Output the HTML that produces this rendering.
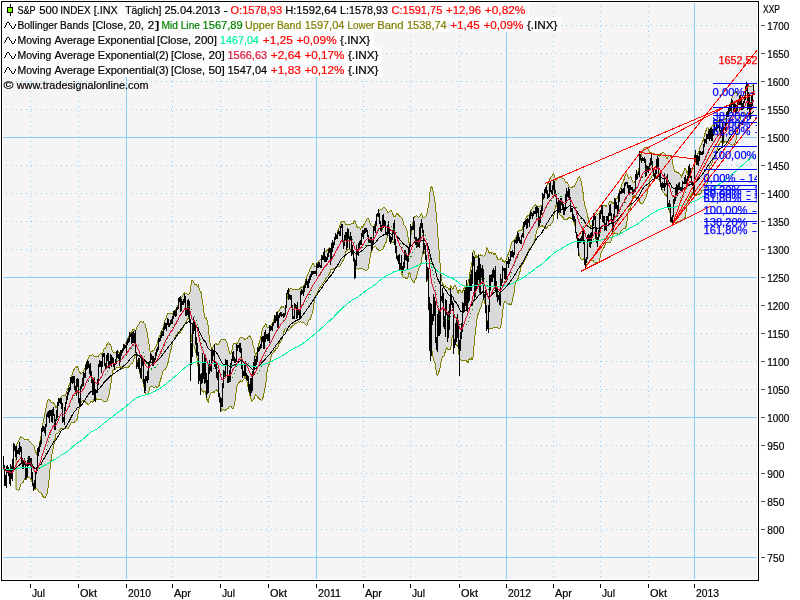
<!DOCTYPE html><html><head><meta charset="utf-8"><style>html,body{margin:0;padding:0;background:#fff;width:800px;height:600px;overflow:hidden}</style></head><body><svg width="800" height="600" viewBox="0 0 800 600" style="position:absolute;left:0;top:0;will-change:transform;font-family:'Liberation Sans',sans-serif;font-size:11px">
<rect x="0" y="0" width="800" height="600" fill="#fff"/>
<rect x="2" y="2" width="756" height="578" fill="#f5f5f5"/>
<defs><clipPath id="cp"><rect x="2" y="2" width="756" height="578"/></clipPath></defs>
<g shape-rendering="crispEdges" stroke="#87cefa" stroke-width="1" fill="none"><line x1="2" x2="758" y1="557.5" y2="557.5"/><line x1="1" x2="758" y1="529.5" y2="529.5" stroke-dasharray="1 4"/><line x1="1" x2="758" y1="501.5" y2="501.5" stroke-dasharray="1 4"/><line x1="1" x2="758" y1="473.5" y2="473.5" stroke-dasharray="1 4"/><line x1="1" x2="758" y1="445.5" y2="445.5" stroke-dasharray="1 4"/><line x1="2" x2="758" y1="417.5" y2="417.5"/><line x1="1" x2="758" y1="389.5" y2="389.5" stroke-dasharray="1 4"/><line x1="1" x2="758" y1="361.5" y2="361.5" stroke-dasharray="1 4"/><line x1="1" x2="758" y1="333.5" y2="333.5" stroke-dasharray="1 4"/><line x1="1" x2="758" y1="305.5" y2="305.5" stroke-dasharray="1 4"/><line x1="2" x2="758" y1="277.5" y2="277.5"/><line x1="1" x2="758" y1="249.5" y2="249.5" stroke-dasharray="1 4"/><line x1="1" x2="758" y1="221.5" y2="221.5" stroke-dasharray="1 4"/><line x1="1" x2="758" y1="193.5" y2="193.5" stroke-dasharray="1 4"/><line x1="1" x2="758" y1="165.5" y2="165.5" stroke-dasharray="1 4"/><line x1="2" x2="758" y1="137.5" y2="137.5"/><line x1="1" x2="758" y1="109.5" y2="109.5" stroke-dasharray="1 4"/><line x1="1" x2="758" y1="81.5" y2="81.5" stroke-dasharray="1 4"/><line x1="1" x2="758" y1="53.5" y2="53.5" stroke-dasharray="1 4"/><line x1="1" x2="758" y1="25.5" y2="25.5" stroke-dasharray="1 4"/><line y1="1" y2="580" x1="30.5" x2="30.5" stroke-dasharray="1 4"/><line y1="1" y2="580" x1="78.5" x2="78.5" stroke-dasharray="1 4"/><line y1="2" y2="580" x1="126.5" x2="126.5"/><line y1="1" y2="580" x1="172.5" x2="172.5" stroke-dasharray="1 4"/><line y1="1" y2="580" x1="220.5" x2="220.5" stroke-dasharray="1 4"/><line y1="1" y2="580" x1="268.5" x2="268.5" stroke-dasharray="1 4"/><line y1="2" y2="580" x1="316.5" x2="316.5"/><line y1="1" y2="580" x1="363.5" x2="363.5" stroke-dasharray="1 4"/><line y1="1" y2="580" x1="410.5" x2="410.5" stroke-dasharray="1 4"/><line y1="1" y2="580" x1="459.5" x2="459.5" stroke-dasharray="1 4"/><line y1="2" y2="580" x1="506.5" x2="506.5"/><line y1="1" y2="580" x1="553.5" x2="553.5" stroke-dasharray="1 4"/><line y1="1" y2="580" x1="600.5" x2="600.5" stroke-dasharray="1 4"/><line y1="1" y2="580" x1="648.5" x2="648.5" stroke-dasharray="1 4"/><line y1="2" y2="580" x1="694.5" x2="694.5"/></g>
<rect x="2" y="2" width="527" height="15" fill="#fff" fill-opacity="0.82"/>
<rect x="2" y="17" width="559" height="15" fill="#fff" fill-opacity="0.82"/>
<rect x="2" y="32" width="372" height="15" fill="#fff" fill-opacity="0.82"/>
<rect x="2" y="47" width="380" height="15" fill="#fff" fill-opacity="0.82"/>
<rect x="2" y="62" width="380" height="15" fill="#fff" fill-opacity="0.82"/>
<g clip-path="url(#cp)">
<path d="M16.0 446.4 L16.8 444.3 L17.5 443.4 L18.3 441.4 L19.0 439.8 L19.8 438.5 L20.5 437.0 L21.3 437.9 L22.0 437.9 L22.8 438.0 L23.5 438.1 L24.3 439.2 L25.1 439.7 L25.8 439.0 L26.6 439.5 L27.3 439.7 L28.1 439.7 L28.8 440.6 L29.6 441.9 L30.3 442.2 L31.1 443.0 L31.8 444.0 L32.6 444.1 L33.3 445.1 L34.1 446.5 L34.8 448.9 L35.6 452.7 L36.4 453.9 L37.1 452.0 L37.9 449.3 L38.6 447.2 L39.4 444.1 L40.1 440.4 L40.9 437.3 L41.6 431.7 L42.4 426.8 L43.1 422.0 L43.9 418.3 L44.6 415.2 L45.4 411.2 L46.1 407.9 L46.9 403.6 L47.7 400.7 L48.4 399.3 L49.2 399.4 L49.9 400.2 L50.7 400.6 L51.4 403.0 L52.2 402.9 L52.9 402.1 L53.7 403.0 L54.4 404.3 L55.2 405.6 L55.9 407.5 L56.7 407.1 L57.5 404.4 L58.2 402.3 L59.0 400.4 L59.7 399.3 L60.5 397.6 L61.2 396.4 L62.0 395.8 L62.7 395.7 L63.5 395.6 L64.2 395.7 L65.0 395.4 L65.7 394.5 L66.5 393.1 L67.2 390.5 L68.0 388.5 L68.8 385.9 L69.5 384.8 L70.3 381.4 L71.0 378.8 L71.8 375.9 L72.5 373.7 L73.3 370.9 L74.0 369.4 L74.8 368.8 L75.5 368.5 L76.3 367.1 L77.0 366.2 L77.8 367.2 L78.6 369.7 L79.3 371.5 L80.1 372.8 L80.8 373.4 L81.6 373.5 L82.3 372.8 L83.1 371.8 L83.8 370.4 L84.6 369.4 L85.3 366.8 L86.1 363.8 L86.8 362.2 L87.6 359.5 L88.3 358.0 L89.1 357.2 L89.9 355.4 L90.6 355.1 L91.4 355.0 L92.1 355.0 L92.9 354.6 L93.6 355.8 L94.4 356.8 L95.1 357.0 L95.9 356.7 L96.6 356.3 L97.4 356.3 L98.1 356.4 L98.9 355.3 L99.6 354.1 L100.4 353.5 L101.2 354.3 L101.9 353.8 L102.7 352.6 L103.4 350.7 L104.2 348.5 L104.9 348.3 L105.7 347.8 L106.4 345.8 L107.2 344.2 L107.9 343.1 L108.7 342.7 L109.4 344.1 L110.2 344.7 L111.0 346.0 L111.7 349.3 L112.5 350.5 L113.2 352.5 L114.0 352.4 L114.7 352.5 L115.5 352.4 L116.2 352.6 L117.0 351.8 L117.7 351.9 L118.5 352.0 L119.2 352.4 L120.0 352.4 L120.7 351.9 L121.5 350.8 L122.3 349.5 L123.0 347.7 L123.8 346.1 L124.5 344.9 L125.3 343.7 L126.0 343.4 L126.8 341.7 L127.5 339.6 L128.3 337.9 L129.0 336.4 L129.8 334.8 L130.5 333.0 L131.3 332.4 L132.0 330.9 L132.8 329.5 L133.6 329.3 L134.3 329.4 L135.1 330.5 L135.8 330.6 L136.6 328.0 L137.3 326.6 L138.1 325.2 L138.8 324.5 L139.6 323.2 L140.3 321.5 L141.1 321.1 L141.8 321.7 L142.6 322.6 L143.4 322.1 L144.1 322.9 L144.9 324.0 L145.6 326.8 L146.4 328.8 L147.1 332.6 L147.9 337.4 L148.6 340.8 L149.4 347.1 L150.1 351.5 L150.9 352.4 L151.6 351.2 L152.4 351.3 L153.1 350.4 L153.9 350.0 L154.7 349.0 L155.4 347.1 L156.2 345.2 L156.9 343.9 L157.7 341.9 L158.4 338.8 L159.2 336.3 L159.9 335.0 L160.7 332.8 L161.4 331.0 L162.2 329.2 L162.9 328.3 L163.7 325.6 L164.4 322.4 L165.2 319.7 L166.0 317.9 L166.7 315.9 L167.5 314.3 L168.2 313.3 L169.0 313.2 L169.7 313.7 L170.5 313.2 L171.2 313.0 L172.0 313.8 L172.7 314.2 L173.5 312.4 L174.2 310.9 L175.0 310.6 L175.8 309.9 L176.5 308.2 L177.3 306.7 L178.0 305.6 L178.8 302.4 L179.5 299.5 L180.3 299.0 L181.0 298.6 L181.8 297.2 L182.5 295.9 L183.3 294.8 L184.0 293.3 L184.8 292.7 L185.5 293.1 L186.3 293.6 L187.1 294.1 L187.8 294.6 L188.6 294.5 L189.3 293.5 L190.1 292.2 L190.8 286.2 L191.6 280.7 L192.3 280.8 L193.1 281.1 L193.8 282.6 L194.6 284.3 L195.3 284.1 L196.1 284.6 L196.8 285.6 L197.6 286.7 L198.4 285.5 L199.1 288.3 L199.9 290.7 L200.6 291.5 L201.4 293.6 L202.1 299.6 L202.9 303.8 L203.6 310.3 L204.4 314.7 L205.1 318.7 L205.9 319.1 L206.6 318.2 L207.4 322.2 L208.2 326.2 L208.9 334.1 L209.7 340.7 L210.4 344.9 L211.2 347.8 L211.9 348.6 L212.7 348.5 L213.4 346.0 L214.2 344.4 L214.9 344.1 L215.7 343.9 L216.4 344.0 L217.2 344.8 L217.9 344.9 L218.7 343.4 L219.5 342.1 L220.2 341.6 L221.0 340.0 L221.7 339.1 L222.5 339.1 L223.2 339.1 L224.0 339.4 L224.7 340.0 L225.5 339.7 L226.2 341.3 L227.0 342.8 L227.7 346.0 L228.5 349.6 L229.3 352.4 L230.0 354.0 L230.8 353.9 L231.5 351.7 L232.3 348.4 L233.0 345.4 L233.8 343.6 L234.5 343.2 L235.3 343.7 L236.0 343.4 L236.8 344.8 L237.5 342.9 L238.3 341.2 L239.0 339.9 L239.8 338.3 L240.6 337.3 L241.3 337.2 L242.1 337.1 L242.8 338.0 L243.6 338.5 L244.3 338.7 L245.1 339.9 L245.8 339.1 L246.6 338.4 L247.3 338.1 L248.1 337.1 L248.8 336.6 L249.6 335.7 L250.3 336.1 L251.1 338.0 L251.9 339.9 L252.6 343.3 L253.4 346.5 L254.1 348.4 L254.9 352.5 L255.6 355.4 L256.4 354.0 L257.1 351.8 L257.9 348.1 L258.6 345.0 L259.4 342.2 L260.1 339.7 L260.9 336.8 L261.7 332.4 L262.4 329.0 L263.2 327.3 L263.9 326.7 L264.7 325.2 L265.4 324.0 L266.2 324.5 L266.9 327.0 L267.7 327.4 L268.4 327.1 L269.2 327.0 L269.9 326.0 L270.7 325.2 L271.4 324.9 L272.2 323.7 L273.0 322.1 L273.7 320.5 L274.5 318.0 L275.2 316.6 L276.0 315.3 L276.7 312.6 L277.5 312.1 L278.2 311.1 L279.0 311.0 L279.7 309.5 L280.5 308.3 L281.2 307.2 L282.0 306.8 L282.7 306.8 L283.5 307.0 L284.3 308.9 L285.0 307.8 L285.8 306.5 L286.5 301.8 L287.3 297.1 L288.0 293.8 L288.8 292.2 L289.5 290.1 L290.3 288.9 L291.0 288.8 L291.8 288.6 L292.5 289.2 L293.3 289.3 L294.1 289.3 L294.8 289.2 L295.6 289.1 L296.3 289.0 L297.1 289.1 L297.8 289.2 L298.6 289.3 L299.3 289.1 L300.1 288.8 L300.8 287.4 L301.6 287.0 L302.3 287.3 L303.1 287.2 L303.8 285.8 L304.6 284.3 L305.4 281.7 L306.1 278.8 L306.9 276.2 L307.6 275.1 L308.4 273.6 L309.1 271.8 L309.9 269.8 L310.6 267.4 L311.4 266.1 L312.1 264.5 L312.9 263.8 L313.6 264.0 L314.4 266.4 L315.1 266.9 L315.9 266.5 L316.7 264.6 L317.4 263.5 L318.2 262.1 L318.9 261.1 L319.7 260.5 L320.4 259.9 L321.2 259.0 L321.9 257.1 L322.7 256.4 L323.4 254.2 L324.2 252.4 L324.9 252.2 L325.7 251.9 L326.5 251.3 L327.2 250.4 L328.0 249.7 L328.7 248.5 L329.5 247.4 L330.2 248.1 L331.0 248.9 L331.7 246.7 L332.5 245.4 L333.2 243.7 L334.0 242.0 L334.7 239.7 L335.5 237.2 L336.2 235.6 L337.0 233.7 L337.8 231.3 L338.5 228.8 L339.3 227.0 L340.0 225.0 L340.8 223.0 L341.5 221.1 L342.3 221.2 L343.0 221.6 L343.8 221.7 L344.5 221.6 L345.3 223.3 L346.0 224.8 L346.8 224.8 L347.5 224.6 L348.3 224.7 L349.1 224.7 L349.8 224.7 L350.6 224.8 L351.3 223.8 L352.1 223.7 L352.8 223.7 L353.6 223.2 L354.3 220.3 L355.1 221.0 L355.8 223.1 L356.6 226.3 L357.3 227.0 L358.1 227.2 L358.9 227.1 L359.6 227.5 L360.4 228.9 L361.1 228.0 L361.9 226.5 L362.6 227.1 L363.4 226.0 L364.1 224.2 L364.9 223.3 L365.6 221.9 L366.4 220.1 L367.1 219.0 L367.9 218.1 L368.6 218.3 L369.4 221.2 L370.2 223.1 L370.9 225.0 L371.7 225.4 L372.4 226.4 L373.2 226.8 L373.9 225.9 L374.7 225.2 L375.4 223.4 L376.2 220.5 L376.9 217.4 L377.7 214.3 L378.4 212.1 L379.2 210.5 L380.0 209.9 L380.7 209.9 L381.5 209.7 L382.2 209.1 L383.0 207.7 L383.7 207.9 L384.5 207.8 L385.2 208.4 L386.0 208.8 L386.7 210.6 L387.5 212.2 L388.2 212.4 L389.0 212.3 L389.7 211.1 L390.5 210.3 L391.3 210.7 L392.0 212.0 L392.8 214.1 L393.5 215.7 L394.3 216.8 L395.0 217.1 L395.8 215.9 L396.5 214.1 L397.3 213.6 L398.0 214.6 L398.8 215.3 L399.5 216.0 L400.3 216.4 L401.0 217.3 L401.8 217.4 L402.6 219.3 L403.3 222.4 L404.1 224.9 L404.8 226.0 L405.6 227.3 L406.3 229.1 L407.1 231.6 L407.8 235.5 L408.6 242.7 L409.3 243.7 L410.1 242.5 L410.8 236.7 L411.6 231.7 L412.4 227.3 L413.1 221.5 L413.9 217.9 L414.6 216.9 L415.4 216.5 L416.1 215.7 L416.9 216.1 L417.6 216.5 L418.4 217.2 L419.1 216.9 L419.9 216.3 L420.6 214.8 L421.4 213.8 L422.1 215.6 L422.9 217.5 L423.7 218.0 L424.4 217.6 L425.2 216.5 L425.9 216.2 L426.7 213.1 L427.4 212.3 L428.2 207.0 L428.9 204.3 L429.7 192.5 L430.4 190.7 L431.2 186.4 L431.9 187.2 L432.7 189.4 L433.4 192.2 L434.2 196.8 L435.0 202.2 L435.7 208.9 L436.5 216.8 L437.2 225.6 L438.0 236.7 L438.7 245.6 L439.5 255.4 L440.2 265.4 L441.0 274.7 L441.7 279.3 L442.5 285.0 L443.2 284.7 L444.0 286.0 L444.8 287.3 L445.5 286.1 L446.3 287.3 L447.0 287.3 L447.8 287.5 L448.5 289.2 L449.3 289.4 L450.0 288.2 L450.8 286.0 L451.5 286.9 L452.3 289.1 L453.0 289.3 L453.8 286.6 L454.5 285.3 L455.3 285.3 L456.1 287.0 L456.8 289.0 L457.6 292.2 L458.3 293.2 L459.1 290.1 L459.8 289.5 L460.6 291.6 L461.3 292.7 L462.1 292.6 L462.8 290.8 L463.6 289.4 L464.3 287.9 L465.1 288.4 L465.8 287.4 L466.6 287.6 L467.4 285.2 L468.1 282.6 L468.9 280.1 L469.6 275.6 L470.4 269.5 L471.1 266.7 L471.9 263.2 L472.6 255.3 L473.4 249.7 L474.1 251.6 L474.9 254.9 L475.6 256.7 L476.4 255.9 L477.2 257.9 L477.9 256.8 L478.7 254.8 L479.4 255.3 L480.2 255.9 L480.9 254.6 L481.7 255.6 L482.4 255.2 L483.2 256.4 L483.9 256.4 L484.7 255.6 L485.4 253.7 L486.2 251.6 L486.9 247.8 L487.7 248.3 L488.5 252.1 L489.2 253.5 L490.0 252.4 L490.7 252.0 L491.5 253.2 L492.2 252.9 L493.0 253.1 L493.7 254.6 L494.5 254.4 L495.2 253.4 L496.0 255.3 L496.7 256.7 L497.5 259.0 L498.2 259.8 L499.0 259.7 L499.8 259.8 L500.5 258.8 L501.3 258.1 L502.0 259.3 L502.8 261.5 L503.5 261.0 L504.3 262.4 L505.0 261.3 L505.8 260.7 L506.5 258.1 L507.3 256.4 L508.0 254.4 L508.8 253.0 L509.6 250.7 L510.3 247.8 L511.1 244.9 L511.8 242.4 L512.6 241.8 L513.3 241.3 L514.1 239.7 L514.8 240.4 L515.6 238.2 L516.3 236.5 L517.1 234.9 L517.8 231.9 L518.6 230.2 L519.3 230.3 L520.1 230.2 L520.9 231.2 L521.6 230.1 L522.4 229.2 L523.1 226.1 L523.9 224.0 L524.6 222.1 L525.4 219.6 L526.1 217.5 L526.9 216.6 L527.6 215.8 L528.4 215.3 L529.1 214.9 L529.9 213.1 L530.7 211.2 L531.4 209.5 L532.2 208.7 L532.9 207.2 L533.7 206.1 L534.4 205.3 L535.2 204.8 L535.9 205.9 L536.7 205.6 L537.4 206.3 L538.2 206.1 L538.9 206.1 L539.7 206.2 L540.4 205.8 L541.2 205.1 L542.0 205.0 L542.7 201.0 L543.5 198.3 L544.2 195.2 L545.0 192.0 L545.7 188.5 L546.5 186.1 L547.2 184.4 L548.0 183.6 L548.7 182.7 L549.5 179.9 L550.2 178.0 L551.0 177.0 L551.7 176.1 L552.5 175.1 L553.3 173.7 L554.0 175.2 L554.8 177.5 L555.5 179.1 L556.3 180.1 L557.0 178.4 L557.8 177.1 L558.5 177.1 L559.3 176.6 L560.0 176.4 L560.8 177.2 L561.5 177.9 L562.3 178.3 L563.1 178.4 L563.8 178.3 L564.6 180.3 L565.3 181.8 L566.1 182.3 L566.8 182.3 L567.6 183.2 L568.3 184.8 L569.1 186.1 L569.8 186.6 L570.6 187.3 L571.3 187.3 L572.1 187.6 L572.8 186.9 L573.6 186.7 L574.4 186.1 L575.1 184.5 L575.9 183.5 L576.6 182.3 L577.4 179.7 L578.1 177.4 L578.9 176.9 L579.6 177.0 L580.4 178.7 L581.1 181.7 L581.9 185.7 L582.6 189.7 L583.4 195.3 L584.1 201.6 L584.9 205.4 L585.7 207.3 L586.4 210.5 L587.2 214.2 L587.9 217.1 L588.7 220.5 L589.4 224.2 L590.2 225.6 L590.9 226.7 L591.7 226.3 L592.4 223.7 L593.2 221.4 L593.9 217.6 L594.7 214.6 L595.5 214.4 L596.2 213.7 L597.0 213.8 L597.7 214.3 L598.5 213.7 L599.2 213.2 L600.0 211.6 L600.7 210.7 L601.5 208.9 L602.2 206.5 L603.0 205.8 L603.7 205.1 L604.5 205.8 L605.2 205.8 L606.0 206.5 L606.8 205.9 L607.5 205.5 L608.3 204.5 L609.0 203.2 L609.8 201.4 L610.5 201.0 L611.3 201.0 L612.0 202.4 L612.8 203.5 L613.5 203.6 L614.3 201.7 L615.0 199.7 L615.8 198.7 L616.5 198.5 L617.3 198.7 L618.1 196.1 L618.8 193.5 L619.6 190.6 L620.3 188.2 L621.1 186.8 L621.8 184.4 L622.6 182.7 L623.3 181.0 L624.1 179.3 L624.8 176.9 L625.6 174.6 L626.3 173.3 L627.1 174.2 L627.9 176.5 L628.6 177.9 L629.4 177.3 L630.1 176.9 L630.9 177.0 L631.6 177.8 L632.4 181.7 L633.1 182.4 L633.9 182.9 L634.6 182.9 L635.4 179.9 L636.1 176.6 L636.9 175.2 L637.6 173.5 L638.4 171.7 L639.2 166.5 L639.9 161.5 L640.7 158.1 L641.4 155.3 L642.2 152.6 L642.9 150.4 L643.7 148.8 L644.4 147.5 L645.2 147.3 L645.9 147.6 L646.7 147.5 L647.4 148.6 L648.2 149.5 L649.0 151.1 L649.7 153.7 L650.5 153.1 L651.2 152.5 L652.0 153.0 L652.7 153.4 L653.5 153.1 L654.2 153.2 L655.0 153.7 L655.7 154.5 L656.5 154.9 L657.2 154.9 L658.0 155.2 L658.7 155.9 L659.5 156.5 L660.3 155.0 L661.0 153.5 L661.8 153.0 L662.5 152.5 L663.3 152.4 L664.0 152.9 L664.8 153.6 L665.5 155.6 L666.3 157.9 L667.0 158.8 L667.8 157.3 L668.5 156.4 L669.3 156.0 L670.0 155.5 L670.8 155.0 L671.6 156.7 L672.3 160.6 L673.1 165.7 L673.8 168.3 L674.6 171.2 L675.3 171.5 L676.1 171.7 L676.8 172.5 L677.6 172.6 L678.3 172.3 L679.1 173.5 L679.8 173.9 L680.6 174.7 L681.4 176.7 L682.1 175.4 L682.9 173.8 L683.6 172.3 L684.4 170.1 L685.1 168.3 L685.9 169.2 L686.6 171.8 L687.4 173.8 L688.1 171.0 L688.9 170.3 L689.6 168.9 L690.4 168.3 L691.1 168.1 L691.9 168.8 L692.7 168.9 L693.4 168.4 L694.2 168.1 L694.9 163.8 L695.7 160.9 L696.4 157.6 L697.2 155.2 L697.9 153.7 L698.7 152.0 L699.4 149.2 L700.2 146.8 L700.9 145.0 L701.7 143.7 L702.4 142.1 L703.2 140.0 L704.0 137.5 L704.7 134.5 L705.5 131.9 L706.2 130.0 L707.0 128.2 L707.7 127.6 L708.5 129.7 L709.2 130.8 L710.0 129.8 L710.7 127.6 L711.5 127.2 L712.2 125.8 L713.0 125.2 L713.8 125.0 L714.5 123.6 L715.3 122.7 L716.0 122.0 L716.8 121.7 L717.5 121.8 L718.3 121.8 L719.0 120.4 L719.8 120.6 L720.5 120.9 L721.3 121.1 L722.0 120.1 L722.8 120.0 L723.5 119.7 L724.3 119.6 L725.1 119.4 L725.8 118.7 L726.6 116.6 L727.3 114.3 L728.1 111.9 L728.8 109.0 L729.6 105.9 L730.3 103.6 L731.1 101.4 L731.8 98.4 L732.6 96.1 L733.3 94.8 L734.1 94.0 L734.8 92.5 L735.6 92.6 L736.4 91.6 L737.1 93.7 L737.9 94.9 L738.6 95.0 L739.4 95.2 L740.1 96.5 L740.9 97.0 L741.6 97.5 L742.4 97.8 L743.1 98.1 L743.9 97.9 L744.6 97.1 L745.4 93.5 L746.2 89.7 L746.9 87.4 L747.7 87.4 L748.4 86.8 L749.2 87.0 L749.9 86.4 L750.7 86.7 L751.4 86.7 L752.2 85.9 L752.9 85.1 L753.7 83.1 L753.7 115.8 L752.9 115.4 L752.2 115.5 L751.4 116.3 L750.7 116.5 L749.9 117.3 L749.2 115.8 L748.4 116.2 L747.7 116.8 L746.9 116.4 L746.2 115.5 L745.4 114.0 L744.6 112.3 L743.9 112.2 L743.1 112.6 L742.4 113.5 L741.6 114.8 L740.9 116.0 L740.1 119.1 L739.4 122.9 L738.6 126.1 L737.9 128.8 L737.1 133.8 L736.4 139.4 L735.6 140.8 L734.8 143.3 L734.1 144.5 L733.3 144.6 L732.6 145.1 L731.8 145.0 L731.1 144.4 L730.3 144.2 L729.6 143.9 L728.8 142.9 L728.1 142.3 L727.3 141.8 L726.6 141.1 L725.8 141.5 L725.1 141.5 L724.3 142.5 L723.5 143.0 L722.8 143.2 L722.0 142.9 L721.3 141.1 L720.5 142.4 L719.8 143.1 L719.0 144.4 L718.3 145.6 L717.5 147.7 L716.8 150.6 L716.0 152.9 L715.3 155.0 L714.5 156.6 L713.8 157.8 L713.0 160.3 L712.2 162.7 L711.5 164.1 L710.7 165.3 L710.0 166.1 L709.2 167.2 L708.5 172.5 L707.7 180.4 L707.0 184.5 L706.2 187.4 L705.5 189.2 L704.7 190.3 L704.0 190.1 L703.2 190.4 L702.4 190.1 L701.7 190.9 L700.9 192.9 L700.2 194.0 L699.4 194.0 L698.7 193.7 L697.9 194.4 L697.2 195.0 L696.4 195.4 L695.7 195.2 L694.9 195.3 L694.2 193.9 L693.4 194.2 L692.7 192.9 L691.9 193.5 L691.1 195.3 L690.4 196.3 L689.6 196.8 L688.9 198.4 L688.1 200.4 L687.4 200.9 L686.6 206.9 L685.9 212.9 L685.1 217.3 L684.4 218.6 L683.6 219.1 L682.9 219.8 L682.1 220.4 L681.4 220.2 L680.6 221.1 L679.8 221.4 L679.1 221.5 L678.3 222.0 L677.6 221.9 L676.8 222.0 L676.1 222.0 L675.3 222.0 L674.6 222.1 L673.8 222.6 L673.1 222.7 L672.3 223.9 L671.6 222.1 L670.8 218.1 L670.0 212.8 L669.3 209.3 L668.5 206.0 L667.8 202.1 L667.0 197.1 L666.3 194.5 L665.5 195.0 L664.8 194.5 L664.0 193.1 L663.3 192.6 L662.5 190.7 L661.8 188.6 L661.0 186.2 L660.3 183.3 L659.5 180.2 L658.7 179.5 L658.0 178.7 L657.2 178.8 L656.5 178.8 L655.7 178.9 L655.0 178.6 L654.2 177.1 L653.5 175.6 L652.7 175.1 L652.0 175.9 L651.2 177.9 L650.5 178.6 L649.7 179.7 L649.0 184.9 L648.2 188.7 L647.4 191.8 L646.7 195.3 L645.9 197.2 L645.2 198.8 L644.4 200.4 L643.7 201.7 L642.9 203.3 L642.2 203.7 L641.4 203.7 L640.7 203.2 L639.9 202.2 L639.2 200.0 L638.4 197.9 L637.6 197.9 L636.9 197.9 L636.1 197.8 L635.4 196.4 L634.6 195.1 L633.9 195.2 L633.1 196.4 L632.4 197.9 L631.6 203.7 L630.9 206.4 L630.1 208.3 L629.4 209.3 L628.6 210.1 L627.9 213.9 L627.1 220.4 L626.3 225.5 L625.6 227.9 L624.8 228.7 L624.1 228.5 L623.3 228.7 L622.6 229.3 L621.8 230.4 L621.1 230.7 L620.3 233.1 L619.6 234.1 L618.8 234.6 L618.1 234.3 L617.3 233.8 L616.5 233.7 L615.8 233.7 L615.0 233.4 L614.3 232.7 L613.5 234.0 L612.8 235.7 L612.0 237.8 L611.3 240.6 L610.5 241.4 L609.8 243.1 L609.0 242.5 L608.3 242.1 L607.5 242.1 L606.8 242.3 L606.0 243.2 L605.2 245.0 L604.5 246.0 L603.7 248.5 L603.0 249.3 L602.2 250.8 L601.5 251.5 L600.7 254.6 L600.0 258.5 L599.2 261.7 L598.5 262.2 L597.7 262.7 L597.0 262.5 L596.2 262.3 L595.5 262.5 L594.7 262.6 L593.9 261.8 L593.2 260.4 L592.4 260.8 L591.7 260.3 L590.9 260.2 L590.2 260.4 L589.4 261.0 L588.7 262.2 L587.9 263.8 L587.2 264.5 L586.4 265.4 L585.7 264.0 L584.9 260.8 L584.1 258.2 L583.4 259.3 L582.6 259.8 L581.9 260.1 L581.1 259.3 L580.4 257.9 L579.6 255.6 L578.9 252.5 L578.1 249.2 L577.4 242.2 L576.6 235.6 L575.9 231.1 L575.1 226.7 L574.4 223.3 L573.6 221.7 L572.8 219.9 L572.1 218.4 L571.3 219.0 L570.6 218.3 L569.8 217.4 L569.1 217.5 L568.3 218.1 L567.6 219.0 L566.8 219.3 L566.1 219.3 L565.3 219.5 L564.6 219.8 L563.8 219.2 L563.1 217.5 L562.3 216.8 L561.5 215.8 L560.8 215.3 L560.0 215.0 L559.3 212.9 L558.5 210.6 L557.8 210.2 L557.0 207.4 L556.3 204.9 L555.5 206.6 L554.8 210.0 L554.0 214.9 L553.3 220.3 L552.5 222.0 L551.7 223.2 L551.0 224.0 L550.2 225.2 L549.5 225.5 L548.7 225.5 L548.0 226.3 L547.2 227.1 L546.5 228.0 L545.7 228.0 L545.0 227.2 L544.2 226.6 L543.5 226.9 L542.7 226.6 L542.0 225.1 L541.2 226.6 L540.4 226.9 L539.7 227.4 L538.9 227.8 L538.2 227.7 L537.4 228.6 L536.7 231.8 L535.9 234.3 L535.2 238.4 L534.4 241.3 L533.7 243.3 L532.9 244.8 L532.2 245.4 L531.4 247.0 L530.7 247.9 L529.9 248.6 L529.1 249.2 L528.4 250.8 L527.6 253.5 L526.9 256.2 L526.1 258.0 L525.4 259.1 L524.6 259.9 L523.9 261.7 L523.1 263.4 L522.4 263.8 L521.6 265.6 L520.9 267.1 L520.1 271.2 L519.3 273.9 L518.6 277.7 L517.8 279.0 L517.1 279.4 L516.3 281.2 L515.6 283.6 L514.8 285.5 L514.1 292.3 L513.3 295.7 L512.6 299.5 L511.8 303.3 L511.1 304.7 L510.3 304.9 L509.6 304.0 L508.8 304.4 L508.0 303.9 L507.3 303.2 L506.5 302.6 L505.8 301.9 L505.0 301.9 L504.3 301.7 L503.5 306.2 L502.8 309.8 L502.0 318.0 L501.3 324.3 L500.5 326.7 L499.8 328.4 L499.0 328.0 L498.2 328.1 L497.5 327.7 L496.7 327.4 L496.0 327.3 L495.2 327.7 L494.5 327.6 L493.7 327.6 L493.0 328.3 L492.2 328.4 L491.5 328.3 L490.7 328.6 L490.0 328.6 L489.2 329.1 L488.5 327.2 L487.7 325.9 L486.9 319.3 L486.2 311.0 L485.4 306.6 L484.7 301.2 L483.9 299.2 L483.2 299.3 L482.4 301.9 L481.7 303.3 L480.9 307.2 L480.2 308.1 L479.4 310.8 L478.7 312.4 L477.9 314.9 L477.2 317.5 L476.4 325.0 L475.6 329.6 L474.9 336.6 L474.1 345.2 L473.4 355.8 L472.6 358.8 L471.9 357.8 L471.1 359.4 L470.4 359.7 L469.6 358.6 L468.9 359.8 L468.1 362.2 L467.4 362.0 L466.6 360.8 L465.8 360.9 L465.1 360.4 L464.3 360.6 L463.6 360.1 L462.8 360.0 L462.1 360.0 L461.3 360.0 L460.6 359.9 L459.8 359.0 L459.1 356.1 L458.3 348.7 L457.6 345.6 L456.8 345.6 L456.1 344.1 L455.3 343.9 L454.5 343.1 L453.8 340.5 L453.0 335.2 L452.3 335.6 L451.5 342.2 L450.8 347.6 L450.0 349.6 L449.3 349.2 L448.5 349.2 L447.8 349.2 L447.0 348.5 L446.3 347.4 L445.5 352.3 L444.8 352.5 L444.0 356.4 L443.2 356.3 L442.5 356.2 L441.7 359.5 L441.0 361.9 L440.2 366.8 L439.5 370.4 L438.7 372.3 L438.0 374.0 L437.2 375.6 L436.5 372.5 L435.7 368.0 L435.0 363.4 L434.2 361.3 L433.4 358.5 L432.7 355.5 L431.9 350.1 L431.2 343.3 L430.4 328.0 L429.7 318.2 L428.9 295.3 L428.2 284.4 L427.4 270.6 L426.7 265.4 L425.9 257.5 L425.2 254.3 L424.4 251.6 L423.7 250.8 L422.9 251.8 L422.1 256.6 L421.4 262.3 L420.6 264.7 L419.9 266.4 L419.1 267.5 L418.4 269.9 L417.6 272.5 L416.9 275.6 L416.1 278.4 L415.4 279.3 L414.6 281.2 L413.9 283.0 L413.1 282.4 L412.4 280.8 L411.6 279.4 L410.8 277.3 L410.1 273.7 L409.3 272.9 L408.6 273.5 L407.8 278.0 L407.1 279.0 L406.3 278.3 L405.6 278.1 L404.8 277.7 L404.1 277.7 L403.3 277.1 L402.6 276.1 L401.8 273.9 L401.0 270.5 L400.3 269.1 L399.5 265.8 L398.8 262.1 L398.0 259.8 L397.3 256.5 L396.5 252.5 L395.8 247.7 L395.0 244.5 L394.3 242.9 L393.5 241.6 L392.8 242.3 L392.0 242.6 L391.3 242.0 L390.5 240.4 L389.7 237.9 L389.0 235.7 L388.2 235.4 L387.5 236.3 L386.7 239.5 L386.0 242.6 L385.2 243.5 L384.5 245.4 L383.7 247.3 L383.0 249.0 L382.2 249.5 L381.5 249.9 L380.7 250.1 L380.0 250.1 L379.2 250.2 L378.4 250.0 L377.7 249.4 L376.9 248.4 L376.2 247.2 L375.4 246.3 L374.7 246.6 L373.9 247.1 L373.2 247.7 L372.4 249.9 L371.7 252.0 L370.9 252.7 L370.2 256.9 L369.4 261.1 L368.6 267.2 L367.9 269.2 L367.1 269.9 L366.4 270.1 L365.6 270.5 L364.9 270.0 L364.1 269.7 L363.4 269.2 L362.6 268.7 L361.9 268.9 L361.1 268.6 L360.4 268.5 L359.6 268.9 L358.9 269.0 L358.1 269.0 L357.3 268.7 L356.6 268.2 L355.8 268.9 L355.1 267.6 L354.3 264.8 L353.6 257.9 L352.8 254.5 L352.1 252.7 L351.3 251.6 L350.6 249.2 L349.8 249.1 L349.1 249.2 L348.3 249.1 L347.5 250.1 L346.8 251.3 L346.0 251.4 L345.3 254.0 L344.5 258.5 L343.8 259.6 L343.0 260.3 L342.3 261.5 L341.5 263.0 L340.8 264.4 L340.0 265.8 L339.3 266.8 L338.5 266.9 L337.8 266.6 L337.0 266.7 L336.2 266.9 L335.5 267.8 L334.7 268.4 L334.0 268.8 L333.2 269.1 L332.5 269.2 L331.7 269.8 L331.0 269.5 L330.2 272.0 L329.5 273.7 L328.7 274.8 L328.0 275.8 L327.2 276.9 L326.5 277.9 L325.7 278.7 L324.9 279.9 L324.2 281.6 L323.4 282.6 L322.7 283.3 L321.9 285.3 L321.2 285.8 L320.4 286.9 L319.7 287.9 L318.9 289.5 L318.2 291.1 L317.4 292.6 L316.7 294.2 L315.9 294.9 L315.1 296.5 L314.4 299.9 L313.6 306.7 L312.9 310.9 L312.1 314.1 L311.4 315.7 L310.6 318.7 L309.9 319.5 L309.1 320.2 L308.4 321.0 L307.6 323.2 L306.9 325.2 L306.1 325.1 L305.4 324.5 L304.6 323.4 L303.8 322.7 L303.1 322.1 L302.3 322.1 L301.6 322.2 L300.8 322.0 L300.1 321.9 L299.3 322.3 L298.6 321.9 L297.8 322.3 L297.1 322.7 L296.3 323.7 L295.6 323.2 L294.8 323.9 L294.1 324.7 L293.3 325.7 L292.5 325.7 L291.8 327.0 L291.0 327.6 L290.3 328.7 L289.5 329.8 L288.8 330.0 L288.0 330.8 L287.3 330.8 L286.5 329.5 L285.8 328.3 L285.0 329.1 L284.3 329.8 L283.5 334.4 L282.7 336.6 L282.0 339.1 L281.2 340.8 L280.5 341.8 L279.7 343.0 L279.0 343.5 L278.2 346.5 L277.5 347.9 L276.7 348.9 L276.0 348.6 L275.2 350.1 L274.5 351.4 L273.7 351.9 L273.0 353.0 L272.2 353.8 L271.4 355.8 L270.7 358.4 L269.9 361.1 L269.2 364.0 L268.4 365.6 L267.7 368.5 L266.9 372.3 L266.2 380.2 L265.4 386.2 L264.7 389.3 L263.9 393.5 L263.2 396.8 L262.4 399.7 L261.7 400.4 L260.9 399.9 L260.1 399.9 L259.4 399.1 L258.6 398.1 L257.9 397.3 L257.1 396.0 L256.4 395.3 L255.6 394.7 L254.9 396.4 L254.1 398.4 L253.4 399.4 L252.6 400.6 L251.9 401.4 L251.1 399.3 L250.3 396.9 L249.6 395.2 L248.8 391.2 L248.1 387.9 L247.3 383.4 L246.6 380.5 L245.8 378.0 L245.1 376.2 L244.3 378.8 L243.6 379.5 L242.8 380.5 L242.1 382.2 L241.3 381.3 L240.6 381.0 L239.8 381.3 L239.0 382.5 L238.3 383.7 L237.5 385.0 L236.8 386.9 L236.0 393.5 L235.3 399.0 L234.5 403.7 L233.8 407.2 L233.0 409.0 L232.3 408.2 L231.5 407.1 L230.8 406.5 L230.0 406.4 L229.3 406.6 L228.5 407.8 L227.7 408.8 L227.0 409.1 L226.2 409.6 L225.5 410.1 L224.7 410.1 L224.0 410.0 L223.2 409.8 L222.5 410.6 L221.7 410.5 L221.0 408.4 L220.2 404.4 L219.5 399.7 L218.7 394.6 L217.9 391.4 L217.2 390.7 L216.4 390.0 L215.7 390.5 L214.9 391.3 L214.2 392.1 L213.4 392.0 L212.7 392.1 L211.9 392.0 L211.2 392.4 L210.4 394.2 L209.7 395.8 L208.9 398.7 L208.2 401.8 L207.4 400.3 L206.6 398.7 L205.9 394.5 L205.1 391.3 L204.4 391.8 L203.6 392.0 L202.9 391.2 L202.1 389.9 L201.4 390.1 L200.6 385.3 L199.9 379.9 L199.1 374.6 L198.4 370.1 L197.6 361.2 L196.8 357.3 L196.1 353.4 L195.3 350.5 L194.6 347.1 L193.8 345.8 L193.1 345.1 L192.3 343.1 L191.6 341.2 L190.8 330.9 L190.1 321.7 L189.3 319.4 L188.6 317.6 L187.8 318.3 L187.1 319.3 L186.3 321.9 L185.5 323.4 L184.8 324.4 L184.0 326.4 L183.3 327.7 L182.5 328.9 L181.8 329.4 L181.0 330.4 L180.3 332.0 L179.5 333.0 L178.8 332.6 L178.0 332.3 L177.3 333.8 L176.5 334.9 L175.8 335.7 L175.0 337.3 L174.2 339.3 L173.5 340.7 L172.7 341.6 L172.0 345.1 L171.2 348.7 L170.5 351.7 L169.7 354.4 L169.0 358.3 L168.2 361.8 L167.5 364.3 L166.7 367.1 L166.0 368.4 L165.2 369.4 L164.4 369.9 L163.7 370.5 L162.9 371.4 L162.2 374.8 L161.4 377.0 L160.7 379.8 L159.9 381.8 L159.2 385.2 L158.4 386.7 L157.7 387.8 L156.9 387.3 L156.2 386.9 L155.4 386.6 L154.7 387.0 L153.9 387.1 L153.1 387.0 L152.4 386.9 L151.6 386.9 L150.9 386.5 L150.1 387.0 L149.4 389.7 L148.6 393.1 L147.9 394.2 L147.1 394.9 L146.4 395.0 L145.6 393.2 L144.9 391.6 L144.1 387.9 L143.4 384.4 L142.6 379.8 L141.8 378.5 L141.1 377.5 L140.3 375.5 L139.6 370.9 L138.8 367.3 L138.1 364.9 L137.3 361.6 L136.6 358.8 L135.8 354.7 L135.1 355.0 L134.3 358.1 L133.6 361.2 L132.8 362.5 L132.0 363.4 L131.3 363.7 L130.5 364.8 L129.8 365.4 L129.0 366.5 L128.3 367.9 L127.5 368.0 L126.8 367.7 L126.0 367.8 L125.3 367.9 L124.5 367.7 L123.8 368.1 L123.0 368.6 L122.3 367.7 L121.5 367.2 L120.7 366.8 L120.0 367.5 L119.2 368.0 L118.5 367.6 L117.7 367.6 L117.0 367.7 L116.2 368.0 L115.5 369.3 L114.7 369.4 L114.0 369.6 L113.2 369.5 L112.5 373.4 L111.7 376.9 L111.0 383.1 L110.2 388.0 L109.4 392.3 L108.7 397.0 L107.9 398.0 L107.2 400.8 L106.4 401.5 L105.7 401.7 L104.9 401.8 L104.2 401.8 L103.4 401.2 L102.7 400.4 L101.9 399.8 L101.2 399.6 L100.4 399.9 L99.6 399.6 L98.9 399.6 L98.1 399.4 L97.4 399.3 L96.6 399.4 L95.9 398.5 L95.1 397.6 L94.4 397.9 L93.6 399.5 L92.9 402.7 L92.1 401.6 L91.4 401.7 L90.6 401.9 L89.9 403.5 L89.1 404.1 L88.3 404.4 L87.6 404.0 L86.8 403.1 L86.1 402.7 L85.3 401.4 L84.6 400.1 L83.8 400.3 L83.1 400.3 L82.3 400.9 L81.6 401.5 L80.8 402.9 L80.1 405.1 L79.3 407.7 L78.6 410.9 L77.8 415.3 L77.0 419.6 L76.3 420.9 L75.5 421.5 L74.8 421.9 L74.0 422.5 L73.3 422.9 L72.5 422.7 L71.8 422.6 L71.0 423.2 L70.3 424.5 L69.5 425.4 L68.8 428.4 L68.0 428.4 L67.2 428.0 L66.5 427.6 L65.7 428.4 L65.0 428.5 L64.2 428.6 L63.5 429.0 L62.7 428.4 L62.0 428.0 L61.2 428.3 L60.5 429.5 L59.7 430.2 L59.0 432.1 L58.2 432.9 L57.5 433.2 L56.7 433.2 L55.9 434.4 L55.2 438.7 L54.4 442.0 L53.7 445.0 L52.9 449.4 L52.2 452.6 L51.4 456.6 L50.7 463.9 L49.9 470.3 L49.2 478.4 L48.4 484.9 L47.7 490.5 L46.9 494.5 L46.1 496.0 L45.4 497.8 L44.6 497.5 L43.9 497.5 L43.1 496.6 L42.4 495.4 L41.6 493.8 L40.9 492.5 L40.1 492.6 L39.4 492.4 L38.6 491.0 L37.9 490.1 L37.1 489.1 L36.4 488.4 L35.6 488.5 L34.8 489.8 L34.1 488.6 L33.3 486.8 L32.6 484.3 L31.8 481.1 L31.1 479.8 L30.3 478.0 L29.6 477.8 L28.8 477.7 L28.1 477.8 L27.3 477.8 L26.6 478.7 L25.8 479.6 L25.1 478.1 L24.3 478.9 L23.5 481.9 L22.8 482.8 L22.0 483.0 L21.3 483.1 L20.5 486.3 L19.8 487.8 L19.0 489.9 L18.3 490.1 L17.5 489.9 L16.8 489.6 L16.0 489.3Z" fill="#d3d3d3" fill-opacity="0.8" stroke="none"/>
<path d="M16.0 446.4 L16.8 444.3 L17.5 443.4 L18.3 441.4 L19.0 439.8 L19.8 438.5 L20.5 437.0 L21.3 437.9 L22.0 437.9 L22.8 438.0 L23.5 438.1 L24.3 439.2 L25.1 439.7 L25.8 439.0 L26.6 439.5 L27.3 439.7 L28.1 439.7 L28.8 440.6 L29.6 441.9 L30.3 442.2 L31.1 443.0 L31.8 444.0 L32.6 444.1 L33.3 445.1 L34.1 446.5 L34.8 448.9 L35.6 452.7 L36.4 453.9 L37.1 452.0 L37.9 449.3 L38.6 447.2 L39.4 444.1 L40.1 440.4 L40.9 437.3 L41.6 431.7 L42.4 426.8 L43.1 422.0 L43.9 418.3 L44.6 415.2 L45.4 411.2 L46.1 407.9 L46.9 403.6 L47.7 400.7 L48.4 399.3 L49.2 399.4 L49.9 400.2 L50.7 400.6 L51.4 403.0 L52.2 402.9 L52.9 402.1 L53.7 403.0 L54.4 404.3 L55.2 405.6 L55.9 407.5 L56.7 407.1 L57.5 404.4 L58.2 402.3 L59.0 400.4 L59.7 399.3 L60.5 397.6 L61.2 396.4 L62.0 395.8 L62.7 395.7 L63.5 395.6 L64.2 395.7 L65.0 395.4 L65.7 394.5 L66.5 393.1 L67.2 390.5 L68.0 388.5 L68.8 385.9 L69.5 384.8 L70.3 381.4 L71.0 378.8 L71.8 375.9 L72.5 373.7 L73.3 370.9 L74.0 369.4 L74.8 368.8 L75.5 368.5 L76.3 367.1 L77.0 366.2 L77.8 367.2 L78.6 369.7 L79.3 371.5 L80.1 372.8 L80.8 373.4 L81.6 373.5 L82.3 372.8 L83.1 371.8 L83.8 370.4 L84.6 369.4 L85.3 366.8 L86.1 363.8 L86.8 362.2 L87.6 359.5 L88.3 358.0 L89.1 357.2 L89.9 355.4 L90.6 355.1 L91.4 355.0 L92.1 355.0 L92.9 354.6 L93.6 355.8 L94.4 356.8 L95.1 357.0 L95.9 356.7 L96.6 356.3 L97.4 356.3 L98.1 356.4 L98.9 355.3 L99.6 354.1 L100.4 353.5 L101.2 354.3 L101.9 353.8 L102.7 352.6 L103.4 350.7 L104.2 348.5 L104.9 348.3 L105.7 347.8 L106.4 345.8 L107.2 344.2 L107.9 343.1 L108.7 342.7 L109.4 344.1 L110.2 344.7 L111.0 346.0 L111.7 349.3 L112.5 350.5 L113.2 352.5 L114.0 352.4 L114.7 352.5 L115.5 352.4 L116.2 352.6 L117.0 351.8 L117.7 351.9 L118.5 352.0 L119.2 352.4 L120.0 352.4 L120.7 351.9 L121.5 350.8 L122.3 349.5 L123.0 347.7 L123.8 346.1 L124.5 344.9 L125.3 343.7 L126.0 343.4 L126.8 341.7 L127.5 339.6 L128.3 337.9 L129.0 336.4 L129.8 334.8 L130.5 333.0 L131.3 332.4 L132.0 330.9 L132.8 329.5 L133.6 329.3 L134.3 329.4 L135.1 330.5 L135.8 330.6 L136.6 328.0 L137.3 326.6 L138.1 325.2 L138.8 324.5 L139.6 323.2 L140.3 321.5 L141.1 321.1 L141.8 321.7 L142.6 322.6 L143.4 322.1 L144.1 322.9 L144.9 324.0 L145.6 326.8 L146.4 328.8 L147.1 332.6 L147.9 337.4 L148.6 340.8 L149.4 347.1 L150.1 351.5 L150.9 352.4 L151.6 351.2 L152.4 351.3 L153.1 350.4 L153.9 350.0 L154.7 349.0 L155.4 347.1 L156.2 345.2 L156.9 343.9 L157.7 341.9 L158.4 338.8 L159.2 336.3 L159.9 335.0 L160.7 332.8 L161.4 331.0 L162.2 329.2 L162.9 328.3 L163.7 325.6 L164.4 322.4 L165.2 319.7 L166.0 317.9 L166.7 315.9 L167.5 314.3 L168.2 313.3 L169.0 313.2 L169.7 313.7 L170.5 313.2 L171.2 313.0 L172.0 313.8 L172.7 314.2 L173.5 312.4 L174.2 310.9 L175.0 310.6 L175.8 309.9 L176.5 308.2 L177.3 306.7 L178.0 305.6 L178.8 302.4 L179.5 299.5 L180.3 299.0 L181.0 298.6 L181.8 297.2 L182.5 295.9 L183.3 294.8 L184.0 293.3 L184.8 292.7 L185.5 293.1 L186.3 293.6 L187.1 294.1 L187.8 294.6 L188.6 294.5 L189.3 293.5 L190.1 292.2 L190.8 286.2 L191.6 280.7 L192.3 280.8 L193.1 281.1 L193.8 282.6 L194.6 284.3 L195.3 284.1 L196.1 284.6 L196.8 285.6 L197.6 286.7 L198.4 285.5 L199.1 288.3 L199.9 290.7 L200.6 291.5 L201.4 293.6 L202.1 299.6 L202.9 303.8 L203.6 310.3 L204.4 314.7 L205.1 318.7 L205.9 319.1 L206.6 318.2 L207.4 322.2 L208.2 326.2 L208.9 334.1 L209.7 340.7 L210.4 344.9 L211.2 347.8 L211.9 348.6 L212.7 348.5 L213.4 346.0 L214.2 344.4 L214.9 344.1 L215.7 343.9 L216.4 344.0 L217.2 344.8 L217.9 344.9 L218.7 343.4 L219.5 342.1 L220.2 341.6 L221.0 340.0 L221.7 339.1 L222.5 339.1 L223.2 339.1 L224.0 339.4 L224.7 340.0 L225.5 339.7 L226.2 341.3 L227.0 342.8 L227.7 346.0 L228.5 349.6 L229.3 352.4 L230.0 354.0 L230.8 353.9 L231.5 351.7 L232.3 348.4 L233.0 345.4 L233.8 343.6 L234.5 343.2 L235.3 343.7 L236.0 343.4 L236.8 344.8 L237.5 342.9 L238.3 341.2 L239.0 339.9 L239.8 338.3 L240.6 337.3 L241.3 337.2 L242.1 337.1 L242.8 338.0 L243.6 338.5 L244.3 338.7 L245.1 339.9 L245.8 339.1 L246.6 338.4 L247.3 338.1 L248.1 337.1 L248.8 336.6 L249.6 335.7 L250.3 336.1 L251.1 338.0 L251.9 339.9 L252.6 343.3 L253.4 346.5 L254.1 348.4 L254.9 352.5 L255.6 355.4 L256.4 354.0 L257.1 351.8 L257.9 348.1 L258.6 345.0 L259.4 342.2 L260.1 339.7 L260.9 336.8 L261.7 332.4 L262.4 329.0 L263.2 327.3 L263.9 326.7 L264.7 325.2 L265.4 324.0 L266.2 324.5 L266.9 327.0 L267.7 327.4 L268.4 327.1 L269.2 327.0 L269.9 326.0 L270.7 325.2 L271.4 324.9 L272.2 323.7 L273.0 322.1 L273.7 320.5 L274.5 318.0 L275.2 316.6 L276.0 315.3 L276.7 312.6 L277.5 312.1 L278.2 311.1 L279.0 311.0 L279.7 309.5 L280.5 308.3 L281.2 307.2 L282.0 306.8 L282.7 306.8 L283.5 307.0 L284.3 308.9 L285.0 307.8 L285.8 306.5 L286.5 301.8 L287.3 297.1 L288.0 293.8 L288.8 292.2 L289.5 290.1 L290.3 288.9 L291.0 288.8 L291.8 288.6 L292.5 289.2 L293.3 289.3 L294.1 289.3 L294.8 289.2 L295.6 289.1 L296.3 289.0 L297.1 289.1 L297.8 289.2 L298.6 289.3 L299.3 289.1 L300.1 288.8 L300.8 287.4 L301.6 287.0 L302.3 287.3 L303.1 287.2 L303.8 285.8 L304.6 284.3 L305.4 281.7 L306.1 278.8 L306.9 276.2 L307.6 275.1 L308.4 273.6 L309.1 271.8 L309.9 269.8 L310.6 267.4 L311.4 266.1 L312.1 264.5 L312.9 263.8 L313.6 264.0 L314.4 266.4 L315.1 266.9 L315.9 266.5 L316.7 264.6 L317.4 263.5 L318.2 262.1 L318.9 261.1 L319.7 260.5 L320.4 259.9 L321.2 259.0 L321.9 257.1 L322.7 256.4 L323.4 254.2 L324.2 252.4 L324.9 252.2 L325.7 251.9 L326.5 251.3 L327.2 250.4 L328.0 249.7 L328.7 248.5 L329.5 247.4 L330.2 248.1 L331.0 248.9 L331.7 246.7 L332.5 245.4 L333.2 243.7 L334.0 242.0 L334.7 239.7 L335.5 237.2 L336.2 235.6 L337.0 233.7 L337.8 231.3 L338.5 228.8 L339.3 227.0 L340.0 225.0 L340.8 223.0 L341.5 221.1 L342.3 221.2 L343.0 221.6 L343.8 221.7 L344.5 221.6 L345.3 223.3 L346.0 224.8 L346.8 224.8 L347.5 224.6 L348.3 224.7 L349.1 224.7 L349.8 224.7 L350.6 224.8 L351.3 223.8 L352.1 223.7 L352.8 223.7 L353.6 223.2 L354.3 220.3 L355.1 221.0 L355.8 223.1 L356.6 226.3 L357.3 227.0 L358.1 227.2 L358.9 227.1 L359.6 227.5 L360.4 228.9 L361.1 228.0 L361.9 226.5 L362.6 227.1 L363.4 226.0 L364.1 224.2 L364.9 223.3 L365.6 221.9 L366.4 220.1 L367.1 219.0 L367.9 218.1 L368.6 218.3 L369.4 221.2 L370.2 223.1 L370.9 225.0 L371.7 225.4 L372.4 226.4 L373.2 226.8 L373.9 225.9 L374.7 225.2 L375.4 223.4 L376.2 220.5 L376.9 217.4 L377.7 214.3 L378.4 212.1 L379.2 210.5 L380.0 209.9 L380.7 209.9 L381.5 209.7 L382.2 209.1 L383.0 207.7 L383.7 207.9 L384.5 207.8 L385.2 208.4 L386.0 208.8 L386.7 210.6 L387.5 212.2 L388.2 212.4 L389.0 212.3 L389.7 211.1 L390.5 210.3 L391.3 210.7 L392.0 212.0 L392.8 214.1 L393.5 215.7 L394.3 216.8 L395.0 217.1 L395.8 215.9 L396.5 214.1 L397.3 213.6 L398.0 214.6 L398.8 215.3 L399.5 216.0 L400.3 216.4 L401.0 217.3 L401.8 217.4 L402.6 219.3 L403.3 222.4 L404.1 224.9 L404.8 226.0 L405.6 227.3 L406.3 229.1 L407.1 231.6 L407.8 235.5 L408.6 242.7 L409.3 243.7 L410.1 242.5 L410.8 236.7 L411.6 231.7 L412.4 227.3 L413.1 221.5 L413.9 217.9 L414.6 216.9 L415.4 216.5 L416.1 215.7 L416.9 216.1 L417.6 216.5 L418.4 217.2 L419.1 216.9 L419.9 216.3 L420.6 214.8 L421.4 213.8 L422.1 215.6 L422.9 217.5 L423.7 218.0 L424.4 217.6 L425.2 216.5 L425.9 216.2 L426.7 213.1 L427.4 212.3 L428.2 207.0 L428.9 204.3 L429.7 192.5 L430.4 190.7 L431.2 186.4 L431.9 187.2 L432.7 189.4 L433.4 192.2 L434.2 196.8 L435.0 202.2 L435.7 208.9 L436.5 216.8 L437.2 225.6 L438.0 236.7 L438.7 245.6 L439.5 255.4 L440.2 265.4 L441.0 274.7 L441.7 279.3 L442.5 285.0 L443.2 284.7 L444.0 286.0 L444.8 287.3 L445.5 286.1 L446.3 287.3 L447.0 287.3 L447.8 287.5 L448.5 289.2 L449.3 289.4 L450.0 288.2 L450.8 286.0 L451.5 286.9 L452.3 289.1 L453.0 289.3 L453.8 286.6 L454.5 285.3 L455.3 285.3 L456.1 287.0 L456.8 289.0 L457.6 292.2 L458.3 293.2 L459.1 290.1 L459.8 289.5 L460.6 291.6 L461.3 292.7 L462.1 292.6 L462.8 290.8 L463.6 289.4 L464.3 287.9 L465.1 288.4 L465.8 287.4 L466.6 287.6 L467.4 285.2 L468.1 282.6 L468.9 280.1 L469.6 275.6 L470.4 269.5 L471.1 266.7 L471.9 263.2 L472.6 255.3 L473.4 249.7 L474.1 251.6 L474.9 254.9 L475.6 256.7 L476.4 255.9 L477.2 257.9 L477.9 256.8 L478.7 254.8 L479.4 255.3 L480.2 255.9 L480.9 254.6 L481.7 255.6 L482.4 255.2 L483.2 256.4 L483.9 256.4 L484.7 255.6 L485.4 253.7 L486.2 251.6 L486.9 247.8 L487.7 248.3 L488.5 252.1 L489.2 253.5 L490.0 252.4 L490.7 252.0 L491.5 253.2 L492.2 252.9 L493.0 253.1 L493.7 254.6 L494.5 254.4 L495.2 253.4 L496.0 255.3 L496.7 256.7 L497.5 259.0 L498.2 259.8 L499.0 259.7 L499.8 259.8 L500.5 258.8 L501.3 258.1 L502.0 259.3 L502.8 261.5 L503.5 261.0 L504.3 262.4 L505.0 261.3 L505.8 260.7 L506.5 258.1 L507.3 256.4 L508.0 254.4 L508.8 253.0 L509.6 250.7 L510.3 247.8 L511.1 244.9 L511.8 242.4 L512.6 241.8 L513.3 241.3 L514.1 239.7 L514.8 240.4 L515.6 238.2 L516.3 236.5 L517.1 234.9 L517.8 231.9 L518.6 230.2 L519.3 230.3 L520.1 230.2 L520.9 231.2 L521.6 230.1 L522.4 229.2 L523.1 226.1 L523.9 224.0 L524.6 222.1 L525.4 219.6 L526.1 217.5 L526.9 216.6 L527.6 215.8 L528.4 215.3 L529.1 214.9 L529.9 213.1 L530.7 211.2 L531.4 209.5 L532.2 208.7 L532.9 207.2 L533.7 206.1 L534.4 205.3 L535.2 204.8 L535.9 205.9 L536.7 205.6 L537.4 206.3 L538.2 206.1 L538.9 206.1 L539.7 206.2 L540.4 205.8 L541.2 205.1 L542.0 205.0 L542.7 201.0 L543.5 198.3 L544.2 195.2 L545.0 192.0 L545.7 188.5 L546.5 186.1 L547.2 184.4 L548.0 183.6 L548.7 182.7 L549.5 179.9 L550.2 178.0 L551.0 177.0 L551.7 176.1 L552.5 175.1 L553.3 173.7 L554.0 175.2 L554.8 177.5 L555.5 179.1 L556.3 180.1 L557.0 178.4 L557.8 177.1 L558.5 177.1 L559.3 176.6 L560.0 176.4 L560.8 177.2 L561.5 177.9 L562.3 178.3 L563.1 178.4 L563.8 178.3 L564.6 180.3 L565.3 181.8 L566.1 182.3 L566.8 182.3 L567.6 183.2 L568.3 184.8 L569.1 186.1 L569.8 186.6 L570.6 187.3 L571.3 187.3 L572.1 187.6 L572.8 186.9 L573.6 186.7 L574.4 186.1 L575.1 184.5 L575.9 183.5 L576.6 182.3 L577.4 179.7 L578.1 177.4 L578.9 176.9 L579.6 177.0 L580.4 178.7 L581.1 181.7 L581.9 185.7 L582.6 189.7 L583.4 195.3 L584.1 201.6 L584.9 205.4 L585.7 207.3 L586.4 210.5 L587.2 214.2 L587.9 217.1 L588.7 220.5 L589.4 224.2 L590.2 225.6 L590.9 226.7 L591.7 226.3 L592.4 223.7 L593.2 221.4 L593.9 217.6 L594.7 214.6 L595.5 214.4 L596.2 213.7 L597.0 213.8 L597.7 214.3 L598.5 213.7 L599.2 213.2 L600.0 211.6 L600.7 210.7 L601.5 208.9 L602.2 206.5 L603.0 205.8 L603.7 205.1 L604.5 205.8 L605.2 205.8 L606.0 206.5 L606.8 205.9 L607.5 205.5 L608.3 204.5 L609.0 203.2 L609.8 201.4 L610.5 201.0 L611.3 201.0 L612.0 202.4 L612.8 203.5 L613.5 203.6 L614.3 201.7 L615.0 199.7 L615.8 198.7 L616.5 198.5 L617.3 198.7 L618.1 196.1 L618.8 193.5 L619.6 190.6 L620.3 188.2 L621.1 186.8 L621.8 184.4 L622.6 182.7 L623.3 181.0 L624.1 179.3 L624.8 176.9 L625.6 174.6 L626.3 173.3 L627.1 174.2 L627.9 176.5 L628.6 177.9 L629.4 177.3 L630.1 176.9 L630.9 177.0 L631.6 177.8 L632.4 181.7 L633.1 182.4 L633.9 182.9 L634.6 182.9 L635.4 179.9 L636.1 176.6 L636.9 175.2 L637.6 173.5 L638.4 171.7 L639.2 166.5 L639.9 161.5 L640.7 158.1 L641.4 155.3 L642.2 152.6 L642.9 150.4 L643.7 148.8 L644.4 147.5 L645.2 147.3 L645.9 147.6 L646.7 147.5 L647.4 148.6 L648.2 149.5 L649.0 151.1 L649.7 153.7 L650.5 153.1 L651.2 152.5 L652.0 153.0 L652.7 153.4 L653.5 153.1 L654.2 153.2 L655.0 153.7 L655.7 154.5 L656.5 154.9 L657.2 154.9 L658.0 155.2 L658.7 155.9 L659.5 156.5 L660.3 155.0 L661.0 153.5 L661.8 153.0 L662.5 152.5 L663.3 152.4 L664.0 152.9 L664.8 153.6 L665.5 155.6 L666.3 157.9 L667.0 158.8 L667.8 157.3 L668.5 156.4 L669.3 156.0 L670.0 155.5 L670.8 155.0 L671.6 156.7 L672.3 160.6 L673.1 165.7 L673.8 168.3 L674.6 171.2 L675.3 171.5 L676.1 171.7 L676.8 172.5 L677.6 172.6 L678.3 172.3 L679.1 173.5 L679.8 173.9 L680.6 174.7 L681.4 176.7 L682.1 175.4 L682.9 173.8 L683.6 172.3 L684.4 170.1 L685.1 168.3 L685.9 169.2 L686.6 171.8 L687.4 173.8 L688.1 171.0 L688.9 170.3 L689.6 168.9 L690.4 168.3 L691.1 168.1 L691.9 168.8 L692.7 168.9 L693.4 168.4 L694.2 168.1 L694.9 163.8 L695.7 160.9 L696.4 157.6 L697.2 155.2 L697.9 153.7 L698.7 152.0 L699.4 149.2 L700.2 146.8 L700.9 145.0 L701.7 143.7 L702.4 142.1 L703.2 140.0 L704.0 137.5 L704.7 134.5 L705.5 131.9 L706.2 130.0 L707.0 128.2 L707.7 127.6 L708.5 129.7 L709.2 130.8 L710.0 129.8 L710.7 127.6 L711.5 127.2 L712.2 125.8 L713.0 125.2 L713.8 125.0 L714.5 123.6 L715.3 122.7 L716.0 122.0 L716.8 121.7 L717.5 121.8 L718.3 121.8 L719.0 120.4 L719.8 120.6 L720.5 120.9 L721.3 121.1 L722.0 120.1 L722.8 120.0 L723.5 119.7 L724.3 119.6 L725.1 119.4 L725.8 118.7 L726.6 116.6 L727.3 114.3 L728.1 111.9 L728.8 109.0 L729.6 105.9 L730.3 103.6 L731.1 101.4 L731.8 98.4 L732.6 96.1 L733.3 94.8 L734.1 94.0 L734.8 92.5 L735.6 92.6 L736.4 91.6 L737.1 93.7 L737.9 94.9 L738.6 95.0 L739.4 95.2 L740.1 96.5 L740.9 97.0 L741.6 97.5 L742.4 97.8 L743.1 98.1 L743.9 97.9 L744.6 97.1 L745.4 93.5 L746.2 89.7 L746.9 87.4 L747.7 87.4 L748.4 86.8 L749.2 87.0 L749.9 86.4 L750.7 86.7 L751.4 86.7 L752.2 85.9 L752.9 85.1 L753.7 83.1" fill="none" stroke="#808000" stroke-width="1" shape-rendering="crispEdges"/>
<path d="M16.0 489.3 L16.8 489.6 L17.5 489.9 L18.3 490.1 L19.0 489.9 L19.8 487.8 L20.5 486.3 L21.3 483.1 L22.0 483.0 L22.8 482.8 L23.5 481.9 L24.3 478.9 L25.1 478.1 L25.8 479.6 L26.6 478.7 L27.3 477.8 L28.1 477.8 L28.8 477.7 L29.6 477.8 L30.3 478.0 L31.1 479.8 L31.8 481.1 L32.6 484.3 L33.3 486.8 L34.1 488.6 L34.8 489.8 L35.6 488.5 L36.4 488.4 L37.1 489.1 L37.9 490.1 L38.6 491.0 L39.4 492.4 L40.1 492.6 L40.9 492.5 L41.6 493.8 L42.4 495.4 L43.1 496.6 L43.9 497.5 L44.6 497.5 L45.4 497.8 L46.1 496.0 L46.9 494.5 L47.7 490.5 L48.4 484.9 L49.2 478.4 L49.9 470.3 L50.7 463.9 L51.4 456.6 L52.2 452.6 L52.9 449.4 L53.7 445.0 L54.4 442.0 L55.2 438.7 L55.9 434.4 L56.7 433.2 L57.5 433.2 L58.2 432.9 L59.0 432.1 L59.7 430.2 L60.5 429.5 L61.2 428.3 L62.0 428.0 L62.7 428.4 L63.5 429.0 L64.2 428.6 L65.0 428.5 L65.7 428.4 L66.5 427.6 L67.2 428.0 L68.0 428.4 L68.8 428.4 L69.5 425.4 L70.3 424.5 L71.0 423.2 L71.8 422.6 L72.5 422.7 L73.3 422.9 L74.0 422.5 L74.8 421.9 L75.5 421.5 L76.3 420.9 L77.0 419.6 L77.8 415.3 L78.6 410.9 L79.3 407.7 L80.1 405.1 L80.8 402.9 L81.6 401.5 L82.3 400.9 L83.1 400.3 L83.8 400.3 L84.6 400.1 L85.3 401.4 L86.1 402.7 L86.8 403.1 L87.6 404.0 L88.3 404.4 L89.1 404.1 L89.9 403.5 L90.6 401.9 L91.4 401.7 L92.1 401.6 L92.9 402.7 L93.6 399.5 L94.4 397.9 L95.1 397.6 L95.9 398.5 L96.6 399.4 L97.4 399.3 L98.1 399.4 L98.9 399.6 L99.6 399.6 L100.4 399.9 L101.2 399.6 L101.9 399.8 L102.7 400.4 L103.4 401.2 L104.2 401.8 L104.9 401.8 L105.7 401.7 L106.4 401.5 L107.2 400.8 L107.9 398.0 L108.7 397.0 L109.4 392.3 L110.2 388.0 L111.0 383.1 L111.7 376.9 L112.5 373.4 L113.2 369.5 L114.0 369.6 L114.7 369.4 L115.5 369.3 L116.2 368.0 L117.0 367.7 L117.7 367.6 L118.5 367.6 L119.2 368.0 L120.0 367.5 L120.7 366.8 L121.5 367.2 L122.3 367.7 L123.0 368.6 L123.8 368.1 L124.5 367.7 L125.3 367.9 L126.0 367.8 L126.8 367.7 L127.5 368.0 L128.3 367.9 L129.0 366.5 L129.8 365.4 L130.5 364.8 L131.3 363.7 L132.0 363.4 L132.8 362.5 L133.6 361.2 L134.3 358.1 L135.1 355.0 L135.8 354.7 L136.6 358.8 L137.3 361.6 L138.1 364.9 L138.8 367.3 L139.6 370.9 L140.3 375.5 L141.1 377.5 L141.8 378.5 L142.6 379.8 L143.4 384.4 L144.1 387.9 L144.9 391.6 L145.6 393.2 L146.4 395.0 L147.1 394.9 L147.9 394.2 L148.6 393.1 L149.4 389.7 L150.1 387.0 L150.9 386.5 L151.6 386.9 L152.4 386.9 L153.1 387.0 L153.9 387.1 L154.7 387.0 L155.4 386.6 L156.2 386.9 L156.9 387.3 L157.7 387.8 L158.4 386.7 L159.2 385.2 L159.9 381.8 L160.7 379.8 L161.4 377.0 L162.2 374.8 L162.9 371.4 L163.7 370.5 L164.4 369.9 L165.2 369.4 L166.0 368.4 L166.7 367.1 L167.5 364.3 L168.2 361.8 L169.0 358.3 L169.7 354.4 L170.5 351.7 L171.2 348.7 L172.0 345.1 L172.7 341.6 L173.5 340.7 L174.2 339.3 L175.0 337.3 L175.8 335.7 L176.5 334.9 L177.3 333.8 L178.0 332.3 L178.8 332.6 L179.5 333.0 L180.3 332.0 L181.0 330.4 L181.8 329.4 L182.5 328.9 L183.3 327.7 L184.0 326.4 L184.8 324.4 L185.5 323.4 L186.3 321.9 L187.1 319.3 L187.8 318.3 L188.6 317.6 L189.3 319.4 L190.1 321.7 L190.8 330.9 L191.6 341.2 L192.3 343.1 L193.1 345.1 L193.8 345.8 L194.6 347.1 L195.3 350.5 L196.1 353.4 L196.8 357.3 L197.6 361.2 L198.4 370.1 L199.1 374.6 L199.9 379.9 L200.6 385.3 L201.4 390.1 L202.1 389.9 L202.9 391.2 L203.6 392.0 L204.4 391.8 L205.1 391.3 L205.9 394.5 L206.6 398.7 L207.4 400.3 L208.2 401.8 L208.9 398.7 L209.7 395.8 L210.4 394.2 L211.2 392.4 L211.9 392.0 L212.7 392.1 L213.4 392.0 L214.2 392.1 L214.9 391.3 L215.7 390.5 L216.4 390.0 L217.2 390.7 L217.9 391.4 L218.7 394.6 L219.5 399.7 L220.2 404.4 L221.0 408.4 L221.7 410.5 L222.5 410.6 L223.2 409.8 L224.0 410.0 L224.7 410.1 L225.5 410.1 L226.2 409.6 L227.0 409.1 L227.7 408.8 L228.5 407.8 L229.3 406.6 L230.0 406.4 L230.8 406.5 L231.5 407.1 L232.3 408.2 L233.0 409.0 L233.8 407.2 L234.5 403.7 L235.3 399.0 L236.0 393.5 L236.8 386.9 L237.5 385.0 L238.3 383.7 L239.0 382.5 L239.8 381.3 L240.6 381.0 L241.3 381.3 L242.1 382.2 L242.8 380.5 L243.6 379.5 L244.3 378.8 L245.1 376.2 L245.8 378.0 L246.6 380.5 L247.3 383.4 L248.1 387.9 L248.8 391.2 L249.6 395.2 L250.3 396.9 L251.1 399.3 L251.9 401.4 L252.6 400.6 L253.4 399.4 L254.1 398.4 L254.9 396.4 L255.6 394.7 L256.4 395.3 L257.1 396.0 L257.9 397.3 L258.6 398.1 L259.4 399.1 L260.1 399.9 L260.9 399.9 L261.7 400.4 L262.4 399.7 L263.2 396.8 L263.9 393.5 L264.7 389.3 L265.4 386.2 L266.2 380.2 L266.9 372.3 L267.7 368.5 L268.4 365.6 L269.2 364.0 L269.9 361.1 L270.7 358.4 L271.4 355.8 L272.2 353.8 L273.0 353.0 L273.7 351.9 L274.5 351.4 L275.2 350.1 L276.0 348.6 L276.7 348.9 L277.5 347.9 L278.2 346.5 L279.0 343.5 L279.7 343.0 L280.5 341.8 L281.2 340.8 L282.0 339.1 L282.7 336.6 L283.5 334.4 L284.3 329.8 L285.0 329.1 L285.8 328.3 L286.5 329.5 L287.3 330.8 L288.0 330.8 L288.8 330.0 L289.5 329.8 L290.3 328.7 L291.0 327.6 L291.8 327.0 L292.5 325.7 L293.3 325.7 L294.1 324.7 L294.8 323.9 L295.6 323.2 L296.3 323.7 L297.1 322.7 L297.8 322.3 L298.6 321.9 L299.3 322.3 L300.1 321.9 L300.8 322.0 L301.6 322.2 L302.3 322.1 L303.1 322.1 L303.8 322.7 L304.6 323.4 L305.4 324.5 L306.1 325.1 L306.9 325.2 L307.6 323.2 L308.4 321.0 L309.1 320.2 L309.9 319.5 L310.6 318.7 L311.4 315.7 L312.1 314.1 L312.9 310.9 L313.6 306.7 L314.4 299.9 L315.1 296.5 L315.9 294.9 L316.7 294.2 L317.4 292.6 L318.2 291.1 L318.9 289.5 L319.7 287.9 L320.4 286.9 L321.2 285.8 L321.9 285.3 L322.7 283.3 L323.4 282.6 L324.2 281.6 L324.9 279.9 L325.7 278.7 L326.5 277.9 L327.2 276.9 L328.0 275.8 L328.7 274.8 L329.5 273.7 L330.2 272.0 L331.0 269.5 L331.7 269.8 L332.5 269.2 L333.2 269.1 L334.0 268.8 L334.7 268.4 L335.5 267.8 L336.2 266.9 L337.0 266.7 L337.8 266.6 L338.5 266.9 L339.3 266.8 L340.0 265.8 L340.8 264.4 L341.5 263.0 L342.3 261.5 L343.0 260.3 L343.8 259.6 L344.5 258.5 L345.3 254.0 L346.0 251.4 L346.8 251.3 L347.5 250.1 L348.3 249.1 L349.1 249.2 L349.8 249.1 L350.6 249.2 L351.3 251.6 L352.1 252.7 L352.8 254.5 L353.6 257.9 L354.3 264.8 L355.1 267.6 L355.8 268.9 L356.6 268.2 L357.3 268.7 L358.1 269.0 L358.9 269.0 L359.6 268.9 L360.4 268.5 L361.1 268.6 L361.9 268.9 L362.6 268.7 L363.4 269.2 L364.1 269.7 L364.9 270.0 L365.6 270.5 L366.4 270.1 L367.1 269.9 L367.9 269.2 L368.6 267.2 L369.4 261.1 L370.2 256.9 L370.9 252.7 L371.7 252.0 L372.4 249.9 L373.2 247.7 L373.9 247.1 L374.7 246.6 L375.4 246.3 L376.2 247.2 L376.9 248.4 L377.7 249.4 L378.4 250.0 L379.2 250.2 L380.0 250.1 L380.7 250.1 L381.5 249.9 L382.2 249.5 L383.0 249.0 L383.7 247.3 L384.5 245.4 L385.2 243.5 L386.0 242.6 L386.7 239.5 L387.5 236.3 L388.2 235.4 L389.0 235.7 L389.7 237.9 L390.5 240.4 L391.3 242.0 L392.0 242.6 L392.8 242.3 L393.5 241.6 L394.3 242.9 L395.0 244.5 L395.8 247.7 L396.5 252.5 L397.3 256.5 L398.0 259.8 L398.8 262.1 L399.5 265.8 L400.3 269.1 L401.0 270.5 L401.8 273.9 L402.6 276.1 L403.3 277.1 L404.1 277.7 L404.8 277.7 L405.6 278.1 L406.3 278.3 L407.1 279.0 L407.8 278.0 L408.6 273.5 L409.3 272.9 L410.1 273.7 L410.8 277.3 L411.6 279.4 L412.4 280.8 L413.1 282.4 L413.9 283.0 L414.6 281.2 L415.4 279.3 L416.1 278.4 L416.9 275.6 L417.6 272.5 L418.4 269.9 L419.1 267.5 L419.9 266.4 L420.6 264.7 L421.4 262.3 L422.1 256.6 L422.9 251.8 L423.7 250.8 L424.4 251.6 L425.2 254.3 L425.9 257.5 L426.7 265.4 L427.4 270.6 L428.2 284.4 L428.9 295.3 L429.7 318.2 L430.4 328.0 L431.2 343.3 L431.9 350.1 L432.7 355.5 L433.4 358.5 L434.2 361.3 L435.0 363.4 L435.7 368.0 L436.5 372.5 L437.2 375.6 L438.0 374.0 L438.7 372.3 L439.5 370.4 L440.2 366.8 L441.0 361.9 L441.7 359.5 L442.5 356.2 L443.2 356.3 L444.0 356.4 L444.8 352.5 L445.5 352.3 L446.3 347.4 L447.0 348.5 L447.8 349.2 L448.5 349.2 L449.3 349.2 L450.0 349.6 L450.8 347.6 L451.5 342.2 L452.3 335.6 L453.0 335.2 L453.8 340.5 L454.5 343.1 L455.3 343.9 L456.1 344.1 L456.8 345.6 L457.6 345.6 L458.3 348.7 L459.1 356.1 L459.8 359.0 L460.6 359.9 L461.3 360.0 L462.1 360.0 L462.8 360.0 L463.6 360.1 L464.3 360.6 L465.1 360.4 L465.8 360.9 L466.6 360.8 L467.4 362.0 L468.1 362.2 L468.9 359.8 L469.6 358.6 L470.4 359.7 L471.1 359.4 L471.9 357.8 L472.6 358.8 L473.4 355.8 L474.1 345.2 L474.9 336.6 L475.6 329.6 L476.4 325.0 L477.2 317.5 L477.9 314.9 L478.7 312.4 L479.4 310.8 L480.2 308.1 L480.9 307.2 L481.7 303.3 L482.4 301.9 L483.2 299.3 L483.9 299.2 L484.7 301.2 L485.4 306.6 L486.2 311.0 L486.9 319.3 L487.7 325.9 L488.5 327.2 L489.2 329.1 L490.0 328.6 L490.7 328.6 L491.5 328.3 L492.2 328.4 L493.0 328.3 L493.7 327.6 L494.5 327.6 L495.2 327.7 L496.0 327.3 L496.7 327.4 L497.5 327.7 L498.2 328.1 L499.0 328.0 L499.8 328.4 L500.5 326.7 L501.3 324.3 L502.0 318.0 L502.8 309.8 L503.5 306.2 L504.3 301.7 L505.0 301.9 L505.8 301.9 L506.5 302.6 L507.3 303.2 L508.0 303.9 L508.8 304.4 L509.6 304.0 L510.3 304.9 L511.1 304.7 L511.8 303.3 L512.6 299.5 L513.3 295.7 L514.1 292.3 L514.8 285.5 L515.6 283.6 L516.3 281.2 L517.1 279.4 L517.8 279.0 L518.6 277.7 L519.3 273.9 L520.1 271.2 L520.9 267.1 L521.6 265.6 L522.4 263.8 L523.1 263.4 L523.9 261.7 L524.6 259.9 L525.4 259.1 L526.1 258.0 L526.9 256.2 L527.6 253.5 L528.4 250.8 L529.1 249.2 L529.9 248.6 L530.7 247.9 L531.4 247.0 L532.2 245.4 L532.9 244.8 L533.7 243.3 L534.4 241.3 L535.2 238.4 L535.9 234.3 L536.7 231.8 L537.4 228.6 L538.2 227.7 L538.9 227.8 L539.7 227.4 L540.4 226.9 L541.2 226.6 L542.0 225.1 L542.7 226.6 L543.5 226.9 L544.2 226.6 L545.0 227.2 L545.7 228.0 L546.5 228.0 L547.2 227.1 L548.0 226.3 L548.7 225.5 L549.5 225.5 L550.2 225.2 L551.0 224.0 L551.7 223.2 L552.5 222.0 L553.3 220.3 L554.0 214.9 L554.8 210.0 L555.5 206.6 L556.3 204.9 L557.0 207.4 L557.8 210.2 L558.5 210.6 L559.3 212.9 L560.0 215.0 L560.8 215.3 L561.5 215.8 L562.3 216.8 L563.1 217.5 L563.8 219.2 L564.6 219.8 L565.3 219.5 L566.1 219.3 L566.8 219.3 L567.6 219.0 L568.3 218.1 L569.1 217.5 L569.8 217.4 L570.6 218.3 L571.3 219.0 L572.1 218.4 L572.8 219.9 L573.6 221.7 L574.4 223.3 L575.1 226.7 L575.9 231.1 L576.6 235.6 L577.4 242.2 L578.1 249.2 L578.9 252.5 L579.6 255.6 L580.4 257.9 L581.1 259.3 L581.9 260.1 L582.6 259.8 L583.4 259.3 L584.1 258.2 L584.9 260.8 L585.7 264.0 L586.4 265.4 L587.2 264.5 L587.9 263.8 L588.7 262.2 L589.4 261.0 L590.2 260.4 L590.9 260.2 L591.7 260.3 L592.4 260.8 L593.2 260.4 L593.9 261.8 L594.7 262.6 L595.5 262.5 L596.2 262.3 L597.0 262.5 L597.7 262.7 L598.5 262.2 L599.2 261.7 L600.0 258.5 L600.7 254.6 L601.5 251.5 L602.2 250.8 L603.0 249.3 L603.7 248.5 L604.5 246.0 L605.2 245.0 L606.0 243.2 L606.8 242.3 L607.5 242.1 L608.3 242.1 L609.0 242.5 L609.8 243.1 L610.5 241.4 L611.3 240.6 L612.0 237.8 L612.8 235.7 L613.5 234.0 L614.3 232.7 L615.0 233.4 L615.8 233.7 L616.5 233.7 L617.3 233.8 L618.1 234.3 L618.8 234.6 L619.6 234.1 L620.3 233.1 L621.1 230.7 L621.8 230.4 L622.6 229.3 L623.3 228.7 L624.1 228.5 L624.8 228.7 L625.6 227.9 L626.3 225.5 L627.1 220.4 L627.9 213.9 L628.6 210.1 L629.4 209.3 L630.1 208.3 L630.9 206.4 L631.6 203.7 L632.4 197.9 L633.1 196.4 L633.9 195.2 L634.6 195.1 L635.4 196.4 L636.1 197.8 L636.9 197.9 L637.6 197.9 L638.4 197.9 L639.2 200.0 L639.9 202.2 L640.7 203.2 L641.4 203.7 L642.2 203.7 L642.9 203.3 L643.7 201.7 L644.4 200.4 L645.2 198.8 L645.9 197.2 L646.7 195.3 L647.4 191.8 L648.2 188.7 L649.0 184.9 L649.7 179.7 L650.5 178.6 L651.2 177.9 L652.0 175.9 L652.7 175.1 L653.5 175.6 L654.2 177.1 L655.0 178.6 L655.7 178.9 L656.5 178.8 L657.2 178.8 L658.0 178.7 L658.7 179.5 L659.5 180.2 L660.3 183.3 L661.0 186.2 L661.8 188.6 L662.5 190.7 L663.3 192.6 L664.0 193.1 L664.8 194.5 L665.5 195.0 L666.3 194.5 L667.0 197.1 L667.8 202.1 L668.5 206.0 L669.3 209.3 L670.0 212.8 L670.8 218.1 L671.6 222.1 L672.3 223.9 L673.1 222.7 L673.8 222.6 L674.6 222.1 L675.3 222.0 L676.1 222.0 L676.8 222.0 L677.6 221.9 L678.3 222.0 L679.1 221.5 L679.8 221.4 L680.6 221.1 L681.4 220.2 L682.1 220.4 L682.9 219.8 L683.6 219.1 L684.4 218.6 L685.1 217.3 L685.9 212.9 L686.6 206.9 L687.4 200.9 L688.1 200.4 L688.9 198.4 L689.6 196.8 L690.4 196.3 L691.1 195.3 L691.9 193.5 L692.7 192.9 L693.4 194.2 L694.2 193.9 L694.9 195.3 L695.7 195.2 L696.4 195.4 L697.2 195.0 L697.9 194.4 L698.7 193.7 L699.4 194.0 L700.2 194.0 L700.9 192.9 L701.7 190.9 L702.4 190.1 L703.2 190.4 L704.0 190.1 L704.7 190.3 L705.5 189.2 L706.2 187.4 L707.0 184.5 L707.7 180.4 L708.5 172.5 L709.2 167.2 L710.0 166.1 L710.7 165.3 L711.5 164.1 L712.2 162.7 L713.0 160.3 L713.8 157.8 L714.5 156.6 L715.3 155.0 L716.0 152.9 L716.8 150.6 L717.5 147.7 L718.3 145.6 L719.0 144.4 L719.8 143.1 L720.5 142.4 L721.3 141.1 L722.0 142.9 L722.8 143.2 L723.5 143.0 L724.3 142.5 L725.1 141.5 L725.8 141.5 L726.6 141.1 L727.3 141.8 L728.1 142.3 L728.8 142.9 L729.6 143.9 L730.3 144.2 L731.1 144.4 L731.8 145.0 L732.6 145.1 L733.3 144.6 L734.1 144.5 L734.8 143.3 L735.6 140.8 L736.4 139.4 L737.1 133.8 L737.9 128.8 L738.6 126.1 L739.4 122.9 L740.1 119.1 L740.9 116.0 L741.6 114.8 L742.4 113.5 L743.1 112.6 L743.9 112.2 L744.6 112.3 L745.4 114.0 L746.2 115.5 L746.9 116.4 L747.7 116.8 L748.4 116.2 L749.2 115.8 L749.9 117.3 L750.7 116.5 L751.4 116.3 L752.2 115.5 L752.9 115.4 L753.7 115.8" fill="none" stroke="#808000" stroke-width="1" shape-rendering="crispEdges"/>
<path d="M16.0 446.4 V489.3" stroke="#808000" stroke-width="1"/>
<path d="M0 460V464M1 461V471M2 454V472M3 456V470M3 466V470M4 465V486M5 475V486M6 475V488M6 466V484M7 465V473M8 467V476M9 471V482M9 479V484M10 464V486M11 466V479M12 467V481M12 459V472M13 443V469M14 444V451M15 446V457M16 446V460M16 446V452M17 450V454M18 448V454M19 449V455M19 442V455M20 446V452M21 447V463M22 458V468M22 465V469M23 460V469M24 458V464M25 461V480M25 475V479M26 468V478M27 460V477M28 461V466M28 456V464M29 456V465M30 458V466M31 458V479M31 471V478M32 472V486M33 483V491M34 480V489M34 482V486M35 472V488M36 467V474M37 452V471M37 448V457M38 447V456M39 443V452M40 440V447M40 441V446M41 428V444M42 426V432M43 427V431M43 426V430M44 427V433M45 424V436M46 423V427M46 414V427M47 412V417M48 411V418M49 415V423M49 410V421M50 410V416M51 410V422M52 411V423M52 409V416M53 407V416M54 414V430M55 421V430M55 419V427M56 410V421M57 402V418M58 398V406M58 400V404M59 399V403M60 398V404M61 398V404M61 398V409M62 403V423M63 417V422M64 414V425M64 407V417M65 402V411M66 396V404M67 392V400M68 390V395M68 388V395M69 387V392M70 377V390M71 377V383M71 377V382M72 376V384M73 376V383M74 376V386M74 381V390M75 386V394M76 379V396M77 378V385M77 382V387M78 379V403M79 398V407M80 394V406M80 386V398M81 384V389M82 378V386M83 376V386M83 372V378M84 373V378M85 365V378M86 362V370M86 363V370M87 360V369M88 361V368M89 365V373M89 364V374M90 363V376M91 371V383M92 377V383M92 381V395M93 379V395M94 377V401M95 392V402M95 389V397M96 390V393M97 379V393M98 377V385M98 364V382M99 360V367M100 361V367M101 361V370M101 362V373M102 354V367M103 353V357M104 353V359M104 355V366M105 363V370M106 355V369M107 357V360M107 353V361M108 353V368M109 361V369M110 354V366M110 355V358M111 355V367M112 357V363M113 358V362M113 358V367M114 363V370M115 359V365M116 357V364M116 351V360M117 350V358M118 354V359M119 353V366M119 358V365M120 350V362M121 350V356M122 349V353M123 346V351M123 344V348M124 345V349M125 345V348M126 346V356M126 341V355M127 339V345M128 338V343M129 336V342M129 332V340M130 334V337M131 333V344M132 334V343M132 332V337M133 331V343M134 333V343M135 330V343M135 338V353M136 352V369M137 362V367M138 358V369M138 360V368M139 358V372M140 368V378M141 366V379M141 355V371M142 357V366M143 358V384M144 379V393M144 379V388M145 376V391M146 376V381M147 371V383M147 372V376M148 362V380M149 361V366M150 353V362M150 355V361M151 354V360M152 356V366M153 356V366M153 358V363M154 358V363M155 352V360M156 350V356M156 349V354M157 347V352M158 338V350M159 338V341M159 338V342M160 335V341M161 331V338M162 331V335M162 332V336M163 327V336M164 322V330M165 323V326M165 324V329M166 323V331M167 318V325M168 319V327M168 322V326M169 323V327M170 320V325M171 319V323M171 320V324M172 316V324M173 311V319M174 310V314M174 310V316M175 311V317M176 307V316M177 307V310M178 305V309M178 298V308M179 297V302M180 296V312M181 305V311M181 299V309M182 301V305M183 299V305M184 295V303M184 294V301M185 296V316M186 309V316M187 300V312M187 300V315M188 299V317M189 301V323M190 319V326M190 324V381M191 343V365M192 323V357M193 320V332M193 317V334M194 320V331M195 326V345M196 339V345M196 337V355M197 343V356M198 352V384M199 365V381M199 364V379M200 374V395M201 373V384M202 353V383M202 357V370M203 363V379M204 354V384M205 358V367M205 356V383M206 373V398M207 380V394M208 381V393M208 364V390M209 360V374M210 363V371M211 351V372M211 349V354M212 349V361M213 350V356M214 344V356M214 349V367M215 361V369M216 363V378M217 373V380M217 372V379M218 370V397M219 393V402M220 397V412M220 398V410M221 398V407M222 383V407M223 373V388M223 370V379M224 371V377M225 359V376M226 360V366M226 362V365M227 360V383M228 375V383M229 370V382M230 368V381M230 363V382M231 359V368M232 352V361M233 351V359M233 353V361M234 357V363M235 359V363M236 346V362M236 344V353M237 345V351M238 345V348M239 343V351M239 345V352M240 343V353M241 348V369M242 365V373M242 369V378M243 371V376M244 362V376M245 364V369M245 361V376M246 373V380M247 375V381M248 376V390M248 385V390M249 384V393M250 378V396M251 378V393M251 388V392M252 371V391M253 362V375M254 356V370M254 358V369M255 359V367M256 356V365M257 353V362M257 347V358M258 348V352M259 346V351M260 345V349M260 344V349M261 337V348M262 336V342M263 336V345M263 340V349M264 332V349M265 330V342M266 334V339M266 335V338M267 334V341M268 333V341M269 335V342M269 325V343M270 326V331M271 326V330M272 324V331M272 323V326M273 322V326M274 315V323M275 316V321M275 317V323M276 312V321M277 312V328M278 316V327M278 315V320M279 313V318M280 312V316M281 312V315M281 312V317M282 314V316M283 313V318M284 313V317M285 308V315M285 305V310M286 293V308M287 290V294M288 288V294M288 291V300M289 294V299M290 295V300M291 295V308M291 304V308M292 305V319M293 316V319M294 306V319M294 303V310M295 304V309M296 305V319M297 302V318M297 305V313M298 309V315M299 309V319M300 299V318M300 291V305M301 289V295M302 290V294M303 291V296M303 286V295M304 285V292M305 281V288M306 280V284M306 279V285M307 281V288M308 279V288M309 279V283M309 276V282M310 274V280M311 271V277M312 271V275M312 272V275M313 271V274M314 271V274M315 271V274M315 272V274M316 263V276M317 264V268M318 262V268M318 262V266M319 262V267M320 265V268M321 262V268M321 255V265M322 256V260M323 252V260M324 251V256M324 248V262M325 256V262M326 257V262M327 253V260M327 253V256M328 249V257M329 248V253M330 248V265M330 255V264M331 243V261M332 240V252M333 242V248M333 242V247M334 237V245M335 233V240M336 235V239M337 235V239M337 232V239M338 230V234M339 231V236M340 228V236M340 226V231M341 224V228M342 224V242M343 240V246M343 244V249M344 235V246M345 232V241M346 232V250M346 241V248M347 228V248M348 229V239M349 237V248M349 236V249M350 232V240M351 236V256M352 245V254M352 245V253M353 250V261M354 258V279M355 260V278M355 260V269M356 245V266M357 249V255M358 248V256M358 243V253M359 241V248M360 240V245M361 235V245M361 233V241M362 230V237M363 230V239M364 230V234M364 228V233M365 228V233M366 228V232M367 230V235M367 233V237M368 235V243M369 239V243M370 240V243M370 237V242M371 237V251M372 241V249M373 232V244M373 226V233M374 226V231M375 221V233M376 214V226M376 214V220M377 213V216M378 209V217M379 213V219M379 217V224M380 221V231M381 225V232M382 222V230M382 215V225M383 214V228M384 220V227M385 221V230M385 227V235M386 232V235M387 225V236M388 221V229M388 224V233M389 229V242M390 236V244M391 237V242M392 234V240M392 230V239M393 223V233M394 220V245M395 240V244M395 239V253M396 246V259M397 256V261M398 255V264M398 255V263M399 254V270M400 263V269M401 255V268M401 255V271M402 266V273M403 262V270M404 259V268M404 250V263M405 250V260M406 255V261M407 256V269M407 259V269M408 248V262M409 244V253M410 236V247M410 224V240M411 226V231M412 226V230M413 217V230M413 218V226M414 221V239M415 237V245M416 239V245M416 237V248M417 239V247M418 238V247M419 227V248M419 233V236M420 223V240M421 219V228M422 223V232M422 227V233M423 230V254M424 243V250M425 245V255M425 252V260M426 255V282M427 267V279M428 268V310M428 301V307M429 297V351M430 303V361M431 304V352M431 316V356M432 314V325M433 294V321M434 297V314M434 306V316M435 301V343M436 337V350M437 344V350M437 314V352M438 309V336M439 309V336M440 315V334M440 274V327M441 296V301M442 288V303M443 293V305M443 297V327M444 316V329M445 299V337M446 300V315M447 313V337M447 322V342M448 311V338M449 304V330M450 297V314M450 288V303M451 294V305M452 301V308M453 303V325M453 322V354M454 339V348M455 323V345M456 317V332M456 319V342M457 314V338M458 321V349M459 340V363M459 345V376M460 332V351M461 323V339M462 323V332M462 302V331M463 303V312M464 290V311M465 299V306M465 288V305M466 280V311M467 286V312M468 286V303M468 295V303M469 279V301M470 274V291M471 270V291M471 274V291M472 253V284M473 256V266M474 257V280M474 272V300M475 272V297M476 270V291M477 268V281M477 266V286M478 255V280M479 258V293M480 278V295M480 264V291M481 268V278M482 265V284M483 269V288M483 279V300M484 294V298M485 290V313M486 305V315M486 308V331M487 321V329M488 305V333M489 305V312M489 275V310M490 275V291M491 274V282M492 272V282M492 270V275M493 268V278M494 270V289M495 267V287M495 266V292M496 281V297M497 289V302M498 295V300M499 294V298M499 293V305M500 274V306M501 279V286M502 269V283M502 266V277M503 268V271M504 268V279M505 268V280M505 269V275M506 261V282M507 261V264M508 258V268M508 257V263M509 259V264M510 251V261M511 251V257M511 251V255M512 250V257M513 252V258M514 244V255M514 240V247M515 240V243M516 237V244M517 240V243M517 232V243M518 233V241M519 237V243M520 240V244M520 241V244M521 235V244M522 233V237M523 223V238M523 222V228M524 221V227M525 220V225M526 219V225M526 219V229M527 218V228M528 219V223M529 220V226M529 215V227M530 211V219M531 212V216M532 214V219M532 213V219M533 211V216M534 211V214M535 207V213M535 208V214M536 206V217M537 207V213M538 208V215M538 212V227M539 217V226M540 210V223M541 206V215M541 206V212M542 193V211M543 194V199M544 189V198M544 189V194M545 187V193M546 186V194M547 190V194M547 191V199M548 194V198M549 183V197M550 182V189M550 186V192M551 190V194M552 185V195M553 180V190M554 181V189M554 183V196M555 190V197M556 194V204M557 202V219M557 210V218M558 198V213M559 200V212M560 208V212M560 198V213M561 198V205M562 201V210M563 204V208M563 204V215M564 207V215M565 194V211M566 190V203M566 188V195M567 191V197M568 187V198M569 189V194M569 189V200M570 197V212M571 208V212M572 208V217M572 212V220M573 214V221M574 216V222M575 219V229M575 225V233M576 232V238M577 234V248M578 244V255M578 238V256M579 239V243M580 238V243M581 236V241M581 236V241M582 230V242M583 230V244M584 241V246M584 240V265M585 259V269M586 257V263M587 235V259M587 238V244M588 234V242M589 235V247M590 233V248M590 233V248M591 232V244M592 220V237M593 223V226M593 213V226M594 215V220M595 216V239M596 228V240M596 228V243M597 237V247M598 230V241M599 229V235M599 213V236M600 210V219M601 204V214M602 205V214M602 210V222M603 216V223M604 216V231M605 223V230M606 225V231M606 216V231M607 216V221M608 213V222M609 207V216M609 205V211M610 204V216M611 213V224M612 219V234M612 225V232M613 214V230M614 198V217M615 200V203M615 199V209M616 202V209M617 205V215M618 198V214M618 193V205M619 191V202M620 191V194M621 189V194M621 188V194M622 189V193M623 188V193M624 188V194M624 183V192M625 182V186M626 182V184M627 182V187M627 184V188M628 185V194M629 185V193M630 185V189M630 186V190M631 187V190M632 187V195M633 189V194M633 189V193M634 189V193M635 174V192M636 171V179M636 170V180M637 174V179M638 171V175M639 158V177M639 151V161M640 154V160M641 158V163M642 157V161M642 157V161M643 158V161M644 157V163M645 159V172M645 169V177M646 165V176M647 166V172M648 166V173M648 166V169M649 163V169M650 158V166M651 153V160M651 157V165M652 161V172M653 169V176M654 173V178M654 173V179M655 169V179M656 159V174M657 156V167M657 158V164M658 158V176M659 173V180M660 173V187M661 185V190M661 183V190M662 182V188M663 183V188M664 176V191M664 174V188M665 183V187M666 176V185M667 174V204M667 194V208M668 203V210M669 200V207M670 204V209M670 205V222M671 217V222M672 215V226M673 200V217M673 199V203M674 196V204M675 187V201M676 184V194M676 187V196M677 185V196M678 183V190M679 182V188M679 183V190M680 187V191M681 187V191M682 184V190M682 181V186M683 182V184M684 177V184M685 175V180M685 176V184M686 179V188M687 176V186M688 166V179M688 166V179M689 164V178M690 168V178M691 176V181M691 177V184M692 181V186M693 182V193M694 176V195M694 155V181M695 150V161M696 155V165M697 155V161M697 157V165M698 156V166M699 151V161M700 151V154M700 151V155M701 152V155M702 151V155M703 146V154M703 144V150M704 139V147M705 139V143M706 139V142M706 134V144M707 134V139M708 131V139M709 129V138M709 135V141M710 128V139M711 128V141M712 129V141M712 129V133M713 129V136M714 125V133M715 127V130M716 124V132M716 125V127M717 124V129M718 125V128M719 120V128M719 119V132M720 130V138M721 127V136M722 123V146M722 137V146M723 126V142M724 127V130M725 125V131M725 122V128M726 112V124M727 111V117M728 112V117M728 107V114M729 104V112M730 105V111M731 105V112M731 99V109M732 100V105M733 102V111M734 107V111M734 101V111M735 104V113M736 105V114M737 102V111M737 100V110M738 99V105M739 96V105M740 97V105M740 95V105M741 97V110M742 103V110M743 101V109M743 101V109M744 97V103M745 86V100M746 82V90M746 84V91M747 84V110M748 92V109M749 94V113M749 107V118M750 102V119M751 96V109M752 92V106M752 92V96M753 85V94" stroke="#000" stroke-width="1" fill="none" shape-rendering="crispEdges" transform="translate(0.5,0)"/>
<g shape-rendering="crispEdges" fill="none" stroke-width="1">
<path d="M16.0 467.8 L16.8 466.9 L17.5 466.7 L18.3 465.7 L19.0 464.9 L19.8 463.2 L20.5 461.7 L21.3 460.5 L22.0 460.5 L22.8 460.4 L23.5 460.0 L24.3 459.1 L25.1 458.9 L25.8 459.3 L26.6 459.1 L27.3 458.7 L28.1 458.7 L28.8 459.2 L29.6 459.9 L30.3 460.1 L31.1 461.4 L31.8 462.6 L32.6 464.2 L33.3 465.9 L34.1 467.5 L34.8 469.4 L35.6 470.6 L36.4 471.1 L37.1 470.5 L37.9 469.7 L38.6 469.1 L39.4 468.3 L40.1 466.5 L40.9 464.9 L41.6 462.8 L42.4 461.1 L43.1 459.3 L43.9 457.9 L44.6 456.3 L45.4 454.5 L46.1 452.0 L46.9 449.1 L47.7 445.6 L48.4 442.1 L49.2 438.9 L49.9 435.3 L50.7 432.3 L51.4 429.8 L52.2 427.8 L52.9 425.7 L53.7 424.0 L54.4 423.2 L55.2 422.2 L55.9 421.0 L56.7 420.1 L57.5 418.8 L58.2 417.6 L59.0 416.2 L59.7 414.8 L60.5 413.5 L61.2 412.4 L62.0 411.9 L62.7 412.1 L63.5 412.3 L64.2 412.1 L65.0 412.0 L65.7 411.4 L66.5 410.3 L67.2 409.3 L68.0 408.4 L68.8 407.2 L69.5 405.1 L70.3 402.9 L71.0 401.0 L71.8 399.3 L72.5 398.2 L73.3 396.9 L74.0 396.0 L74.8 395.3 L75.5 395.0 L76.3 394.0 L77.0 392.9 L77.8 391.2 L78.6 390.3 L79.3 389.6 L80.1 389.0 L80.8 388.2 L81.6 387.5 L82.3 386.9 L83.1 386.1 L83.8 385.3 L84.6 384.7 L85.3 384.1 L86.1 383.2 L86.8 382.7 L87.6 381.7 L88.3 381.2 L89.1 380.6 L89.9 379.4 L90.6 378.5 L91.4 378.4 L92.1 378.3 L92.9 378.7 L93.6 377.7 L94.4 377.4 L95.1 377.3 L95.9 377.6 L96.6 377.9 L97.4 377.8 L98.1 377.9 L98.9 377.4 L99.6 376.9 L100.4 376.7 L101.2 376.9 L101.9 376.8 L102.7 376.5 L103.4 375.9 L104.2 375.1 L104.9 375.1 L105.7 374.7 L106.4 373.6 L107.2 372.5 L107.9 370.6 L108.7 369.8 L109.4 368.2 L110.2 366.3 L111.0 364.5 L111.7 363.1 L112.5 362.0 L113.2 361.0 L114.0 361.0 L114.7 361.0 L115.5 360.8 L116.2 360.3 L117.0 359.7 L117.7 359.8 L118.5 359.8 L119.2 360.2 L120.0 360.0 L120.7 359.3 L121.5 359.0 L122.3 358.6 L123.0 358.1 L123.8 357.1 L124.5 356.3 L125.3 355.8 L126.0 355.6 L126.8 354.7 L127.5 353.8 L128.3 352.9 L129.0 351.5 L129.8 350.1 L130.5 348.9 L131.3 348.0 L132.0 347.1 L132.8 346.0 L133.6 345.3 L134.3 343.7 L135.1 342.8 L135.8 342.7 L136.6 343.4 L137.3 344.1 L138.1 345.0 L138.8 345.9 L139.6 347.1 L140.3 348.5 L141.1 349.3 L141.8 350.1 L142.6 351.2 L143.4 353.3 L144.1 355.4 L144.9 357.8 L145.6 360.0 L146.4 361.9 L147.1 363.8 L147.9 365.8 L148.6 367.0 L149.4 368.4 L150.1 369.3 L150.9 369.5 L151.6 369.0 L152.4 369.1 L153.1 368.7 L153.9 368.6 L154.7 368.0 L155.4 366.8 L156.2 366.0 L156.9 365.6 L157.7 364.9 L158.4 362.7 L159.2 360.7 L159.9 358.4 L160.7 356.3 L161.4 354.0 L162.2 352.0 L162.9 349.9 L163.7 348.1 L164.4 346.2 L165.2 344.5 L166.0 343.1 L166.7 341.5 L167.5 339.3 L168.2 337.5 L169.0 335.8 L169.7 334.0 L170.5 332.4 L171.2 330.9 L172.0 329.5 L172.7 327.9 L173.5 326.6 L174.2 325.1 L175.0 324.0 L175.8 322.8 L176.5 321.6 L177.3 320.3 L178.0 319.0 L178.8 317.5 L179.5 316.3 L180.3 315.5 L181.0 314.5 L181.8 313.3 L182.5 312.4 L183.3 311.3 L184.0 309.8 L184.8 308.5 L185.5 308.3 L186.3 307.7 L187.1 306.7 L187.8 306.5 L188.6 306.0 L189.3 306.5 L190.1 307.0 L190.8 308.6 L191.6 310.9 L192.3 311.9 L193.1 313.1 L193.8 314.2 L194.6 315.7 L195.3 317.3 L196.1 319.0 L196.8 321.4 L197.6 324.0 L198.4 327.8 L199.1 331.4 L199.9 335.3 L200.6 338.4 L201.4 341.8 L202.1 344.7 L202.9 347.5 L203.6 351.1 L204.4 353.2 L205.1 355.0 L205.9 356.8 L206.6 358.5 L207.4 361.2 L208.2 364.0 L208.9 366.4 L209.7 368.2 L210.4 369.5 L211.2 370.1 L211.9 370.3 L212.7 370.3 L213.4 369.0 L214.2 368.3 L214.9 367.7 L215.7 367.2 L216.4 367.0 L217.2 367.8 L217.9 368.2 L218.7 369.0 L219.5 370.9 L220.2 373.0 L221.0 374.2 L221.7 374.8 L222.5 374.9 L223.2 374.5 L224.0 374.7 L224.7 375.1 L225.5 374.9 L226.2 375.5 L227.0 376.0 L227.7 377.4 L228.5 378.7 L229.3 379.5 L230.0 380.2 L230.8 380.2 L231.5 379.4 L232.3 378.3 L233.0 377.2 L233.8 375.4 L234.5 373.4 L235.3 371.3 L236.0 368.4 L236.8 365.9 L237.5 364.0 L238.3 362.4 L239.0 361.2 L239.8 359.8 L240.6 359.1 L241.3 359.3 L242.1 359.6 L242.8 359.2 L243.6 359.0 L244.3 358.8 L245.1 358.1 L245.8 358.6 L246.6 359.4 L247.3 360.8 L248.1 362.5 L248.8 363.9 L249.6 365.4 L250.3 366.5 L251.1 368.6 L251.9 370.6 L252.6 371.9 L253.4 372.9 L254.1 373.4 L254.9 374.4 L255.6 375.1 L256.4 374.6 L257.1 373.9 L257.9 372.7 L258.6 371.6 L259.4 370.6 L260.1 369.8 L260.9 368.4 L261.7 366.4 L262.4 364.4 L263.2 362.1 L263.9 360.1 L264.7 357.3 L265.4 355.1 L266.2 352.3 L266.9 349.7 L267.7 348.0 L268.4 346.4 L269.2 345.5 L269.9 343.5 L270.7 341.8 L271.4 340.3 L272.2 338.8 L273.0 337.6 L273.7 336.2 L274.5 334.7 L275.2 333.3 L276.0 331.9 L276.7 330.7 L277.5 330.0 L278.2 328.8 L279.0 327.2 L279.7 326.3 L280.5 325.0 L281.2 324.0 L282.0 322.9 L282.7 321.7 L283.5 320.7 L284.3 319.4 L285.0 318.5 L285.8 317.4 L286.5 315.6 L287.3 313.9 L288.0 312.3 L288.8 311.1 L289.5 309.9 L290.3 308.8 L291.0 308.2 L291.8 307.8 L292.5 307.5 L293.3 307.5 L294.1 307.0 L294.8 306.5 L295.6 306.2 L296.3 306.3 L297.1 305.9 L297.8 305.7 L298.6 305.6 L299.3 305.7 L300.1 305.4 L300.8 304.7 L301.6 304.6 L302.3 304.7 L303.1 304.7 L303.8 304.2 L304.6 303.8 L305.4 303.1 L306.1 301.9 L306.9 300.7 L307.6 299.1 L308.4 297.3 L309.1 296.0 L309.9 294.7 L310.6 293.1 L311.4 290.9 L312.1 289.3 L312.9 287.4 L313.6 285.4 L314.4 283.2 L315.1 281.7 L315.9 280.7 L316.7 279.4 L317.4 278.1 L318.2 276.6 L318.9 275.3 L319.7 274.2 L320.4 273.4 L321.2 272.4 L321.9 271.2 L322.7 269.8 L323.4 268.4 L324.2 267.0 L324.9 266.0 L325.7 265.3 L326.5 264.6 L327.2 263.7 L328.0 262.7 L328.7 261.7 L329.5 260.5 L330.2 260.0 L331.0 259.2 L331.7 258.2 L332.5 257.3 L333.2 256.4 L334.0 255.4 L334.7 254.1 L335.5 252.5 L336.2 251.2 L337.0 250.2 L337.8 249.0 L338.5 247.9 L339.3 246.9 L340.0 245.4 L340.8 243.7 L341.5 242.1 L342.3 241.4 L343.0 240.9 L343.8 240.6 L344.5 240.1 L345.3 238.7 L346.0 238.1 L346.8 238.1 L347.5 237.3 L348.3 236.9 L349.1 236.9 L349.8 236.9 L350.6 237.0 L351.3 237.7 L352.1 238.2 L352.8 239.1 L353.6 240.5 L354.3 242.5 L355.1 244.3 L355.8 246.0 L356.6 247.2 L357.3 247.8 L358.1 248.1 L358.9 248.0 L359.6 248.2 L360.4 248.7 L361.1 248.3 L361.9 247.7 L362.6 247.9 L363.4 247.6 L364.1 246.9 L364.9 246.6 L365.6 246.2 L366.4 245.1 L367.1 244.5 L367.9 243.7 L368.6 242.8 L369.4 241.2 L370.2 240.0 L370.9 238.9 L371.7 238.7 L372.4 238.2 L373.2 237.2 L373.9 236.5 L374.7 235.9 L375.4 234.8 L376.2 233.8 L376.9 232.9 L377.7 231.9 L378.4 231.0 L379.2 230.4 L380.0 230.0 L380.7 230.0 L381.5 229.8 L382.2 229.3 L383.0 228.4 L383.7 227.6 L384.5 226.6 L385.2 226.0 L386.0 225.7 L386.7 225.0 L387.5 224.3 L388.2 223.9 L389.0 224.0 L389.7 224.5 L390.5 225.4 L391.3 226.3 L392.0 227.3 L392.8 228.2 L393.5 228.7 L394.3 229.9 L395.0 230.8 L395.8 231.8 L396.5 233.3 L397.3 235.0 L398.0 237.2 L398.8 238.7 L399.5 240.9 L400.3 242.7 L401.0 243.9 L401.8 245.7 L402.6 247.7 L403.3 249.7 L404.1 251.3 L404.8 251.9 L405.6 252.7 L406.3 253.7 L407.1 255.3 L407.8 256.8 L408.6 258.1 L409.3 258.3 L410.1 258.1 L410.8 257.0 L411.6 255.5 L412.4 254.0 L413.1 252.0 L413.9 250.4 L414.6 249.1 L415.4 247.9 L416.1 247.1 L416.9 245.8 L417.6 244.5 L418.4 243.5 L419.1 242.2 L419.9 241.3 L420.6 239.8 L421.4 238.0 L422.1 236.1 L422.9 234.7 L423.7 234.4 L424.4 234.6 L425.2 235.4 L425.9 236.9 L426.7 239.2 L427.4 241.4 L428.2 245.7 L428.9 249.8 L429.7 255.4 L430.4 259.3 L431.2 264.8 L431.9 268.6 L432.7 272.5 L433.4 275.3 L434.2 279.1 L435.0 282.8 L435.7 288.4 L436.5 294.6 L437.2 300.6 L438.0 305.4 L438.7 308.9 L439.5 312.9 L440.2 316.1 L441.0 318.3 L441.7 319.4 L442.5 320.6 L443.2 320.5 L444.0 321.2 L444.8 319.9 L445.5 319.2 L446.3 317.4 L447.0 317.9 L447.8 318.3 L448.5 319.2 L449.3 319.3 L450.0 318.9 L450.8 316.8 L451.5 314.5 L452.3 312.3 L453.0 312.2 L453.8 313.6 L454.5 314.2 L455.3 314.6 L456.1 315.6 L456.8 317.3 L457.6 318.9 L458.3 321.0 L459.1 323.1 L459.8 324.2 L460.6 325.8 L461.3 326.3 L462.1 326.3 L462.8 325.4 L463.6 324.8 L464.3 324.2 L465.1 324.4 L465.8 324.2 L466.6 324.2 L467.4 323.6 L468.1 322.4 L468.9 320.0 L469.6 317.1 L470.4 314.6 L471.1 313.1 L471.9 310.5 L472.6 307.0 L473.4 302.7 L474.1 298.4 L474.9 295.8 L475.6 293.2 L476.4 290.5 L477.2 287.7 L477.9 285.9 L478.7 283.6 L479.4 283.0 L480.2 282.0 L480.9 280.9 L481.7 279.5 L482.4 278.6 L483.2 277.8 L483.9 277.8 L484.7 278.4 L485.4 280.1 L486.2 281.3 L486.9 283.5 L487.7 287.1 L488.5 289.7 L489.2 291.3 L490.0 290.5 L490.7 290.3 L491.5 290.8 L492.2 290.7 L493.0 290.7 L493.7 291.1 L494.5 291.0 L495.2 290.6 L496.0 291.3 L496.7 292.1 L497.5 293.3 L498.2 293.9 L499.0 293.8 L499.8 294.1 L500.5 292.8 L501.3 291.2 L502.0 288.6 L502.8 285.6 L503.5 283.6 L504.3 282.1 L505.0 281.6 L505.8 281.3 L506.5 280.4 L507.3 279.8 L508.0 279.2 L508.8 278.7 L509.6 277.4 L510.3 276.4 L511.1 274.8 L511.8 272.8 L512.6 270.7 L513.3 268.5 L514.1 266.0 L514.8 263.0 L515.6 260.9 L516.3 258.9 L517.1 257.2 L517.8 255.5 L518.6 254.0 L519.3 252.1 L520.1 250.7 L520.9 249.2 L521.6 247.9 L522.4 246.5 L523.1 244.7 L523.9 242.9 L524.6 241.0 L525.4 239.4 L526.1 237.7 L526.9 236.4 L527.6 234.6 L528.4 233.0 L529.1 232.1 L529.9 230.8 L530.7 229.6 L531.4 228.3 L532.2 227.1 L532.9 226.0 L533.7 224.7 L534.4 223.3 L535.2 221.6 L535.9 220.1 L536.7 218.7 L537.4 217.5 L538.2 216.9 L538.9 217.0 L539.7 216.8 L540.4 216.4 L541.2 215.8 L542.0 215.0 L542.7 213.8 L543.5 212.6 L544.2 210.9 L545.0 209.6 L545.7 208.2 L546.5 207.0 L547.2 205.8 L548.0 204.9 L548.7 204.1 L549.5 202.7 L550.2 201.6 L551.0 200.5 L551.7 199.6 L552.5 198.5 L553.3 197.0 L554.0 195.1 L554.8 193.8 L555.5 192.9 L556.3 192.5 L557.0 192.9 L557.8 193.7 L558.5 193.8 L559.3 194.7 L560.0 195.7 L560.8 196.2 L561.5 196.8 L562.3 197.5 L563.1 197.9 L563.8 198.8 L564.6 200.0 L565.3 200.7 L566.1 200.8 L566.8 200.8 L567.6 201.1 L568.3 201.5 L569.1 201.8 L569.8 202.0 L570.6 202.8 L571.3 203.2 L572.1 203.0 L572.8 203.4 L573.6 204.2 L574.4 204.7 L575.1 205.6 L575.9 207.3 L576.6 208.9 L577.4 211.0 L578.1 213.3 L578.9 214.7 L579.6 216.3 L580.4 218.3 L581.1 220.5 L581.9 222.9 L582.6 224.7 L583.4 227.3 L584.1 229.9 L584.9 233.1 L585.7 235.6 L586.4 238.0 L587.2 239.3 L587.9 240.5 L588.7 241.4 L589.4 242.6 L590.2 243.0 L590.9 243.4 L591.7 243.3 L592.4 242.3 L593.2 240.9 L593.9 239.7 L594.7 238.6 L595.5 238.4 L596.2 238.0 L597.0 238.1 L597.7 238.5 L598.5 238.0 L599.2 237.4 L600.0 235.1 L600.7 232.6 L601.5 230.2 L602.2 228.7 L603.0 227.6 L603.7 226.8 L604.5 225.9 L605.2 225.4 L606.0 224.9 L606.8 224.1 L607.5 223.8 L608.3 223.3 L609.0 222.8 L609.8 222.3 L610.5 221.2 L611.3 220.8 L612.0 220.1 L612.8 219.6 L613.5 218.8 L614.3 217.2 L615.0 216.6 L615.8 216.2 L616.5 216.1 L617.3 216.2 L618.1 215.2 L618.8 214.0 L619.6 212.4 L620.3 210.7 L621.1 208.8 L621.8 207.4 L622.6 206.0 L623.3 204.8 L624.1 203.9 L624.8 202.8 L625.6 201.3 L626.3 199.4 L627.1 197.3 L627.9 195.2 L628.6 194.0 L629.4 193.3 L630.1 192.6 L630.9 191.7 L631.6 190.8 L632.4 189.8 L633.1 189.4 L633.9 189.1 L634.6 189.0 L635.4 188.2 L636.1 187.2 L636.9 186.5 L637.6 185.7 L638.4 184.8 L639.2 183.3 L639.9 181.9 L640.7 180.7 L641.4 179.5 L642.2 178.2 L642.9 176.8 L643.7 175.2 L644.4 173.9 L645.2 173.1 L645.9 172.4 L646.7 171.4 L647.4 170.2 L648.2 169.1 L649.0 168.0 L649.7 166.7 L650.5 165.9 L651.2 165.2 L652.0 164.5 L652.7 164.2 L653.5 164.3 L654.2 165.1 L655.0 166.1 L655.7 166.7 L656.5 166.9 L657.2 166.9 L658.0 167.0 L658.7 167.7 L659.5 168.4 L660.3 169.2 L661.0 169.8 L661.8 170.8 L662.5 171.6 L663.3 172.5 L664.0 173.0 L664.8 174.0 L665.5 175.3 L666.3 176.2 L667.0 177.9 L667.8 179.7 L668.5 181.2 L669.3 182.7 L670.0 184.2 L670.8 186.5 L671.6 189.4 L672.3 192.2 L673.1 194.2 L673.8 195.5 L674.6 196.7 L675.3 196.8 L676.1 196.8 L676.8 197.2 L677.6 197.3 L678.3 197.2 L679.1 197.5 L679.8 197.6 L680.6 197.9 L681.4 198.5 L682.1 197.9 L682.9 196.8 L683.6 195.7 L684.4 194.3 L685.1 192.8 L685.9 191.0 L686.6 189.4 L687.4 187.4 L688.1 185.7 L688.9 184.4 L689.6 182.9 L690.4 182.3 L691.1 181.7 L691.9 181.1 L692.7 180.9 L693.4 181.3 L694.2 181.0 L694.9 179.5 L695.7 178.1 L696.4 176.5 L697.2 175.1 L697.9 174.0 L698.7 172.8 L699.4 171.6 L700.2 170.4 L700.9 168.9 L701.7 167.3 L702.4 166.1 L703.2 165.2 L704.0 163.8 L704.7 162.4 L705.5 160.6 L706.2 158.7 L707.0 156.3 L707.7 154.0 L708.5 151.1 L709.2 149.0 L710.0 148.0 L710.7 146.5 L711.5 145.7 L712.2 144.3 L713.0 142.7 L713.8 141.4 L714.5 140.1 L715.3 138.8 L716.0 137.5 L716.8 136.1 L717.5 134.8 L718.3 133.7 L719.0 132.4 L719.8 131.9 L720.5 131.7 L721.3 131.1 L722.0 131.5 L722.8 131.6 L723.5 131.4 L724.3 131.0 L725.1 130.4 L725.8 130.1 L726.6 128.9 L727.3 128.0 L728.1 127.1 L728.8 126.0 L729.6 124.9 L730.3 123.9 L731.1 122.9 L731.8 121.7 L732.6 120.6 L733.3 119.7 L734.1 119.2 L734.8 117.9 L735.6 116.7 L736.4 115.5 L737.1 113.7 L737.9 111.9 L738.6 110.6 L739.4 109.0 L740.1 107.8 L740.9 106.5 L741.6 106.1 L742.4 105.6 L743.1 105.4 L743.9 105.0 L744.6 104.7 L745.4 103.7 L746.2 102.6 L746.9 101.9 L747.7 102.1 L748.4 101.5 L749.2 101.4 L749.9 101.9 L750.7 101.6 L751.4 101.5 L752.2 100.7 L752.9 100.3 L753.7 99.5" stroke="#008000" stroke-dasharray="1 3"/>
<path d="M1.7 469.4 L2.4 469.2 L3.2 469.2 L4.0 469.2 L4.7 469.4 L5.5 469.4 L6.2 469.6 L7.0 469.6 L7.7 469.5 L8.5 469.6 L9.2 469.7 L10.0 469.8 L10.7 469.8 L11.5 469.8 L12.2 469.8 L13.0 469.8 L13.7 469.6 L14.5 469.4 L15.3 469.2 L16.0 469.0 L16.8 468.8 L17.5 468.7 L18.3 468.5 L19.0 468.3 L19.8 468.1 L20.5 467.9 L21.3 467.8 L22.0 467.8 L22.8 467.8 L23.5 467.8 L24.3 467.7 L25.1 467.8 L25.8 467.9 L26.6 467.9 L27.3 467.9 L28.1 467.8 L28.8 467.7 L29.6 467.7 L30.3 467.6 L31.1 467.7 L31.8 467.8 L32.6 467.9 L33.3 468.1 L34.1 468.2 L34.8 468.4 L35.6 468.5 L36.4 468.5 L37.1 468.3 L37.9 468.2 L38.6 468.0 L39.4 467.8 L40.1 467.5 L40.9 467.3 L41.6 466.9 L42.4 466.5 L43.1 466.2 L43.9 465.8 L44.6 465.4 L45.4 465.0 L46.1 464.6 L46.9 464.1 L47.7 463.7 L48.4 463.2 L49.2 462.7 L49.9 462.2 L50.7 461.7 L51.4 461.3 L52.2 460.9 L52.9 460.4 L53.7 459.9 L54.4 459.6 L55.2 459.2 L55.9 458.9 L56.7 458.4 L57.5 457.8 L58.2 457.3 L59.0 456.8 L59.7 456.2 L60.5 455.6 L61.2 455.1 L62.0 454.6 L62.7 454.3 L63.5 453.9 L64.2 453.5 L65.0 453.1 L65.7 452.6 L66.5 452.1 L67.2 451.5 L68.0 450.9 L68.8 450.3 L69.5 449.7 L70.3 449.0 L71.0 448.3 L71.8 447.6 L72.5 446.9 L73.3 446.2 L74.0 445.6 L74.8 445.1 L75.5 444.5 L76.3 443.9 L77.0 443.3 L77.8 442.7 L78.6 442.3 L79.3 441.9 L80.1 441.5 L80.8 440.9 L81.6 440.4 L82.3 439.8 L83.1 439.2 L83.8 438.5 L84.6 437.9 L85.3 437.2 L86.1 436.5 L86.8 435.8 L87.6 435.0 L88.3 434.4 L89.1 433.7 L89.9 433.1 L90.6 432.5 L91.4 431.9 L92.1 431.4 L92.9 431.1 L93.6 430.6 L94.4 430.2 L95.1 429.9 L95.9 429.5 L96.6 429.1 L97.4 428.6 L98.1 428.1 L98.9 427.5 L99.6 426.9 L100.4 426.2 L101.2 425.7 L101.9 425.1 L102.7 424.4 L103.4 423.7 L104.2 423.0 L104.9 422.4 L105.7 421.9 L106.4 421.3 L107.2 420.6 L107.9 420.0 L108.7 419.4 L109.4 418.9 L110.2 418.3 L111.0 417.7 L111.7 417.1 L112.5 416.5 L113.2 415.9 L114.0 415.4 L114.7 414.9 L115.5 414.4 L116.2 413.8 L117.0 413.2 L117.7 412.7 L118.5 412.1 L119.2 411.6 L120.0 411.1 L120.7 410.5 L121.5 410.0 L122.3 409.4 L123.0 408.7 L123.8 408.1 L124.5 407.5 L125.3 406.9 L126.0 406.4 L126.8 405.7 L127.5 405.1 L128.3 404.4 L129.0 403.8 L129.8 403.1 L130.5 402.4 L131.3 401.8 L132.0 401.2 L132.8 400.5 L133.6 399.9 L134.3 399.3 L135.1 398.7 L135.8 398.2 L136.6 397.9 L137.3 397.5 L138.1 397.2 L138.8 396.9 L139.6 396.6 L140.3 396.4 L141.1 396.1 L141.8 395.8 L142.6 395.4 L143.4 395.3 L144.1 395.2 L144.9 395.1 L145.6 394.9 L146.4 394.7 L147.1 394.5 L147.9 394.3 L148.6 394.0 L149.4 393.7 L150.1 393.4 L150.9 393.0 L151.6 392.6 L152.4 392.4 L153.1 392.0 L153.9 391.7 L154.7 391.4 L155.4 391.0 L156.2 390.6 L156.9 390.2 L157.7 389.8 L158.4 389.3 L159.2 388.8 L159.9 388.3 L160.7 387.8 L161.4 387.2 L162.2 386.7 L162.9 386.2 L163.7 385.6 L164.4 385.0 L165.2 384.4 L166.0 383.8 L166.7 383.2 L167.5 382.6 L168.2 382.0 L169.0 381.4 L169.7 380.9 L170.5 380.3 L171.2 379.7 L172.0 379.1 L172.7 378.5 L173.5 377.8 L174.2 377.2 L175.0 376.6 L175.8 375.9 L176.5 375.3 L177.3 374.6 L178.0 373.9 L178.8 373.2 L179.5 372.4 L180.3 371.8 L181.0 371.2 L181.8 370.5 L182.5 369.8 L183.3 369.1 L184.0 368.4 L184.8 367.7 L185.5 367.2 L186.3 366.6 L187.1 366.0 L187.8 365.4 L188.6 364.8 L189.3 364.4 L190.1 364.0 L190.8 363.8 L191.6 363.7 L192.3 363.4 L193.1 363.0 L193.8 362.6 L194.6 362.3 L195.3 362.1 L196.1 361.9 L196.8 361.7 L197.6 361.7 L198.4 361.8 L199.1 361.9 L199.9 362.0 L200.6 362.2 L201.4 362.3 L202.1 362.3 L202.9 362.4 L203.6 362.5 L204.4 362.5 L205.1 362.5 L205.9 362.7 L206.6 362.9 L207.4 363.1 L208.2 363.4 L208.9 363.4 L209.7 363.4 L210.4 363.5 L211.2 363.4 L211.9 363.3 L212.7 363.2 L213.4 363.1 L214.2 363.0 L214.9 363.0 L215.7 363.0 L216.4 363.1 L217.2 363.3 L217.9 363.4 L218.7 363.7 L219.5 364.1 L220.2 364.4 L221.0 364.8 L221.7 365.2 L222.5 365.4 L223.2 365.5 L224.0 365.6 L224.7 365.7 L225.5 365.7 L226.2 365.6 L227.0 365.6 L227.7 365.8 L228.5 365.9 L229.3 365.9 L230.0 366.1 L230.8 366.1 L231.5 366.0 L232.3 365.9 L233.0 365.7 L233.8 365.7 L234.5 365.6 L235.3 365.6 L236.0 365.4 L236.8 365.2 L237.5 365.0 L238.3 364.9 L239.0 364.7 L239.8 364.5 L240.6 364.4 L241.3 364.4 L242.1 364.5 L242.8 364.6 L243.6 364.6 L244.3 364.7 L245.1 364.7 L245.8 364.8 L246.6 364.9 L247.3 365.0 L248.1 365.3 L248.8 365.5 L249.6 365.7 L250.3 365.9 L251.1 366.1 L251.9 366.4 L252.6 366.4 L253.4 366.4 L254.1 366.4 L254.9 366.4 L255.6 366.3 L256.4 366.2 L257.1 366.1 L257.9 366.0 L258.6 365.8 L259.4 365.6 L260.1 365.4 L260.9 365.3 L261.7 365.0 L262.4 364.7 L263.2 364.5 L263.9 364.3 L264.7 364.0 L265.4 363.8 L266.2 363.5 L266.9 363.2 L267.7 363.0 L268.4 362.7 L269.2 362.5 L269.9 362.1 L270.7 361.8 L271.4 361.5 L272.2 361.1 L273.0 360.7 L273.7 360.4 L274.5 359.9 L275.2 359.5 L276.0 359.1 L276.7 358.7 L277.5 358.4 L278.2 358.0 L279.0 357.5 L279.7 357.1 L280.5 356.7 L281.2 356.3 L282.0 355.8 L282.7 355.4 L283.5 355.0 L284.3 354.6 L285.0 354.2 L285.8 353.7 L286.5 353.1 L287.3 352.5 L288.0 351.9 L288.8 351.4 L289.5 350.8 L290.3 350.3 L291.0 349.8 L291.8 349.4 L292.5 349.1 L293.3 348.8 L294.1 348.4 L294.8 347.9 L295.6 347.5 L296.3 347.2 L297.1 346.8 L297.8 346.4 L298.6 346.1 L299.3 345.8 L300.1 345.4 L300.8 344.9 L301.6 344.3 L302.3 343.8 L303.1 343.3 L303.8 342.8 L304.6 342.2 L305.4 341.6 L306.1 341.0 L306.9 340.5 L307.6 339.9 L308.4 339.3 L309.1 338.7 L309.9 338.2 L310.6 337.5 L311.4 336.9 L312.1 336.2 L312.9 335.6 L313.6 335.0 L314.4 334.4 L315.1 333.8 L315.9 333.2 L316.7 332.5 L317.4 331.8 L318.2 331.1 L318.9 330.5 L319.7 329.8 L320.4 329.2 L321.2 328.5 L321.9 327.8 L322.7 327.1 L323.4 326.4 L324.2 325.7 L324.9 325.0 L325.7 324.4 L326.5 323.7 L327.2 323.0 L328.0 322.3 L328.7 321.6 L329.5 320.9 L330.2 320.3 L331.0 319.7 L331.7 319.0 L332.5 318.3 L333.2 317.5 L334.0 316.8 L334.7 316.0 L335.5 315.2 L336.2 314.5 L337.0 313.7 L337.8 312.9 L338.5 312.1 L339.3 311.3 L340.0 310.5 L340.8 309.7 L341.5 308.8 L342.3 308.1 L343.0 307.5 L343.8 306.9 L344.5 306.2 L345.3 305.5 L346.0 304.9 L346.8 304.3 L347.5 303.6 L348.3 302.9 L349.1 302.4 L349.8 301.7 L350.6 301.1 L351.3 300.6 L352.1 300.1 L352.8 299.6 L353.6 299.2 L354.3 298.9 L355.1 298.6 L355.8 298.2 L356.6 297.7 L357.3 297.3 L358.1 296.8 L358.9 296.3 L359.6 295.8 L360.4 295.2 L361.1 294.7 L361.9 294.1 L362.6 293.5 L363.4 292.9 L364.1 292.2 L364.9 291.6 L365.6 291.0 L366.4 290.4 L367.1 289.9 L367.9 289.3 L368.6 288.8 L369.4 288.4 L370.2 287.9 L370.9 287.4 L371.7 287.0 L372.4 286.6 L373.2 286.0 L373.9 285.5 L374.7 284.9 L375.4 284.3 L376.2 283.6 L376.9 282.9 L377.7 282.3 L378.4 281.6 L379.2 281.0 L380.0 280.4 L380.7 279.9 L381.5 279.4 L382.2 278.8 L383.0 278.2 L383.7 277.7 L384.5 277.1 L385.2 276.6 L386.0 276.2 L386.7 275.8 L387.5 275.3 L388.2 274.8 L389.0 274.3 L389.7 274.0 L390.5 273.7 L391.3 273.3 L392.0 272.9 L392.8 272.5 L393.5 272.0 L394.3 271.7 L395.0 271.4 L395.8 271.2 L396.5 271.1 L397.3 271.0 L398.0 270.9 L398.8 270.7 L399.5 270.7 L400.3 270.6 L401.0 270.5 L401.8 270.4 L402.6 270.4 L403.3 270.4 L404.1 270.3 L404.8 270.1 L405.6 270.0 L406.3 269.9 L407.1 269.8 L407.8 269.7 L408.6 269.6 L409.3 269.3 L410.1 269.0 L410.8 268.6 L411.6 268.2 L412.4 267.8 L413.1 267.3 L413.9 266.9 L414.6 266.6 L415.4 266.4 L416.1 266.1 L416.9 265.9 L417.6 265.6 L418.4 265.4 L419.1 265.1 L419.9 264.8 L420.6 264.4 L421.4 264.0 L422.1 263.7 L422.9 263.4 L423.7 263.2 L424.4 263.0 L425.2 263.0 L425.9 262.9 L426.7 263.0 L427.4 263.1 L428.2 263.5 L428.9 263.9 L429.7 264.8 L430.4 265.4 L431.2 266.2 L431.9 266.8 L432.7 267.3 L433.4 267.6 L434.2 268.0 L435.0 268.4 L435.7 269.1 L436.5 269.9 L437.2 270.7 L438.0 271.3 L438.7 271.7 L439.5 272.3 L440.2 272.7 L441.0 273.0 L441.7 273.3 L442.5 273.5 L443.2 273.8 L444.0 274.2 L444.8 274.7 L445.5 275.1 L446.3 275.4 L447.0 276.0 L447.8 276.5 L448.5 276.9 L449.3 277.3 L450.0 277.5 L450.8 277.7 L451.5 278.0 L452.3 278.2 L453.0 278.7 L453.8 279.3 L454.5 279.9 L455.3 280.4 L456.1 280.8 L456.8 281.3 L457.6 281.8 L458.3 282.4 L459.1 283.2 L459.8 283.8 L460.6 284.4 L461.3 284.8 L462.1 285.2 L462.8 285.4 L463.6 285.7 L464.3 285.8 L465.1 286.0 L465.8 286.1 L466.6 286.2 L467.4 286.3 L468.1 286.4 L468.9 286.5 L469.6 286.5 L470.4 286.4 L471.1 286.4 L471.9 286.4 L472.6 286.1 L473.4 285.8 L474.1 285.7 L474.9 285.8 L475.6 285.8 L476.4 285.7 L477.2 285.6 L477.9 285.4 L478.7 285.2 L479.4 285.2 L480.2 285.2 L480.9 285.1 L481.7 285.0 L482.4 284.9 L483.2 284.9 L483.9 285.0 L484.7 285.1 L485.4 285.3 L486.2 285.6 L486.9 286.0 L487.7 286.4 L488.5 286.7 L489.2 286.9 L490.0 286.8 L490.7 286.7 L491.5 286.7 L492.2 286.5 L493.0 286.4 L493.7 286.3 L494.5 286.3 L495.2 286.1 L496.0 286.1 L496.7 286.2 L497.5 286.3 L498.2 286.4 L499.0 286.5 L499.8 286.7 L500.5 286.6 L501.3 286.6 L502.0 286.4 L502.8 286.3 L503.5 286.1 L504.3 286.0 L505.0 285.9 L505.8 285.7 L506.5 285.5 L507.3 285.3 L508.0 285.0 L508.8 284.8 L509.6 284.5 L510.3 284.2 L511.1 283.9 L511.8 283.6 L512.6 283.3 L513.3 283.0 L514.1 282.7 L514.8 282.2 L515.6 281.8 L516.3 281.4 L517.1 281.0 L517.8 280.6 L518.6 280.2 L519.3 279.8 L520.1 279.4 L520.9 279.0 L521.6 278.6 L522.4 278.2 L523.1 277.6 L523.9 277.1 L524.6 276.6 L525.4 276.0 L526.1 275.5 L526.9 275.0 L527.6 274.4 L528.4 273.9 L529.1 273.4 L529.9 272.8 L530.7 272.3 L531.4 271.7 L532.2 271.2 L532.9 270.6 L533.7 270.0 L534.4 269.4 L535.2 268.8 L535.9 268.3 L536.7 267.7 L537.4 267.1 L538.2 266.6 L538.9 266.2 L539.7 265.7 L540.4 265.2 L541.2 264.6 L542.0 264.1 L542.7 263.4 L543.5 262.7 L544.2 262.0 L545.0 261.3 L545.7 260.6 L546.5 259.9 L547.2 259.2 L548.0 258.6 L548.7 258.0 L549.5 257.2 L550.2 256.5 L551.0 255.9 L551.7 255.2 L552.5 254.6 L553.3 253.9 L554.0 253.2 L554.8 252.6 L555.5 252.0 L556.3 251.5 L557.0 251.2 L557.8 250.8 L558.5 250.3 L559.3 249.9 L560.0 249.5 L560.8 249.0 L561.5 248.5 L562.3 248.1 L563.1 247.7 L563.8 247.3 L564.6 246.9 L565.3 246.5 L566.1 245.9 L566.8 245.4 L567.6 244.9 L568.3 244.4 L569.1 243.8 L569.8 243.4 L570.6 243.1 L571.3 242.7 L572.1 242.4 L572.8 242.2 L573.6 242.0 L574.4 241.7 L575.1 241.6 L575.9 241.5 L576.6 241.4 L577.4 241.5 L578.1 241.6 L578.9 241.6 L579.6 241.6 L580.4 241.6 L581.1 241.5 L581.9 241.5 L582.6 241.4 L583.4 241.4 L584.1 241.4 L584.9 241.6 L585.7 241.8 L586.4 242.0 L587.2 242.0 L587.9 242.0 L588.7 241.9 L589.4 241.9 L590.2 241.9 L590.9 241.9 L591.7 241.8 L592.4 241.6 L593.2 241.4 L593.9 241.2 L594.7 241.0 L595.5 240.9 L596.2 240.8 L597.0 240.8 L597.7 240.8 L598.5 240.7 L599.2 240.6 L600.0 240.4 L600.7 240.1 L601.5 239.8 L602.2 239.5 L603.0 239.3 L603.7 239.1 L604.5 239.0 L605.2 238.8 L606.0 238.8 L606.8 238.5 L607.5 238.4 L608.3 238.1 L609.0 237.8 L609.8 237.5 L610.5 237.3 L611.3 237.1 L612.0 237.0 L612.8 236.9 L613.5 236.7 L614.3 236.4 L615.0 236.0 L615.8 235.7 L616.5 235.4 L617.3 235.2 L618.1 234.9 L618.8 234.5 L619.6 234.1 L620.3 233.6 L621.1 233.2 L621.8 232.8 L622.6 232.4 L623.3 232.0 L624.1 231.6 L624.8 231.1 L625.6 230.6 L626.3 230.2 L627.1 229.7 L627.9 229.3 L628.6 228.9 L629.4 228.5 L630.1 228.1 L630.9 227.7 L631.6 227.3 L632.4 227.0 L633.1 226.6 L633.9 226.2 L634.6 225.9 L635.4 225.4 L636.1 224.9 L636.9 224.4 L637.6 223.9 L638.4 223.4 L639.2 222.8 L639.9 222.1 L640.7 221.5 L641.4 220.9 L642.2 220.3 L642.9 219.7 L643.7 219.1 L644.4 218.5 L645.2 218.0 L645.9 217.6 L646.7 217.1 L647.4 216.6 L648.2 216.1 L649.0 215.7 L649.7 215.1 L650.5 214.6 L651.2 214.0 L652.0 213.5 L652.7 213.1 L653.5 212.7 L654.2 212.3 L655.0 212.0 L655.7 211.6 L656.5 211.1 L657.2 210.6 L658.0 210.1 L658.7 209.8 L659.5 209.4 L660.3 209.2 L661.0 209.0 L661.8 208.7 L662.5 208.5 L663.3 208.3 L664.0 208.0 L664.8 207.8 L665.5 207.5 L666.3 207.2 L667.0 207.1 L667.8 207.1 L668.5 207.1 L669.3 207.1 L670.0 207.1 L670.8 207.2 L671.6 207.3 L672.3 207.4 L673.1 207.3 L673.8 207.3 L674.6 207.2 L675.3 207.0 L676.1 206.8 L676.8 206.7 L677.6 206.5 L678.3 206.3 L679.1 206.1 L679.8 205.9 L680.6 205.7 L681.4 205.6 L682.1 205.4 L682.9 205.1 L683.6 204.9 L684.4 204.7 L685.1 204.4 L685.9 204.2 L686.6 204.0 L687.4 203.7 L688.1 203.4 L688.9 203.1 L689.6 202.7 L690.4 202.5 L691.1 202.2 L691.9 202.0 L692.7 201.8 L693.4 201.7 L694.2 201.5 L694.9 201.1 L695.7 200.7 L696.4 200.2 L697.2 199.8 L697.9 199.4 L698.7 199.0 L699.4 198.6 L700.2 198.1 L700.9 197.7 L701.7 197.3 L702.4 196.8 L703.2 196.3 L704.0 195.8 L704.7 195.3 L705.5 194.7 L706.2 194.2 L707.0 193.6 L707.7 193.1 L708.5 192.5 L709.2 191.9 L710.0 191.4 L710.7 190.8 L711.5 190.3 L712.2 189.7 L713.0 189.1 L713.8 188.5 L714.5 187.9 L715.3 187.3 L716.0 186.7 L716.8 186.1 L717.5 185.5 L718.3 184.9 L719.0 184.3 L719.8 183.7 L720.5 183.3 L721.3 182.7 L722.0 182.3 L722.8 181.9 L723.5 181.4 L724.3 180.9 L725.1 180.3 L725.8 179.8 L726.6 179.1 L727.3 178.5 L728.1 177.8 L728.8 177.1 L729.6 176.4 L730.3 175.7 L731.1 175.1 L731.8 174.3 L732.6 173.6 L733.3 173.0 L734.1 172.4 L734.8 171.7 L735.6 171.1 L736.4 170.4 L737.1 169.8 L737.9 169.1 L738.6 168.5 L739.4 167.8 L740.1 167.1 L740.9 166.5 L741.6 165.9 L742.4 165.2 L743.1 164.7 L743.9 164.1 L744.6 163.4 L745.4 162.7 L746.2 161.9 L746.9 161.1 L747.7 160.6 L748.4 160.0 L749.2 159.5 L749.9 159.0 L750.7 158.5 L751.4 157.9 L752.2 157.3 L752.9 156.7 L753.7 156.0" stroke="#00fa9a" stroke-width="1"/>
<path d="M1.7 469.4 L2.4 468.9 L3.2 468.9 L4.0 468.9 L4.7 469.4 L5.5 469.7 L6.2 470.2 L7.0 470.1 L7.7 470.1 L8.5 470.2 L9.2 470.5 L10.0 470.9 L10.7 470.8 L11.5 471.1 L12.2 471.0 L13.0 470.7 L13.7 469.9 L14.5 469.0 L15.3 468.5 L16.0 467.8 L16.8 467.1 L17.5 466.5 L18.3 465.8 L19.0 465.3 L19.8 464.6 L20.5 464.0 L21.3 463.8 L22.0 463.9 L22.8 464.1 L23.5 464.0 L24.3 463.9 L25.1 464.5 L25.8 464.9 L26.6 465.2 L27.3 465.1 L28.1 465.0 L28.8 464.8 L29.6 464.7 L30.3 464.5 L31.1 465.0 L31.8 465.3 L32.6 466.1 L33.3 466.8 L34.1 467.4 L34.8 468.1 L35.6 468.3 L36.4 468.4 L37.1 467.9 L37.9 467.2 L38.6 466.6 L39.4 465.7 L40.1 464.8 L40.9 464.0 L41.6 462.7 L42.4 461.4 L43.1 460.0 L43.9 458.8 L44.6 457.7 L45.4 456.4 L46.1 455.2 L46.9 453.7 L47.7 452.1 L48.4 450.7 L49.2 449.5 L49.9 448.0 L50.7 446.6 L51.4 445.6 L52.2 444.4 L52.9 443.0 L53.7 441.9 L54.4 441.4 L55.2 440.7 L55.9 439.9 L56.7 438.8 L57.5 437.4 L58.2 436.1 L59.0 434.8 L59.7 433.5 L60.5 432.2 L61.2 430.9 L62.0 430.0 L62.7 429.5 L63.5 429.2 L64.2 428.6 L65.0 427.8 L65.7 426.9 L66.5 425.8 L67.2 424.5 L68.0 423.3 L68.8 422.0 L69.5 420.6 L70.3 419.0 L71.0 417.5 L71.8 416.0 L72.5 414.6 L73.3 413.2 L74.0 412.0 L74.8 411.1 L75.5 410.4 L76.3 409.3 L77.0 408.3 L77.8 407.4 L78.6 407.1 L79.3 407.0 L80.1 406.5 L80.8 405.7 L81.6 404.9 L82.3 404.0 L83.1 402.9 L83.8 401.8 L84.6 400.8 L85.3 399.5 L86.1 398.1 L86.8 396.9 L87.6 395.6 L88.3 394.4 L89.1 393.5 L89.9 392.4 L90.6 391.7 L91.4 391.2 L92.1 390.8 L92.9 391.0 L93.6 390.5 L94.4 390.8 L95.1 390.9 L95.9 391.0 L96.6 391.0 L97.4 390.6 L98.1 390.1 L98.9 389.1 L99.6 388.2 L100.4 387.2 L101.2 386.5 L101.9 385.6 L102.7 384.5 L103.4 383.3 L104.2 382.3 L104.9 381.6 L105.7 381.0 L106.4 380.1 L107.2 379.2 L107.9 378.3 L108.7 377.8 L109.4 377.3 L110.2 376.5 L111.0 375.7 L111.7 375.1 L112.5 374.5 L113.2 373.9 L114.0 373.6 L114.7 373.2 L115.5 372.7 L116.2 372.1 L117.0 371.4 L117.7 370.8 L118.5 370.2 L119.2 370.0 L120.0 369.6 L120.7 369.0 L121.5 368.3 L122.3 367.6 L123.0 366.7 L123.8 365.9 L124.5 365.2 L125.3 364.5 L126.0 364.0 L126.8 363.2 L127.5 362.3 L128.3 361.5 L129.0 360.6 L129.8 359.6 L130.5 358.6 L131.3 358.0 L132.0 357.1 L132.8 356.2 L133.6 355.6 L134.3 354.7 L135.1 354.2 L135.8 354.1 L136.6 354.6 L137.3 354.9 L138.1 355.3 L138.8 355.6 L139.6 356.2 L140.3 357.0 L141.1 357.4 L141.8 357.5 L142.6 357.7 L143.4 358.7 L144.1 359.5 L144.9 360.6 L145.6 361.2 L146.4 361.9 L147.1 362.4 L147.9 362.9 L148.6 363.0 L149.4 362.9 L150.1 362.7 L150.9 362.5 L151.6 362.2 L152.4 362.3 L153.1 362.2 L153.9 362.1 L154.7 362.0 L155.4 361.6 L156.2 361.2 L156.9 360.8 L157.7 360.3 L158.4 359.5 L159.2 358.8 L159.9 358.0 L160.7 357.1 L161.4 356.2 L162.2 355.3 L162.9 354.4 L163.7 353.4 L164.4 352.3 L165.2 351.2 L166.0 350.3 L166.7 349.3 L167.5 348.1 L168.2 347.2 L169.0 346.3 L169.7 345.4 L170.5 344.4 L171.2 343.5 L172.0 342.7 L172.7 341.7 L173.5 340.6 L174.2 339.4 L175.0 338.5 L175.8 337.5 L176.5 336.3 L177.3 335.2 L178.0 334.1 L178.8 332.7 L179.5 331.4 L180.3 330.6 L181.0 329.6 L181.8 328.5 L182.5 327.5 L183.3 326.5 L184.0 325.3 L184.8 324.2 L185.5 323.8 L186.3 323.3 L187.1 322.5 L187.8 322.1 L188.6 321.4 L189.3 321.3 L190.1 321.5 L190.8 322.4 L191.6 323.7 L192.3 323.9 L193.1 324.1 L193.8 324.0 L194.6 324.2 L195.3 324.9 L196.1 325.5 L196.8 326.5 L197.6 327.5 L198.4 329.5 L199.1 331.0 L199.9 332.8 L200.6 334.5 L201.4 336.2 L202.1 337.2 L202.9 338.4 L203.6 339.9 L204.4 340.8 L205.1 341.5 L205.9 343.1 L206.6 344.9 L207.4 346.4 L208.2 348.0 L208.9 348.8 L209.7 349.5 L210.4 350.2 L211.2 350.3 L211.9 350.4 L212.7 350.5 L213.4 350.5 L214.2 350.7 L214.9 351.2 L215.7 351.8 L216.4 352.7 L217.2 353.6 L217.9 354.5 L218.7 356.0 L219.5 357.8 L220.2 359.5 L221.0 361.3 L221.7 362.9 L222.5 363.7 L223.2 364.2 L224.0 364.6 L224.7 365.0 L225.5 364.9 L226.2 364.9 L227.0 364.8 L227.7 365.5 L228.5 366.0 L229.3 366.1 L230.0 366.6 L230.8 366.6 L231.5 366.3 L232.3 365.8 L233.0 365.3 L233.8 365.0 L234.5 364.9 L235.3 364.7 L236.0 364.0 L236.8 363.5 L237.5 362.8 L238.3 362.2 L239.0 361.7 L239.8 361.0 L240.6 360.6 L241.3 360.9 L242.1 361.3 L242.8 361.7 L243.6 362.2 L244.3 362.3 L245.1 362.4 L245.8 362.9 L246.6 363.5 L247.3 364.1 L248.1 365.1 L248.8 365.9 L249.6 366.9 L250.3 367.5 L251.1 368.3 L251.9 369.2 L252.6 369.3 L253.4 369.2 L254.1 368.8 L254.9 368.7 L255.6 368.5 L256.4 368.1 L257.1 367.6 L257.9 366.9 L258.6 366.2 L259.4 365.5 L260.1 364.8 L260.9 364.1 L261.7 363.1 L262.4 362.1 L263.2 361.3 L263.9 360.8 L264.7 359.8 L265.4 358.9 L266.2 358.0 L266.9 357.1 L267.7 356.4 L268.4 355.6 L269.2 355.0 L269.9 353.9 L270.7 352.9 L271.4 352.0 L272.2 350.9 L273.0 349.9 L273.7 348.8 L274.5 347.6 L275.2 346.5 L276.0 345.4 L276.7 344.2 L277.5 343.4 L278.2 342.4 L279.0 341.4 L279.7 340.4 L280.5 339.3 L281.2 338.3 L282.0 337.4 L282.7 336.5 L283.5 335.7 L284.3 334.8 L285.0 333.8 L285.8 332.7 L286.5 331.2 L287.3 329.6 L288.0 328.2 L288.8 327.0 L289.5 325.7 L290.3 324.6 L291.0 323.9 L291.8 323.2 L292.5 323.0 L293.3 322.8 L294.1 322.2 L294.8 321.6 L295.6 321.0 L296.3 320.8 L297.1 320.2 L297.8 319.9 L298.6 319.6 L299.3 319.5 L300.1 318.8 L300.8 317.8 L301.6 316.8 L302.3 315.8 L303.1 314.9 L303.8 313.9 L304.6 312.8 L305.4 311.7 L306.1 310.5 L306.9 309.4 L307.6 308.5 L308.4 307.4 L309.1 306.4 L309.9 305.3 L310.6 304.1 L311.4 302.9 L312.1 301.8 L312.9 300.6 L313.6 299.5 L314.4 298.5 L315.1 297.5 L315.9 296.5 L316.7 295.3 L317.4 294.1 L318.2 292.9 L318.9 291.8 L319.7 290.7 L320.4 289.8 L321.2 288.8 L321.9 287.5 L322.7 286.4 L323.4 285.1 L324.2 283.8 L324.9 282.9 L325.7 282.0 L326.5 281.1 L327.2 280.1 L328.0 279.0 L328.7 278.0 L329.5 276.9 L330.2 276.3 L331.0 275.6 L331.7 274.4 L332.5 273.3 L333.2 272.2 L334.0 271.1 L334.7 269.8 L335.5 268.5 L336.2 267.3 L337.0 266.1 L337.8 264.8 L338.5 263.5 L339.3 262.3 L340.0 261.0 L340.8 259.7 L341.5 258.4 L342.3 257.7 L343.0 257.2 L343.8 256.7 L344.5 256.0 L345.3 255.2 L346.0 254.8 L346.8 254.4 L347.5 253.5 L348.3 252.9 L349.1 252.6 L349.8 252.0 L350.6 251.4 L351.3 251.5 L352.1 251.3 L352.8 251.3 L353.6 251.6 L354.3 252.5 L355.1 253.0 L355.8 253.3 L356.6 253.2 L357.3 253.2 L358.1 253.1 L358.9 252.7 L359.6 252.3 L360.4 251.9 L361.1 251.4 L361.9 250.7 L362.6 250.1 L363.4 249.4 L364.1 248.7 L364.9 248.0 L365.6 247.3 L366.4 246.6 L367.1 246.1 L367.9 245.7 L368.6 245.5 L369.4 245.4 L370.2 245.2 L370.9 245.0 L371.7 245.0 L372.4 244.9 L373.2 244.4 L373.9 243.8 L374.7 243.3 L375.4 242.5 L376.2 241.5 L376.9 240.5 L377.7 239.5 L378.4 238.5 L379.2 237.7 L380.0 237.1 L380.7 236.8 L381.5 236.4 L382.2 235.9 L383.0 235.2 L383.7 234.9 L384.5 234.4 L385.2 234.1 L386.0 234.1 L386.7 234.0 L387.5 233.8 L388.2 233.4 L389.0 233.3 L389.7 233.6 L390.5 233.8 L391.3 234.0 L392.0 234.0 L392.8 234.0 L393.5 233.6 L394.3 233.9 L395.0 234.2 L395.8 234.8 L396.5 235.7 L397.3 236.6 L398.0 237.5 L398.8 238.2 L399.5 239.3 L400.3 240.3 L401.0 241.0 L401.8 242.0 L402.6 243.1 L403.3 243.9 L404.1 244.6 L404.8 244.9 L405.6 245.4 L406.3 245.9 L407.1 246.7 L407.8 247.3 L408.6 247.4 L409.3 247.4 L410.1 247.0 L410.8 246.2 L411.6 245.5 L412.4 244.8 L413.1 243.8 L413.9 243.1 L414.6 242.9 L415.4 242.9 L416.1 242.7 L416.9 242.8 L417.6 242.7 L418.4 242.9 L419.1 242.5 L419.9 242.2 L420.6 241.6 L421.4 240.9 L422.1 240.4 L422.9 240.1 L423.7 240.3 L424.4 240.7 L425.2 241.2 L425.9 241.8 L426.7 243.1 L427.4 244.2 L428.2 246.6 L428.9 249.0 L429.7 252.9 L430.4 255.6 L431.2 259.3 L431.9 261.7 L432.7 263.9 L433.4 265.4 L434.2 267.2 L435.0 268.8 L435.7 271.5 L436.5 274.5 L437.2 277.4 L438.0 279.4 L438.7 280.9 L439.5 282.7 L440.2 284.1 L441.0 284.8 L441.7 285.3 L442.5 285.7 L443.2 286.3 L444.0 287.7 L444.8 289.1 L445.5 289.8 L446.3 290.7 L447.0 292.3 L447.8 293.7 L448.5 294.7 L449.3 295.4 L450.0 295.6 L450.8 295.6 L451.5 295.9 L452.3 296.3 L453.0 297.3 L453.8 299.2 L454.5 300.9 L455.3 301.8 L456.1 302.5 L456.8 303.7 L457.6 304.7 L458.3 306.2 L459.1 308.4 L459.8 309.9 L460.6 311.0 L461.3 311.6 L462.1 312.3 L462.8 312.1 L463.6 312.0 L464.3 311.6 L465.1 311.2 L465.8 310.5 L466.6 310.3 L467.4 309.5 L468.1 309.1 L468.9 308.7 L469.6 307.7 L470.4 306.4 L471.1 305.7 L471.9 304.8 L472.6 303.0 L473.4 301.2 L474.1 300.2 L474.9 300.0 L475.6 299.4 L476.4 298.3 L477.2 297.4 L477.9 296.4 L478.7 295.1 L479.4 294.8 L480.2 294.4 L480.9 293.4 L481.7 292.8 L482.4 292.0 L483.2 291.7 L483.9 291.9 L484.7 292.1 L485.4 292.8 L486.2 293.5 L486.9 294.8 L487.7 296.2 L488.5 296.7 L489.2 297.1 L490.0 296.4 L490.7 295.8 L491.5 295.2 L492.2 294.4 L493.0 293.5 L493.7 292.7 L494.5 292.4 L495.2 291.7 L496.0 291.4 L496.7 291.4 L497.5 291.7 L498.2 291.9 L499.0 292.0 L499.8 292.4 L500.5 292.0 L501.3 291.6 L502.0 291.0 L502.8 290.1 L503.5 289.3 L504.3 288.8 L505.0 288.1 L505.8 287.5 L506.5 286.5 L507.3 285.6 L508.0 284.6 L508.8 283.7 L509.6 282.8 L510.3 281.6 L511.1 280.5 L511.8 279.4 L512.6 278.5 L513.3 277.5 L514.1 276.2 L514.8 274.8 L515.6 273.5 L516.3 272.2 L517.1 271.0 L517.8 269.6 L518.6 268.4 L519.3 267.3 L520.1 266.3 L520.9 265.4 L521.6 264.2 L522.4 263.1 L523.1 261.6 L523.9 260.1 L524.6 258.7 L525.4 257.2 L526.1 255.8 L526.9 254.6 L527.6 253.3 L528.4 252.0 L529.1 251.0 L529.9 249.6 L530.7 248.3 L531.4 247.0 L532.2 245.8 L532.9 244.5 L533.7 243.3 L534.4 242.0 L535.2 240.8 L535.9 239.7 L536.7 238.4 L537.4 237.3 L538.2 236.4 L538.9 235.9 L539.7 235.3 L540.4 234.4 L541.2 233.5 L542.0 232.5 L542.7 231.1 L543.5 229.7 L544.2 228.3 L545.0 226.8 L545.7 225.3 L546.5 223.9 L547.2 222.7 L548.0 221.7 L548.7 220.6 L549.5 219.2 L550.2 217.9 L551.0 216.8 L551.7 215.9 L552.5 214.8 L553.3 213.5 L554.0 212.5 L554.8 211.7 L555.5 211.1 L556.3 210.8 L557.0 211.0 L557.8 211.0 L558.5 210.6 L559.3 210.6 L560.0 210.6 L560.8 210.1 L561.5 209.8 L562.3 209.6 L563.1 209.5 L563.8 209.6 L564.6 209.6 L565.3 209.1 L566.1 208.5 L566.8 207.9 L567.6 207.4 L568.3 206.7 L569.1 206.1 L569.8 205.8 L570.6 206.0 L571.3 206.2 L572.1 206.5 L572.8 207.0 L573.6 207.4 L574.4 207.8 L575.1 208.6 L575.9 209.6 L576.6 210.6 L577.4 212.0 L578.1 213.6 L578.9 214.6 L579.6 215.6 L580.4 216.5 L581.1 217.4 L581.9 218.3 L582.6 218.8 L583.4 219.7 L584.1 220.6 L584.9 222.2 L585.7 223.8 L586.4 225.1 L587.2 225.7 L587.9 226.3 L588.7 226.7 L589.4 227.4 L590.2 227.7 L590.9 228.2 L591.7 228.4 L592.4 228.3 L593.2 228.2 L593.9 227.7 L594.7 227.4 L595.5 227.7 L596.2 227.8 L597.0 228.3 L597.7 228.7 L598.5 228.8 L599.2 229.0 L600.0 228.4 L600.7 227.8 L601.5 227.0 L602.2 226.4 L603.0 226.1 L603.7 225.9 L604.5 225.9 L605.2 225.9 L606.0 226.1 L606.8 225.8 L607.5 225.5 L608.3 225.1 L609.0 224.4 L609.8 223.7 L610.5 223.4 L611.3 223.3 L612.0 223.5 L612.8 223.6 L613.5 223.3 L614.3 222.5 L615.0 221.7 L615.8 221.0 L616.5 220.5 L617.3 220.2 L618.1 219.3 L618.8 218.5 L619.6 217.4 L620.3 216.5 L621.1 215.5 L621.8 214.5 L622.6 213.6 L623.3 212.7 L624.1 211.8 L624.8 210.8 L625.6 209.7 L626.3 208.7 L627.1 207.8 L627.9 206.9 L628.6 206.4 L629.4 205.6 L630.1 204.9 L630.9 204.3 L631.6 203.6 L632.4 203.2 L633.1 202.7 L633.9 202.2 L634.6 201.8 L635.4 200.8 L636.1 199.7 L636.9 198.8 L637.6 197.8 L638.4 196.9 L639.2 195.4 L639.9 193.9 L640.7 192.5 L641.4 191.3 L642.2 190.0 L642.9 188.8 L643.7 187.7 L644.4 186.7 L645.2 186.0 L645.9 185.6 L646.7 184.9 L647.4 184.3 L648.2 183.7 L649.0 183.1 L649.7 182.4 L650.5 181.4 L651.2 180.6 L652.0 179.9 L652.7 179.5 L653.5 179.3 L654.2 179.2 L655.0 179.1 L655.7 178.8 L656.5 178.1 L657.2 177.4 L658.0 176.8 L658.7 176.7 L659.5 176.6 L660.3 177.0 L661.0 177.5 L661.8 177.8 L662.5 178.1 L663.3 178.5 L664.0 178.5 L664.8 178.7 L665.5 178.9 L666.3 178.9 L667.0 179.6 L667.8 180.6 L668.5 181.6 L669.3 182.5 L670.0 183.5 L670.8 184.8 L671.6 186.2 L672.3 187.4 L673.1 187.9 L673.8 188.4 L674.6 188.8 L675.3 188.8 L676.1 188.8 L676.8 189.0 L677.6 189.0 L678.3 188.8 L679.1 188.6 L679.8 188.6 L680.6 188.7 L681.4 188.6 L682.1 188.5 L682.9 188.3 L683.6 188.1 L684.4 187.7 L685.1 187.3 L685.9 187.1 L686.6 187.1 L687.4 186.7 L688.1 185.9 L688.9 185.4 L689.6 184.8 L690.4 184.5 L691.1 184.2 L691.9 184.2 L692.7 184.1 L693.4 184.4 L694.2 184.2 L694.9 183.2 L695.7 182.3 L696.4 181.3 L697.2 180.4 L697.9 179.7 L698.7 178.9 L699.4 177.9 L700.2 176.9 L700.9 176.0 L701.7 175.1 L702.4 174.2 L703.2 173.2 L704.0 172.1 L704.7 170.9 L705.5 169.7 L706.2 168.6 L707.0 167.3 L707.7 166.1 L708.5 164.8 L709.2 163.7 L710.0 162.7 L710.7 161.4 L711.5 160.6 L712.2 159.4 L713.0 158.3 L713.8 157.3 L714.5 156.1 L715.3 155.0 L716.0 153.9 L716.8 152.8 L717.5 151.7 L718.3 150.8 L719.0 149.6 L719.8 148.8 L720.5 148.3 L721.3 147.6 L722.0 147.4 L722.8 147.1 L723.5 146.4 L724.3 145.7 L725.1 145.0 L725.8 144.1 L726.6 143.0 L727.3 141.9 L728.1 140.7 L728.8 139.5 L729.6 138.2 L730.3 137.0 L731.1 135.8 L731.8 134.5 L732.6 133.3 L733.3 132.3 L734.1 131.4 L734.8 130.4 L735.6 129.7 L736.4 128.7 L737.1 127.9 L737.9 126.9 L738.6 125.9 L739.4 124.9 L740.1 124.0 L740.9 123.0 L741.6 122.4 L742.4 121.7 L743.1 121.1 L743.9 120.4 L744.6 119.5 L745.4 118.3 L746.2 117.0 L746.9 115.9 L747.7 115.6 L748.4 114.8 L749.2 114.5 L749.9 114.5 L750.7 114.2 L751.4 113.7 L752.2 112.9 L752.9 112.2 L753.7 111.2" stroke="#000"/>
<path d="M1.7 469.4 L2.4 468.2 L3.2 468.2 L4.0 468.3 L4.7 469.6 L5.5 470.4 L6.2 471.6 L7.0 471.2 L7.7 471.0 L8.5 471.1 L9.2 471.9 L10.0 472.8 L10.7 472.3 L11.5 472.8 L12.2 472.5 L13.0 471.6 L13.7 469.5 L14.5 467.5 L15.3 466.3 L16.0 464.8 L16.8 463.4 L17.5 462.3 L18.3 461.1 L19.0 460.2 L19.8 459.1 L20.5 458.0 L21.3 458.2 L22.0 459.0 L22.8 459.8 L23.5 460.2 L24.3 460.3 L25.1 461.9 L25.8 463.3 L26.6 464.2 L27.3 464.0 L28.1 463.9 L28.8 463.4 L29.6 463.3 L30.3 463.0 L31.1 464.2 L31.8 465.2 L32.6 467.0 L33.3 468.7 L34.1 470.1 L34.8 471.5 L35.6 471.6 L36.4 471.5 L37.1 470.0 L37.9 468.1 L38.6 466.5 L39.4 464.4 L40.1 462.4 L40.9 460.6 L41.6 457.7 L42.4 455.0 L43.1 452.4 L43.9 450.1 L44.6 448.3 L45.4 446.1 L46.1 444.1 L46.9 441.4 L47.7 438.8 L48.4 436.6 L49.2 435.0 L49.9 432.7 L50.7 430.9 L51.4 429.9 L52.2 428.4 L52.9 426.7 L53.7 425.6 L54.4 425.9 L55.2 425.7 L55.9 425.1 L56.7 424.0 L57.5 422.0 L58.2 420.2 L59.0 418.4 L59.7 416.8 L60.5 415.2 L61.2 413.9 L62.0 413.2 L62.7 413.7 L63.5 414.3 L64.2 414.5 L65.0 413.9 L65.7 412.9 L66.5 411.5 L67.2 409.7 L68.0 408.2 L68.8 406.5 L69.5 404.7 L70.3 402.3 L71.0 400.2 L71.8 398.2 L72.5 396.6 L73.3 394.8 L74.0 393.7 L74.8 393.2 L75.5 393.2 L76.3 392.1 L77.0 391.3 L77.8 390.8 L78.6 391.7 L79.3 392.8 L80.1 393.0 L80.8 392.4 L81.6 391.8 L82.3 390.7 L83.1 389.4 L83.8 388.1 L84.6 387.0 L85.3 385.0 L86.1 382.9 L86.8 381.5 L87.6 379.7 L88.3 378.5 L89.1 377.8 L89.9 376.7 L90.6 376.3 L91.4 376.7 L92.1 377.2 L92.9 378.7 L93.6 378.9 L94.4 380.7 L95.1 381.9 L95.9 382.8 L96.6 383.7 L97.4 383.3 L98.1 382.9 L98.9 381.2 L99.6 379.7 L100.4 378.1 L101.2 377.2 L101.9 376.0 L102.7 374.1 L103.4 372.4 L104.2 370.8 L104.9 370.2 L105.7 369.8 L106.4 368.7 L107.2 367.7 L107.9 366.6 L108.7 366.5 L109.4 366.3 L110.2 365.4 L111.0 364.5 L111.7 364.2 L112.5 363.6 L113.2 363.3 L114.0 363.5 L114.7 363.6 L115.5 363.2 L116.2 362.7 L117.0 361.9 L117.7 361.4 L118.5 360.9 L119.2 361.2 L120.0 361.1 L120.7 360.4 L121.5 359.5 L122.3 358.6 L123.0 357.5 L123.8 356.4 L124.5 355.5 L125.3 354.6 L126.0 354.5 L126.8 353.4 L127.5 352.2 L128.3 351.1 L129.0 349.9 L129.8 348.6 L130.5 347.3 L131.3 346.7 L132.0 345.7 L132.8 344.6 L133.6 344.3 L134.3 343.3 L135.1 343.0 L135.8 343.9 L136.6 346.0 L137.3 347.6 L138.1 349.4 L138.8 350.7 L139.6 352.5 L140.3 354.8 L141.1 356.0 L141.8 356.3 L142.6 357.0 L143.4 359.4 L144.1 361.4 L144.9 363.7 L145.6 365.1 L146.4 366.4 L147.1 367.1 L147.9 367.9 L148.6 367.5 L149.4 367.0 L150.1 366.1 L150.9 365.2 L151.6 364.4 L152.4 364.4 L153.1 363.9 L153.9 363.5 L154.7 363.0 L155.4 362.1 L156.2 361.0 L156.9 360.1 L157.7 359.0 L158.4 357.2 L159.2 355.5 L159.9 353.9 L160.7 352.2 L161.4 350.4 L162.2 348.8 L162.9 347.3 L163.7 345.5 L164.4 343.5 L165.2 341.7 L166.0 340.4 L166.7 338.9 L167.5 337.1 L168.2 335.8 L169.0 334.7 L169.7 333.7 L170.5 332.5 L171.2 331.3 L172.0 330.5 L172.7 329.3 L173.5 327.7 L174.2 326.2 L175.0 325.1 L175.8 324.0 L176.5 322.5 L177.3 321.1 L178.0 319.7 L178.8 317.8 L179.5 316.0 L180.3 315.4 L181.0 314.6 L181.8 313.4 L182.5 312.3 L183.3 311.2 L184.0 309.7 L184.8 308.7 L185.5 309.2 L186.3 309.3 L187.1 308.6 L187.8 309.0 L188.6 308.6 L189.3 309.7 L190.1 311.1 L190.8 314.4 L191.6 318.3 L192.3 319.2 L193.1 320.3 L193.8 320.4 L194.6 321.2 L195.3 323.2 L196.1 324.9 L196.8 327.2 L197.6 329.7 L198.4 334.2 L199.1 337.5 L199.9 341.2 L200.6 344.5 L201.4 347.8 L202.1 349.0 L202.9 350.7 L203.6 353.3 L204.4 354.2 L205.1 354.7 L205.9 357.2 L206.6 360.3 L207.4 362.4 L208.2 364.7 L208.9 365.1 L209.7 365.2 L210.4 365.4 L211.2 364.2 L211.9 363.2 L212.7 362.2 L213.4 361.2 L214.2 360.5 L214.9 360.8 L215.7 361.3 L216.4 362.8 L217.2 363.9 L217.9 365.0 L218.7 367.8 L219.5 370.9 L220.2 373.9 L221.0 376.8 L221.7 379.2 L222.5 379.6 L223.2 379.5 L224.0 379.0 L224.7 378.4 L225.5 377.1 L226.2 375.8 L227.0 374.7 L227.7 375.3 L228.5 375.5 L229.3 375.0 L230.0 375.4 L230.8 374.4 L231.5 373.0 L232.3 371.1 L233.0 369.5 L233.8 368.4 L234.5 367.6 L235.3 367.0 L236.0 365.1 L236.8 363.6 L237.5 362.0 L238.3 360.6 L239.0 359.5 L239.8 358.2 L240.6 357.4 L241.3 358.3 L242.1 359.5 L242.8 360.8 L243.6 362.0 L244.3 362.3 L245.1 362.6 L245.8 363.8 L246.6 365.1 L247.3 366.5 L248.1 368.6 L248.8 370.3 L249.6 372.2 L250.3 373.1 L251.1 374.7 L251.9 376.2 L252.6 375.8 L253.4 375.0 L254.1 373.5 L254.9 372.8 L255.6 371.7 L256.4 370.5 L257.1 369.2 L257.9 367.3 L258.6 365.6 L259.4 363.9 L260.1 362.3 L260.9 360.9 L261.7 358.7 L262.4 356.8 L263.2 355.4 L263.9 354.7 L264.7 352.7 L265.4 351.3 L266.2 349.7 L266.9 348.5 L267.7 347.5 L268.4 346.4 L269.2 345.9 L269.9 344.1 L270.7 342.6 L271.4 341.3 L272.2 339.7 L273.0 338.3 L273.7 336.8 L274.5 335.0 L275.2 333.6 L276.0 332.2 L276.7 330.4 L277.5 329.9 L278.2 328.7 L279.0 327.6 L279.7 326.4 L280.5 325.1 L281.2 324.0 L282.0 323.2 L282.7 322.4 L283.5 321.7 L284.3 321.0 L285.0 319.8 L285.8 318.6 L286.5 316.2 L287.3 313.8 L288.0 311.8 L288.8 310.5 L289.5 309.0 L290.3 307.9 L291.0 307.7 L291.8 307.7 L292.5 308.6 L293.3 309.4 L294.1 309.2 L294.8 308.9 L295.6 308.7 L296.3 309.4 L297.1 309.1 L297.8 309.4 L298.6 309.6 L299.3 310.3 L300.1 309.5 L300.8 308.0 L301.6 306.4 L302.3 305.1 L303.1 303.9 L303.8 302.5 L304.6 301.0 L305.4 299.3 L306.1 297.7 L306.9 296.3 L307.6 295.3 L308.4 293.9 L309.1 292.7 L309.9 291.4 L310.6 289.8 L311.4 288.2 L312.1 286.8 L312.9 285.5 L313.6 284.3 L314.4 283.1 L315.1 282.2 L315.9 281.3 L316.7 279.8 L317.4 278.5 L318.2 277.0 L318.9 275.8 L319.7 274.8 L320.4 274.0 L321.2 273.0 L321.9 271.5 L322.7 270.3 L323.4 268.7 L324.2 267.1 L324.9 266.4 L325.7 265.8 L326.5 265.2 L327.2 264.2 L328.0 263.2 L328.7 262.1 L329.5 260.9 L330.2 261.1 L331.0 260.7 L331.7 259.3 L332.5 258.1 L333.2 256.9 L334.0 255.6 L334.7 254.0 L335.5 252.3 L336.2 250.9 L337.0 249.6 L337.8 248.0 L338.5 246.5 L339.3 245.3 L340.0 243.7 L340.8 242.1 L341.5 240.5 L342.3 240.6 L343.0 241.0 L343.8 241.5 L344.5 241.2 L345.3 240.5 L346.0 241.1 L346.8 241.4 L347.5 240.5 L348.3 240.3 L349.1 240.6 L349.8 240.3 L350.6 240.1 L351.3 241.3 L352.1 241.8 L352.8 242.7 L353.6 244.3 L354.3 247.1 L355.1 248.8 L355.8 249.9 L356.6 250.0 L357.3 250.3 L358.1 250.3 L358.9 249.7 L359.6 249.0 L360.4 248.5 L361.1 247.5 L361.9 246.2 L362.6 245.2 L363.4 243.8 L364.1 242.6 L364.9 241.5 L365.6 240.4 L366.4 239.5 L367.1 238.9 L367.9 238.6 L368.6 238.9 L369.4 239.2 L370.2 239.4 L370.9 239.3 L371.7 240.0 L372.4 240.2 L373.2 239.5 L373.9 238.4 L374.7 237.6 L375.4 236.2 L376.2 234.5 L376.9 232.7 L377.7 230.9 L378.4 229.4 L379.2 228.3 L380.0 227.8 L380.7 228.0 L381.5 227.9 L382.2 227.5 L383.0 226.5 L383.7 226.5 L384.5 226.1 L385.2 226.3 L386.0 226.9 L386.7 227.5 L387.5 227.5 L388.2 227.2 L389.0 227.6 L389.7 228.7 L390.5 229.8 L391.3 230.6 L392.0 231.0 L392.8 231.1 L393.5 230.5 L394.3 231.5 L395.0 232.5 L395.8 234.1 L396.5 236.3 L397.3 238.4 L398.0 240.5 L398.8 242.0 L399.5 244.3 L400.3 246.3 L401.0 247.2 L401.8 249.3 L402.6 251.0 L403.3 252.4 L404.1 253.3 L404.8 253.2 L405.6 253.5 L406.3 254.0 L407.1 255.2 L407.8 255.8 L408.6 255.3 L409.3 254.4 L410.1 252.8 L410.8 250.4 L411.6 248.3 L412.4 246.3 L413.1 243.8 L413.9 242.0 L414.6 241.7 L415.4 241.7 L416.1 241.5 L416.9 241.8 L417.6 241.6 L418.4 242.1 L419.1 241.4 L419.9 240.8 L420.6 239.3 L421.4 237.9 L422.1 237.0 L422.9 236.5 L423.7 237.4 L424.4 238.6 L425.2 240.0 L425.9 241.6 L426.7 244.8 L427.4 247.4 L428.2 252.9 L428.9 257.9 L429.7 266.8 L430.4 271.9 L431.2 279.3 L431.9 283.3 L432.7 286.5 L433.4 288.1 L434.2 290.1 L435.0 291.9 L435.7 296.4 L436.5 301.3 L437.2 305.8 L438.0 307.8 L438.7 308.8 L439.5 310.6 L440.2 311.4 L441.0 310.3 L441.7 309.1 L442.5 307.8 L443.2 307.3 L444.0 308.5 L444.8 310.1 L445.5 309.7 L446.3 310.1 L447.0 312.1 L447.8 313.5 L448.5 314.2 L449.3 313.9 L450.0 312.7 L450.8 311.1 L451.5 310.4 L452.3 309.8 L453.0 311.1 L453.8 314.4 L454.5 316.9 L455.3 317.8 L456.1 317.9 L456.8 319.4 L457.6 320.2 L458.3 322.4 L459.1 326.2 L459.8 328.3 L460.6 329.1 L461.3 328.7 L462.1 328.9 L462.8 326.9 L463.6 325.1 L464.3 322.9 L465.1 321.0 L465.8 318.2 L466.6 317.0 L467.4 314.5 L468.1 313.1 L468.9 311.6 L469.6 309.0 L470.4 305.7 L471.1 304.2 L471.9 302.1 L472.6 297.9 L473.4 294.1 L474.1 292.3 L474.9 292.6 L475.6 291.8 L476.4 289.8 L477.2 288.5 L477.9 286.9 L478.7 284.6 L479.4 285.0 L480.2 284.9 L480.9 283.4 L481.7 282.8 L482.4 281.8 L483.2 282.1 L483.9 283.5 L484.7 284.7 L485.4 287.1 L486.2 289.5 L486.9 293.1 L487.7 296.4 L488.5 297.7 L489.2 298.7 L490.0 296.8 L490.7 295.3 L491.5 293.9 L492.2 292.0 L493.0 290.1 L493.7 288.3 L494.5 288.1 L495.2 286.8 L496.0 286.7 L496.7 287.1 L497.5 288.2 L498.2 289.0 L499.0 289.5 L499.8 290.8 L500.5 290.0 L501.3 289.1 L502.0 287.8 L502.8 286.0 L503.5 284.4 L504.3 283.7 L505.0 282.5 L505.8 281.6 L506.5 279.7 L507.3 278.1 L508.0 276.4 L508.8 275.0 L509.6 273.6 L510.3 271.7 L511.1 270.0 L511.8 268.3 L512.6 267.1 L513.3 265.7 L514.1 263.8 L514.8 261.6 L515.6 259.7 L516.3 257.8 L517.1 256.3 L517.8 254.2 L518.6 252.8 L519.3 251.6 L520.1 250.7 L520.9 249.9 L521.6 248.6 L522.4 247.3 L523.1 245.1 L523.9 243.2 L524.6 241.3 L525.4 239.4 L526.1 237.6 L526.9 236.5 L527.6 234.9 L528.4 233.6 L529.1 232.8 L529.9 231.3 L530.7 229.8 L531.4 228.4 L532.2 227.3 L532.9 226.0 L533.7 224.8 L534.4 223.5 L535.2 222.1 L535.9 221.2 L536.7 220.0 L537.4 219.1 L538.2 218.5 L538.9 219.2 L539.7 219.3 L540.4 218.6 L541.2 217.8 L542.0 217.0 L542.7 215.0 L543.5 213.2 L544.2 211.2 L545.0 209.3 L545.7 207.3 L546.5 205.7 L547.2 204.4 L548.0 203.7 L548.7 202.9 L549.5 201.1 L550.2 199.7 L551.0 198.8 L551.7 198.2 L552.5 197.3 L553.3 195.9 L554.0 194.9 L554.8 194.9 L555.5 194.8 L556.3 195.7 L557.0 197.7 L557.8 198.9 L558.5 199.1 L559.3 200.1 L560.0 201.1 L560.8 200.9 L561.5 201.0 L562.3 201.5 L563.1 201.9 L563.8 202.8 L564.6 203.5 L565.3 203.0 L566.1 202.1 L566.8 201.1 L567.6 200.5 L568.3 199.5 L569.1 198.8 L569.8 198.8 L570.6 199.9 L571.3 200.9 L572.1 202.1 L572.8 203.7 L573.6 205.0 L574.4 206.4 L575.1 208.5 L575.9 210.7 L576.6 213.1 L577.4 216.3 L578.1 219.7 L578.9 221.7 L579.6 223.5 L580.4 224.9 L581.1 226.2 L581.9 227.4 L582.6 227.8 L583.4 229.2 L584.1 230.6 L584.9 233.5 L585.7 236.2 L586.4 238.3 L587.2 238.5 L587.9 238.8 L588.7 238.4 L589.4 239.0 L590.2 238.7 L590.9 238.9 L591.7 238.4 L592.4 237.2 L593.2 236.0 L593.9 234.2 L594.7 232.6 L595.5 232.9 L596.2 232.6 L597.0 233.5 L597.7 233.9 L598.5 233.7 L599.2 233.7 L600.0 231.9 L600.7 230.1 L601.5 228.0 L602.2 226.4 L603.0 225.7 L603.7 225.2 L604.5 225.3 L605.2 225.4 L606.0 225.8 L606.8 225.0 L607.5 224.5 L608.3 223.5 L609.0 222.1 L609.8 220.6 L610.5 220.0 L611.3 220.1 L612.0 220.9 L612.8 221.6 L613.5 221.0 L614.3 219.2 L615.0 217.5 L615.8 216.3 L616.5 215.5 L617.3 215.2 L618.1 213.7 L618.8 212.0 L619.6 210.2 L620.3 208.5 L621.1 206.9 L621.8 205.3 L622.6 204.0 L623.3 202.8 L624.1 201.6 L624.8 200.0 L625.6 198.4 L626.3 197.0 L627.1 195.9 L627.9 195.0 L628.6 194.7 L629.4 194.0 L630.1 193.4 L630.9 192.9 L631.6 192.4 L632.4 192.6 L633.1 192.3 L633.9 192.1 L634.6 192.1 L635.4 190.5 L636.1 188.8 L636.9 187.7 L637.6 186.4 L638.4 185.2 L639.2 182.8 L639.9 180.3 L640.7 178.3 L641.4 176.6 L642.2 174.9 L642.9 173.5 L643.7 172.2 L644.4 171.2 L645.2 171.1 L645.9 171.4 L646.7 171.0 L647.4 171.0 L648.2 170.8 L649.0 170.5 L649.7 170.0 L650.5 168.9 L651.2 168.0 L652.0 167.5 L652.7 167.7 L653.5 168.4 L654.2 169.1 L655.0 169.9 L655.7 170.0 L656.5 169.3 L657.2 168.4 L658.0 167.7 L658.7 168.4 L659.5 169.0 L660.3 170.6 L661.0 172.3 L661.8 173.6 L662.5 174.9 L663.3 176.0 L664.0 176.2 L664.8 177.1 L665.5 177.7 L666.3 177.7 L667.0 179.5 L667.8 182.1 L668.5 184.2 L669.3 186.2 L670.0 188.2 L670.8 191.1 L671.6 193.8 L672.3 195.9 L673.1 196.4 L673.8 196.8 L674.6 196.9 L675.3 196.1 L676.1 195.5 L676.8 195.4 L677.6 194.7 L678.3 193.7 L679.1 192.8 L679.8 192.4 L680.6 192.1 L681.4 191.8 L682.1 191.2 L682.9 190.4 L683.6 189.7 L684.4 188.6 L685.1 187.6 L685.9 187.1 L686.6 187.0 L687.4 186.0 L688.1 184.2 L688.9 183.2 L689.6 181.8 L690.4 181.3 L691.1 181.1 L691.9 181.2 L692.7 181.4 L693.4 182.4 L694.2 182.1 L694.9 179.8 L695.7 178.0 L696.4 175.9 L697.2 174.3 L697.9 173.1 L698.7 171.8 L699.4 170.0 L700.2 168.4 L700.9 167.0 L701.7 165.7 L702.4 164.4 L703.2 162.9 L704.0 161.2 L704.7 159.4 L705.5 157.6 L706.2 155.9 L707.0 154.0 L707.7 152.4 L708.5 150.6 L709.2 149.2 L710.0 148.2 L710.7 146.5 L711.5 145.9 L712.2 144.5 L713.0 143.2 L713.8 142.1 L714.5 140.7 L715.3 139.5 L716.0 138.3 L716.8 137.1 L717.5 136.0 L718.3 135.1 L719.0 133.7 L719.8 133.4 L720.5 133.7 L721.3 133.2 L722.0 134.3 L722.8 134.7 L723.5 134.1 L724.3 133.7 L725.1 133.1 L725.8 132.2 L726.6 130.5 L727.3 129.0 L728.1 127.4 L728.8 125.7 L729.6 123.8 L730.3 122.3 L731.1 120.8 L731.8 119.1 L732.6 117.6 L733.3 116.7 L734.1 116.1 L734.8 115.0 L735.6 114.7 L736.4 113.8 L737.1 113.3 L737.9 112.2 L738.6 111.3 L739.4 110.1 L740.1 109.4 L740.9 108.3 L741.6 108.2 L742.4 107.8 L743.1 107.8 L743.9 107.3 L744.6 106.5 L745.4 104.8 L746.2 102.9 L746.9 101.5 L747.7 102.1 L748.4 101.5 L749.2 102.1 L749.9 103.3 L750.7 103.6 L751.4 103.5 L752.2 102.5 L752.9 101.7 L753.7 100.2" stroke="#dc143c" stroke-width="1"/>
</g>
<g stroke="#ff0000" stroke-width="1" fill="none" shape-rendering="crispEdges">
<line x1="545" y1="183.5" x2="755" y2="93.8"/>
<line x1="640" y1="152" x2="755" y2="91.2"/>
<line x1="640" y1="152.5" x2="696" y2="159"/>
<line x1="581" y1="271.3" x2="711.5" y2="205.6"/>
<line x1="577" y1="237.5" x2="641" y2="151.5"/>
<line x1="585.5" y1="267" x2="758" y2="49"/>
<line x1="585.5" y1="267.5" x2="656" y2="166"/>
<line x1="672.4" y1="224.5" x2="758" y2="116"/>
<line x1="672.4" y1="224.5" x2="749" y2="84"/>
<line x1="672.4" y1="224.5" x2="696" y2="159"/>
<line x1="672.4" y1="224.5" x2="754" y2="106"/>
</g>
<g stroke="#0000ff" stroke-width="1" shape-rendering="crispEdges">
<line x1="713" x2="758" y1="83.5" y2="83.5"/>
<line x1="713" x2="758" y1="107.5" y2="107.5"/>
<line x1="713" x2="758" y1="115.5" y2="115.5"/>
<line x1="713" x2="758" y1="122.5" y2="122.5"/>
<line x1="713" x2="758" y1="146.5" y2="146.5"/>
<line x1="704" x2="758" y1="169.5" y2="169.5"/>
<line x1="704" x2="758" y1="181.5" y2="181.5"/>
<line x1="704" x2="758" y1="185.5" y2="185.5"/>
<line x1="704" x2="758" y1="189.5" y2="189.5"/>
<line x1="704" x2="758" y1="201.5" y2="201.5"/>
<line x1="704" x2="758" y1="213.5" y2="213.5"/>
<line x1="704" x2="758" y1="221.5" y2="221.5"/>
</g>
<g fill="#0000ff" stroke="#0000ff" stroke-width="0.25">
<text x="712.5" y="96" textLength="32" lengthAdjust="spacingAndGlyphs">0,00%</text>
<text x="749" y="96" textLength="5" lengthAdjust="spacingAndGlyphs">-</text>
<text x="757" y="96" textLength="39" lengthAdjust="spacingAndGlyphs">1597,35</text>
<text x="712.5" y="120" textLength="38" lengthAdjust="spacingAndGlyphs">38,20%</text>
<text x="755" y="120" textLength="5" lengthAdjust="spacingAndGlyphs">-</text>
<text x="763" y="120" textLength="39" lengthAdjust="spacingAndGlyphs">1554,44</text>
<text x="712.5" y="128" textLength="38" lengthAdjust="spacingAndGlyphs">50,00%</text>
<text x="755" y="128" textLength="5" lengthAdjust="spacingAndGlyphs">-</text>
<text x="763" y="128" textLength="39" lengthAdjust="spacingAndGlyphs">1541,18</text>
<text x="712.5" y="135" textLength="38" lengthAdjust="spacingAndGlyphs">61,80%</text>
<text x="755" y="135" textLength="5" lengthAdjust="spacingAndGlyphs">-</text>
<text x="763" y="135" textLength="39" lengthAdjust="spacingAndGlyphs">1527,93</text>
<text x="712.5" y="159" textLength="44" lengthAdjust="spacingAndGlyphs">100,00%</text>
<text x="761" y="159" textLength="5" lengthAdjust="spacingAndGlyphs">-</text>
<text x="769" y="159" textLength="39" lengthAdjust="spacingAndGlyphs">1485,01</text>
<text x="703.5" y="182" textLength="32" lengthAdjust="spacingAndGlyphs">0,00%</text>
<text x="740" y="182" textLength="5" lengthAdjust="spacingAndGlyphs">-</text>
<text x="748" y="182" textLength="39" lengthAdjust="spacingAndGlyphs">1443,21</text>
<text x="703.5" y="194" textLength="38" lengthAdjust="spacingAndGlyphs">38,20%</text>
<text x="746" y="194" textLength="5" lengthAdjust="spacingAndGlyphs">-</text>
<text x="754" y="194" textLength="39" lengthAdjust="spacingAndGlyphs">1421,33</text>
<text x="703.5" y="198" textLength="38" lengthAdjust="spacingAndGlyphs">50,00%</text>
<text x="746" y="198" textLength="5" lengthAdjust="spacingAndGlyphs">-</text>
<text x="754" y="198" textLength="39" lengthAdjust="spacingAndGlyphs">1414,57</text>
<text x="703.5" y="202" textLength="38" lengthAdjust="spacingAndGlyphs">61,80%</text>
<text x="746" y="202" textLength="5" lengthAdjust="spacingAndGlyphs">-</text>
<text x="754" y="202" textLength="39" lengthAdjust="spacingAndGlyphs">1407,81</text>
<text x="703.5" y="214" textLength="44" lengthAdjust="spacingAndGlyphs">100,00%</text>
<text x="752" y="214" textLength="5" lengthAdjust="spacingAndGlyphs">-</text>
<text x="760" y="214" textLength="39" lengthAdjust="spacingAndGlyphs">1385,93</text>
<text x="703.5" y="226" textLength="44" lengthAdjust="spacingAndGlyphs">138,20%</text>
<text x="752" y="226" textLength="5" lengthAdjust="spacingAndGlyphs">-</text>
<text x="760" y="226" textLength="39" lengthAdjust="spacingAndGlyphs">1364,05</text>
<text x="703.5" y="234" textLength="44" lengthAdjust="spacingAndGlyphs">161,80%</text>
<text x="752" y="234" textLength="5" lengthAdjust="spacingAndGlyphs">-</text>
<text x="760" y="234" textLength="39" lengthAdjust="spacingAndGlyphs">1350,53</text>
</g>
<text x="757.5" y="64" text-anchor="end" fill="#ff0000" stroke="#ff0000" stroke-width="0.25" textLength="39" lengthAdjust="spacingAndGlyphs">1652,52</text>
</g>
<rect x="1.5" y="1.5" width="757" height="579" fill="none" stroke="#000" stroke-width="1" shape-rendering="crispEdges"/>
<rect x="2.5" y="2.5" width="755" height="577" fill="none" stroke="#fff" stroke-width="1" shape-rendering="crispEdges"/>
<g shape-rendering="crispEdges" stroke="#505050" stroke-width="1">
<line x1="761" x2="765" y1="25.5" y2="25.5"/>
<line x1="761" x2="765" y1="53.5" y2="53.5"/>
<line x1="761" x2="765" y1="81.5" y2="81.5"/>
<line x1="761" x2="765" y1="109.5" y2="109.5"/>
<line x1="761" x2="765" y1="137.5" y2="137.5"/>
<line x1="761" x2="765" y1="165.5" y2="165.5"/>
<line x1="761" x2="765" y1="193.5" y2="193.5"/>
<line x1="761" x2="765" y1="221.5" y2="221.5"/>
<line x1="761" x2="765" y1="249.5" y2="249.5"/>
<line x1="761" x2="765" y1="277.5" y2="277.5"/>
<line x1="761" x2="765" y1="305.5" y2="305.5"/>
<line x1="761" x2="765" y1="333.5" y2="333.5"/>
<line x1="761" x2="765" y1="361.5" y2="361.5"/>
<line x1="761" x2="765" y1="389.5" y2="389.5"/>
<line x1="761" x2="765" y1="417.5" y2="417.5"/>
<line x1="761" x2="765" y1="445.5" y2="445.5"/>
<line x1="761" x2="765" y1="473.5" y2="473.5"/>
<line x1="761" x2="765" y1="501.5" y2="501.5"/>
<line x1="761" x2="765" y1="529.5" y2="529.5"/>
<line x1="761" x2="765" y1="557.5" y2="557.5"/>
</g><g shape-rendering="crispEdges" stroke="#000" stroke-width="1">
<line y1="584" y2="588" x1="30.5" x2="30.5"/>
<line y1="584" y2="588" x1="78.5" x2="78.5"/>
<line y1="584" y2="588" x1="126.5" x2="126.5"/>
<line y1="584" y2="588" x1="172.5" x2="172.5"/>
<line y1="584" y2="588" x1="220.5" x2="220.5"/>
<line y1="584" y2="588" x1="268.5" x2="268.5"/>
<line y1="584" y2="588" x1="316.5" x2="316.5"/>
<line y1="584" y2="588" x1="363.5" x2="363.5"/>
<line y1="584" y2="588" x1="410.5" x2="410.5"/>
<line y1="584" y2="588" x1="459.5" x2="459.5"/>
<line y1="584" y2="588" x1="506.5" x2="506.5"/>
<line y1="584" y2="588" x1="553.5" x2="553.5"/>
<line y1="584" y2="588" x1="600.5" x2="600.5"/>
<line y1="584" y2="588" x1="648.5" x2="648.5"/>
<line y1="584" y2="588" x1="694.5" x2="694.5"/>
</g><g fill="#000" stroke="#000" stroke-width="0.2">
<text x="767.3" y="30" textLength="22" lengthAdjust="spacingAndGlyphs">1700</text>
<text x="767.3" y="58" textLength="22" lengthAdjust="spacingAndGlyphs">1650</text>
<text x="767.3" y="86" textLength="22" lengthAdjust="spacingAndGlyphs">1600</text>
<text x="767.3" y="114" textLength="22" lengthAdjust="spacingAndGlyphs">1550</text>
<text x="767.3" y="142" textLength="22" lengthAdjust="spacingAndGlyphs">1500</text>
<text x="767.3" y="170" textLength="22" lengthAdjust="spacingAndGlyphs">1450</text>
<text x="767.3" y="198" textLength="22" lengthAdjust="spacingAndGlyphs">1400</text>
<text x="767.3" y="226" textLength="22" lengthAdjust="spacingAndGlyphs">1350</text>
<text x="767.3" y="254" textLength="22" lengthAdjust="spacingAndGlyphs">1300</text>
<text x="767.3" y="282" textLength="22" lengthAdjust="spacingAndGlyphs">1250</text>
<text x="767.3" y="310" textLength="22" lengthAdjust="spacingAndGlyphs">1200</text>
<text x="767.3" y="338" textLength="22" lengthAdjust="spacingAndGlyphs">1150</text>
<text x="767.3" y="366" textLength="22" lengthAdjust="spacingAndGlyphs">1100</text>
<text x="767.3" y="394" textLength="22" lengthAdjust="spacingAndGlyphs">1050</text>
<text x="767.3" y="422" textLength="22" lengthAdjust="spacingAndGlyphs">1000</text>
<text x="767.3" y="450" textLength="17" lengthAdjust="spacingAndGlyphs">950</text>
<text x="767.3" y="478" textLength="17" lengthAdjust="spacingAndGlyphs">900</text>
<text x="767.3" y="506" textLength="17" lengthAdjust="spacingAndGlyphs">850</text>
<text x="767.3" y="534" textLength="17" lengthAdjust="spacingAndGlyphs">800</text>
<text x="767.3" y="562" textLength="17" lengthAdjust="spacingAndGlyphs">750</text>
<text x="32" y="597" textLength="13" lengthAdjust="spacingAndGlyphs">Jul</text>
<text x="80" y="597" textLength="17" lengthAdjust="spacingAndGlyphs">Okt</text>
<text x="128" y="597" textLength="23" lengthAdjust="spacingAndGlyphs">2010</text>
<text x="174" y="597" textLength="17" lengthAdjust="spacingAndGlyphs">Apr</text>
<text x="222" y="597" textLength="13" lengthAdjust="spacingAndGlyphs">Jul</text>
<text x="270" y="597" textLength="17" lengthAdjust="spacingAndGlyphs">Okt</text>
<text x="318" y="597" textLength="23" lengthAdjust="spacingAndGlyphs">2011</text>
<text x="365" y="597" textLength="17" lengthAdjust="spacingAndGlyphs">Apr</text>
<text x="412" y="597" textLength="13" lengthAdjust="spacingAndGlyphs">Jul</text>
<text x="461" y="597" textLength="17" lengthAdjust="spacingAndGlyphs">Okt</text>
<text x="508" y="597" textLength="23" lengthAdjust="spacingAndGlyphs">2012</text>
<text x="555" y="597" textLength="17" lengthAdjust="spacingAndGlyphs">Apr</text>
<text x="602" y="597" textLength="13" lengthAdjust="spacingAndGlyphs">Jul</text>
<text x="650" y="597" textLength="17" lengthAdjust="spacingAndGlyphs">Okt</text>
<text x="696" y="597" textLength="23" lengthAdjust="spacingAndGlyphs">2013</text>
<text x="763" y="13" textLength="17" lengthAdjust="spacingAndGlyphs">XXP</text>
</g>
<text x="17.5" y="14" fill="#000" stroke="#000" stroke-width="0.2" textLength="18" lengthAdjust="spacingAndGlyphs">S&amp;P</text>
<text x="39.2" y="14" fill="#000" stroke="#000" stroke-width="0.2" textLength="18.8" lengthAdjust="spacingAndGlyphs">500</text>
<text x="60.3" y="14" fill="#000" stroke="#000" stroke-width="0.2" textLength="30.2" lengthAdjust="spacingAndGlyphs">INDEX</text>
<text x="93.7" y="14" fill="#000" stroke="#000" stroke-width="0.2" textLength="24.0" lengthAdjust="spacingAndGlyphs">[.INX</text>
<text x="125.3" y="14" fill="#000" stroke="#000" stroke-width="0.2" textLength="36.2" lengthAdjust="spacingAndGlyphs">Täglich]</text>
<text x="164.4" y="14" fill="#000" stroke="#000" stroke-width="0.2" textLength="55.9" lengthAdjust="spacingAndGlyphs">25.04.2013</text>
<text x="223.4" y="14" fill="#000" stroke="#000" stroke-width="0.2" textLength="4.3" lengthAdjust="spacingAndGlyphs">-</text>
<text x="230.5" y="14" fill="#ff0000" stroke="#ff0000" stroke-width="0.2" textLength="51.6" lengthAdjust="spacingAndGlyphs">O:1578,93</text>
<text x="285.2" y="14" fill="#000" stroke="#000" stroke-width="0.2" textLength="51.4" lengthAdjust="spacingAndGlyphs">H:1592,64</text>
<text x="340.1" y="14" fill="#000" stroke="#000" stroke-width="0.2" textLength="47.9" lengthAdjust="spacingAndGlyphs">L:1578,93</text>
<text x="391.5" y="14" fill="#ff0000" stroke="#ff0000" stroke-width="0.2" textLength="50.8" lengthAdjust="spacingAndGlyphs">C:1591,75</text>
<text x="446.0" y="14" fill="#ff0000" stroke="#ff0000" stroke-width="0.2" textLength="35.1" lengthAdjust="spacingAndGlyphs">+12,96</text>
<text x="484.8" y="14" fill="#ff0000" stroke="#ff0000" stroke-width="0.2" textLength="40.6" lengthAdjust="spacingAndGlyphs">+0,82%</text>
<text x="17.5" y="29" fill="#000" stroke="#000" stroke-width="0.2" textLength="40" lengthAdjust="spacingAndGlyphs">Bollinger</text>
<text x="60.0" y="29" fill="#000" stroke="#000" stroke-width="0.2" textLength="28.8" lengthAdjust="spacingAndGlyphs">Bands</text>
<text x="92.5" y="29" fill="#000" stroke="#000" stroke-width="0.2" textLength="33.8" lengthAdjust="spacingAndGlyphs">[Close,</text>
<text x="128.8" y="29" fill="#000" stroke="#000" stroke-width="0.2" textLength="15.0" lengthAdjust="spacingAndGlyphs">20,</text>
<text x="147.8" y="29" fill="#000" stroke="#000" stroke-width="0.2" textLength="6.5" lengthAdjust="spacingAndGlyphs">2</text>
<text x="155.1" y="29" fill="#000" stroke="#000" stroke-width="0.2" textLength="4.6" lengthAdjust="spacingAndGlyphs">]</text>
<text x="161.4" y="29" fill="#008000" stroke="#008000" stroke-width="0.2" textLength="16.5" lengthAdjust="spacingAndGlyphs">Mid</text>
<text x="180.7" y="29" fill="#008000" stroke="#008000" stroke-width="0.2" textLength="19.3" lengthAdjust="spacingAndGlyphs">Line</text>
<text x="202.6" y="29" fill="#008000" stroke="#008000" stroke-width="0.2" textLength="40.1" lengthAdjust="spacingAndGlyphs">1567,89</text>
<text x="245.0" y="29" fill="#808000" stroke="#808000" stroke-width="0.2" textLength="29.3" lengthAdjust="spacingAndGlyphs">Upper</text>
<text x="276.9" y="29" fill="#808000" stroke="#808000" stroke-width="0.2" textLength="24.3" lengthAdjust="spacingAndGlyphs">Band</text>
<text x="304.7" y="29" fill="#808000" stroke="#808000" stroke-width="0.2" textLength="39.7" lengthAdjust="spacingAndGlyphs">1597,04</text>
<text x="347.6" y="29" fill="#808000" stroke="#808000" stroke-width="0.2" textLength="26.8" lengthAdjust="spacingAndGlyphs">Lower</text>
<text x="377.2" y="29" fill="#808000" stroke="#808000" stroke-width="0.2" textLength="26.3" lengthAdjust="spacingAndGlyphs">Band</text>
<text x="406.9" y="29" fill="#808000" stroke="#808000" stroke-width="0.2" textLength="39.8" lengthAdjust="spacingAndGlyphs">1538,74</text>
<text x="450.2" y="29" fill="#ff0000" stroke="#ff0000" stroke-width="0.2" textLength="29.7" lengthAdjust="spacingAndGlyphs">+1,45</text>
<text x="483.4" y="29" fill="#ff0000" stroke="#ff0000" stroke-width="0.2" textLength="40.0" lengthAdjust="spacingAndGlyphs">+0,09%</text>
<text x="526.9" y="29" fill="#000" stroke="#000" stroke-width="0.2" textLength="30.6" lengthAdjust="spacingAndGlyphs">{.INX}</text>
<text x="17.5" y="44" fill="#000" stroke="#000" stroke-width="0.2" textLength="33.8" lengthAdjust="spacingAndGlyphs">Moving</text>
<text x="54.5" y="44" fill="#000" stroke="#000" stroke-width="0.2" textLength="40.2" lengthAdjust="spacingAndGlyphs">Average</text>
<text x="97.8" y="44" fill="#000" stroke="#000" stroke-width="0.2" textLength="57.1" lengthAdjust="spacingAndGlyphs">Exponential</text>
<text x="156.9" y="44" fill="#000" stroke="#000" stroke-width="0.2" textLength="34.3" lengthAdjust="spacingAndGlyphs">[Close,</text>
<text x="194.6" y="44" fill="#000" stroke="#000" stroke-width="0.2" textLength="22.3" lengthAdjust="spacingAndGlyphs">200]</text>
<text x="220.1" y="44" fill="#00fa9a" stroke="#00fa9a" stroke-width="0.2" textLength="38.7" lengthAdjust="spacingAndGlyphs">1467,04</text>
<text x="262.8" y="44" fill="#ff0000" stroke="#ff0000" stroke-width="0.2" textLength="30.1" lengthAdjust="spacingAndGlyphs">+1,25</text>
<text x="296.4" y="44" fill="#ff0000" stroke="#ff0000" stroke-width="0.2" textLength="40.2" lengthAdjust="spacingAndGlyphs">+0,09%</text>
<text x="340.1" y="44" fill="#000" stroke="#000" stroke-width="0.2" textLength="30.1" lengthAdjust="spacingAndGlyphs">{.INX}</text>
<text x="17.5" y="59" fill="#000" stroke="#000" stroke-width="0.2" textLength="33.8" lengthAdjust="spacingAndGlyphs">Moving</text>
<text x="54.5" y="59" fill="#000" stroke="#000" stroke-width="0.2" textLength="40.2" lengthAdjust="spacingAndGlyphs">Average</text>
<text x="97.8" y="59" fill="#000" stroke="#000" stroke-width="0.2" textLength="70.9" lengthAdjust="spacingAndGlyphs">Exponential(2)</text>
<text x="171.0" y="59" fill="#000" stroke="#000" stroke-width="0.2" textLength="34.0" lengthAdjust="spacingAndGlyphs">[Close,</text>
<text x="208.5" y="59" fill="#000" stroke="#000" stroke-width="0.2" textLength="16.4" lengthAdjust="spacingAndGlyphs">20]</text>
<text x="227.5" y="59" fill="#dc143c" stroke="#dc143c" stroke-width="0.2" textLength="39.6" lengthAdjust="spacingAndGlyphs">1566,63</text>
<text x="270.8" y="59" fill="#ff0000" stroke="#ff0000" stroke-width="0.2" textLength="30.1" lengthAdjust="spacingAndGlyphs">+2,64</text>
<text x="304.4" y="59" fill="#ff0000" stroke="#ff0000" stroke-width="0.2" textLength="40.0" lengthAdjust="spacingAndGlyphs">+0,17%</text>
<text x="347.9" y="59" fill="#000" stroke="#000" stroke-width="0.2" textLength="30.6" lengthAdjust="spacingAndGlyphs">{.INX}</text>
<text x="17.5" y="74" fill="#000" stroke="#000" stroke-width="0.2" textLength="33.8" lengthAdjust="spacingAndGlyphs">Moving</text>
<text x="54.5" y="74" fill="#000" stroke="#000" stroke-width="0.2" textLength="40.2" lengthAdjust="spacingAndGlyphs">Average</text>
<text x="97.8" y="74" fill="#000" stroke="#000" stroke-width="0.2" textLength="70.9" lengthAdjust="spacingAndGlyphs">Exponential(3)</text>
<text x="171.0" y="74" fill="#000" stroke="#000" stroke-width="0.2" textLength="34.0" lengthAdjust="spacingAndGlyphs">[Close,</text>
<text x="208.5" y="74" fill="#000" stroke="#000" stroke-width="0.2" textLength="16.4" lengthAdjust="spacingAndGlyphs">50]</text>
<text x="227.5" y="74" fill="#000" stroke="#000" stroke-width="0.2" textLength="39.6" lengthAdjust="spacingAndGlyphs">1547,04</text>
<text x="270.8" y="74" fill="#ff0000" stroke="#ff0000" stroke-width="0.2" textLength="30.1" lengthAdjust="spacingAndGlyphs">+1,83</text>
<text x="304.4" y="74" fill="#ff0000" stroke="#ff0000" stroke-width="0.2" textLength="40.0" lengthAdjust="spacingAndGlyphs">+0,12%</text>
<text x="347.9" y="74" fill="#000" stroke="#000" stroke-width="0.2" textLength="30.6" lengthAdjust="spacingAndGlyphs">{.INX}</text>
<text x="3.5" y="89" fill="#000" stroke="#000" stroke-width="0.2" textLength="10" lengthAdjust="spacingAndGlyphs">©</text>
<text x="16.7" y="89" fill="#000" stroke="#000" stroke-width="0.2" textLength="132" lengthAdjust="spacingAndGlyphs">www.tradesignalonline.com</text>
<g shape-rendering="crispEdges" fill="#000">
<rect x="4" y="27" width="1" height="1"/>
<rect x="5" y="26" width="1" height="1"/>
<rect x="5" y="25" width="1" height="1"/>
<rect x="6" y="24" width="1" height="1"/>
<rect x="6" y="23" width="1" height="1"/>
<rect x="7" y="22" width="1" height="1"/>
<rect x="8" y="22" width="1" height="1"/>
<rect x="9" y="23" width="1" height="1"/>
<rect x="9" y="24" width="1" height="1"/>
<rect x="10" y="25" width="1" height="1"/>
<rect x="11" y="26" width="1" height="1"/>
<rect x="11" y="27" width="1" height="1"/>
<rect x="12" y="28" width="1" height="1"/>
<rect x="13" y="28" width="1" height="1"/>
<rect x="14" y="27" width="1" height="1"/>
<rect x="14" y="26" width="1" height="1"/>
<rect x="15" y="25" width="1" height="1"/>
<rect x="15" y="24" width="1" height="1"/>
<rect x="4" y="42" width="1" height="1"/>
<rect x="5" y="41" width="1" height="1"/>
<rect x="5" y="40" width="1" height="1"/>
<rect x="6" y="39" width="1" height="1"/>
<rect x="6" y="38" width="1" height="1"/>
<rect x="7" y="37" width="1" height="1"/>
<rect x="8" y="37" width="1" height="1"/>
<rect x="9" y="38" width="1" height="1"/>
<rect x="9" y="39" width="1" height="1"/>
<rect x="10" y="40" width="1" height="1"/>
<rect x="11" y="41" width="1" height="1"/>
<rect x="11" y="42" width="1" height="1"/>
<rect x="12" y="43" width="1" height="1"/>
<rect x="13" y="43" width="1" height="1"/>
<rect x="14" y="42" width="1" height="1"/>
<rect x="14" y="41" width="1" height="1"/>
<rect x="15" y="40" width="1" height="1"/>
<rect x="15" y="39" width="1" height="1"/>
<rect x="4" y="57" width="1" height="1"/>
<rect x="5" y="56" width="1" height="1"/>
<rect x="5" y="55" width="1" height="1"/>
<rect x="6" y="54" width="1" height="1"/>
<rect x="6" y="53" width="1" height="1"/>
<rect x="7" y="52" width="1" height="1"/>
<rect x="8" y="52" width="1" height="1"/>
<rect x="9" y="53" width="1" height="1"/>
<rect x="9" y="54" width="1" height="1"/>
<rect x="10" y="55" width="1" height="1"/>
<rect x="11" y="56" width="1" height="1"/>
<rect x="11" y="57" width="1" height="1"/>
<rect x="12" y="58" width="1" height="1"/>
<rect x="13" y="58" width="1" height="1"/>
<rect x="14" y="57" width="1" height="1"/>
<rect x="14" y="56" width="1" height="1"/>
<rect x="15" y="55" width="1" height="1"/>
<rect x="15" y="54" width="1" height="1"/>
<rect x="4" y="72" width="1" height="1"/>
<rect x="5" y="71" width="1" height="1"/>
<rect x="5" y="70" width="1" height="1"/>
<rect x="6" y="69" width="1" height="1"/>
<rect x="6" y="68" width="1" height="1"/>
<rect x="7" y="67" width="1" height="1"/>
<rect x="8" y="67" width="1" height="1"/>
<rect x="9" y="68" width="1" height="1"/>
<rect x="9" y="69" width="1" height="1"/>
<rect x="10" y="70" width="1" height="1"/>
<rect x="11" y="71" width="1" height="1"/>
<rect x="11" y="72" width="1" height="1"/>
<rect x="12" y="73" width="1" height="1"/>
<rect x="13" y="73" width="1" height="1"/>
<rect x="14" y="72" width="1" height="1"/>
<rect x="14" y="71" width="1" height="1"/>
<rect x="15" y="70" width="1" height="1"/>
<rect x="15" y="69" width="1" height="1"/>
<rect x="10" y="4" width="1" height="12"/><rect x="7" y="7" width="6" height="6"/><rect x="8" y="8" width="4" height="4" fill="#7cfc00"/></g>
</svg></body></html>
